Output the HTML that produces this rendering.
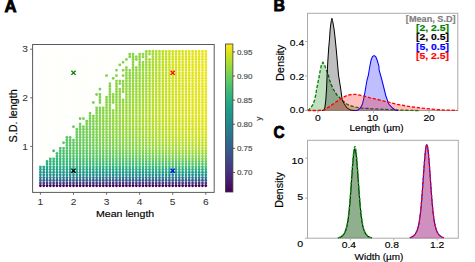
<!DOCTYPE html>
<html><head><meta charset="utf-8"><style>
html,body{margin:0;padding:0;background:#fff;width:475px;height:262px;overflow:hidden}
svg{display:block;font-family:"Liberation Sans", sans-serif}
</style></head><body>
<svg width="475" height="262" viewBox="0 0 475 262">
<rect width="475" height="262" fill="#fff"/>
<defs><linearGradient id="vg" x1="0" y1="0" x2="0" y2="1"><stop offset="0.000" stop-color="#fde725"/><stop offset="0.025" stop-color="#efe51c"/><stop offset="0.050" stop-color="#dfe318"/><stop offset="0.075" stop-color="#cde11d"/><stop offset="0.100" stop-color="#bddf26"/><stop offset="0.125" stop-color="#addc30"/><stop offset="0.150" stop-color="#9bd93c"/><stop offset="0.175" stop-color="#8bd646"/><stop offset="0.200" stop-color="#7ad151"/><stop offset="0.225" stop-color="#6ccd5a"/><stop offset="0.250" stop-color="#5ec962"/><stop offset="0.275" stop-color="#50c46a"/><stop offset="0.300" stop-color="#44bf70"/><stop offset="0.325" stop-color="#38b977"/><stop offset="0.350" stop-color="#2fb47c"/><stop offset="0.375" stop-color="#28ae80"/><stop offset="0.400" stop-color="#22a884"/><stop offset="0.425" stop-color="#1fa287"/><stop offset="0.450" stop-color="#1e9c89"/><stop offset="0.475" stop-color="#1f968b"/><stop offset="0.500" stop-color="#21918c"/><stop offset="0.525" stop-color="#238a8d"/><stop offset="0.550" stop-color="#25848e"/><stop offset="0.575" stop-color="#277e8e"/><stop offset="0.600" stop-color="#2a788e"/><stop offset="0.625" stop-color="#2c728e"/><stop offset="0.650" stop-color="#2f6c8e"/><stop offset="0.675" stop-color="#31668e"/><stop offset="0.700" stop-color="#355f8d"/><stop offset="0.725" stop-color="#38598c"/><stop offset="0.750" stop-color="#3b528b"/><stop offset="0.775" stop-color="#3e4a89"/><stop offset="0.800" stop-color="#414487"/><stop offset="0.825" stop-color="#443b84"/><stop offset="0.850" stop-color="#463480"/><stop offset="0.875" stop-color="#472d7b"/><stop offset="0.900" stop-color="#482475"/><stop offset="0.925" stop-color="#481c6e"/><stop offset="0.950" stop-color="#471365"/><stop offset="0.975" stop-color="#460a5d"/><stop offset="1.000" stop-color="#440154"/></linearGradient></defs>
<g><ellipse cx="40.40" cy="185.60" rx="1.36" ry="1.62" fill="#440154"/><ellipse cx="40.40" cy="182.91" rx="1.36" ry="1.62" fill="#433d84"/><ellipse cx="40.40" cy="180.23" rx="1.36" ry="1.62" fill="#34618d"/><ellipse cx="40.40" cy="177.54" rx="1.36" ry="1.62" fill="#2a788e"/><ellipse cx="40.40" cy="174.86" rx="1.36" ry="1.62" fill="#23898e"/><ellipse cx="40.40" cy="172.17" rx="1.36" ry="1.62" fill="#1f958b"/><ellipse cx="40.40" cy="169.48" rx="1.36" ry="1.62" fill="#1f9f88"/><ellipse cx="40.40" cy="166.80" rx="1.36" ry="1.62" fill="#21a585"/><ellipse cx="40.40" cy="164.11" rx="1.36" ry="1.62" fill="#fefefa"/><ellipse cx="40.40" cy="161.43" rx="1.36" ry="1.62" fill="#fefefa"/><ellipse cx="40.40" cy="158.74" rx="1.36" ry="1.62" fill="#fefefa"/><ellipse cx="40.40" cy="156.05" rx="1.36" ry="1.62" fill="#fefefa"/><ellipse cx="40.40" cy="153.37" rx="1.36" ry="1.62" fill="#fefefa"/><ellipse cx="40.40" cy="150.68" rx="1.36" ry="1.62" fill="#fefefa"/><ellipse cx="40.40" cy="148.00" rx="1.36" ry="1.62" fill="#fefefa"/><ellipse cx="40.40" cy="145.31" rx="1.36" ry="1.62" fill="#fefefa"/><ellipse cx="40.40" cy="142.62" rx="1.36" ry="1.62" fill="#fefefa"/><ellipse cx="40.40" cy="139.94" rx="1.36" ry="1.62" fill="#fefefa"/><ellipse cx="40.40" cy="137.25" rx="1.36" ry="1.62" fill="#fefefa"/><ellipse cx="40.40" cy="134.57" rx="1.36" ry="1.62" fill="#fefefa"/><ellipse cx="40.40" cy="131.88" rx="1.36" ry="1.62" fill="#fefefa"/><ellipse cx="40.40" cy="129.19" rx="1.36" ry="1.62" fill="#fefefa"/><ellipse cx="40.40" cy="126.51" rx="1.36" ry="1.62" fill="#fefefa"/><ellipse cx="40.40" cy="123.82" rx="1.36" ry="1.62" fill="#fefefa"/><ellipse cx="40.40" cy="121.14" rx="1.36" ry="1.62" fill="#fefefa"/><ellipse cx="40.40" cy="118.45" rx="1.36" ry="1.62" fill="#fefefa"/><ellipse cx="40.40" cy="115.76" rx="1.36" ry="1.62" fill="#fefefa"/><ellipse cx="40.40" cy="113.08" rx="1.36" ry="1.62" fill="#fefefa"/><ellipse cx="40.40" cy="110.39" rx="1.36" ry="1.62" fill="#fefefa"/><ellipse cx="40.40" cy="107.71" rx="1.36" ry="1.62" fill="#fefefa"/><ellipse cx="40.40" cy="105.02" rx="1.36" ry="1.62" fill="#fefefa"/><ellipse cx="40.40" cy="102.33" rx="1.36" ry="1.62" fill="#fefefa"/><ellipse cx="40.40" cy="99.65" rx="1.36" ry="1.62" fill="#fefefa"/><ellipse cx="40.40" cy="96.96" rx="1.36" ry="1.62" fill="#fefefa"/><ellipse cx="40.40" cy="94.28" rx="1.36" ry="1.62" fill="#fefefa"/><ellipse cx="40.40" cy="91.59" rx="1.36" ry="1.62" fill="#fefefa"/><ellipse cx="40.40" cy="88.90" rx="1.36" ry="1.62" fill="#fefefa"/><ellipse cx="40.40" cy="86.22" rx="1.36" ry="1.62" fill="#fefefa"/><ellipse cx="40.40" cy="83.53" rx="1.36" ry="1.62" fill="#fefefa"/><ellipse cx="40.40" cy="80.85" rx="1.36" ry="1.62" fill="#fefefa"/><ellipse cx="40.40" cy="78.16" rx="1.36" ry="1.62" fill="#fefefa"/><ellipse cx="40.40" cy="75.47" rx="1.36" ry="1.62" fill="#fefefa"/><ellipse cx="40.40" cy="72.79" rx="1.36" ry="1.62" fill="#fefefa"/><ellipse cx="40.40" cy="70.10" rx="1.36" ry="1.62" fill="#fefefa"/><ellipse cx="40.40" cy="67.42" rx="1.36" ry="1.62" fill="#fefefa"/><ellipse cx="40.40" cy="64.73" rx="1.36" ry="1.62" fill="#fefefa"/><ellipse cx="40.40" cy="62.04" rx="1.36" ry="1.62" fill="#fefefa"/><ellipse cx="40.40" cy="59.36" rx="1.36" ry="1.62" fill="#fefefa"/><ellipse cx="40.40" cy="56.67" rx="1.36" ry="1.62" fill="#fefefa"/><ellipse cx="40.40" cy="53.99" rx="1.36" ry="1.62" fill="#fefefa"/><ellipse cx="40.40" cy="51.30" rx="1.36" ry="1.62" fill="#fefefa"/><ellipse cx="43.71" cy="185.60" rx="1.36" ry="1.62" fill="#440154"/><ellipse cx="43.71" cy="182.91" rx="1.36" ry="1.62" fill="#433d84"/><ellipse cx="43.71" cy="180.23" rx="1.36" ry="1.62" fill="#34618d"/><ellipse cx="43.71" cy="177.54" rx="1.36" ry="1.62" fill="#29798e"/><ellipse cx="43.71" cy="174.86" rx="1.36" ry="1.62" fill="#238a8d"/><ellipse cx="43.71" cy="172.17" rx="1.36" ry="1.62" fill="#1f968b"/><ellipse cx="43.71" cy="169.48" rx="1.36" ry="1.62" fill="#1fa088"/><ellipse cx="43.71" cy="166.80" rx="1.36" ry="1.62" fill="#21a685"/><ellipse cx="43.71" cy="164.11" rx="1.36" ry="1.62" fill="#fefefa"/><ellipse cx="43.71" cy="161.43" rx="1.36" ry="1.62" fill="#fefefa"/><ellipse cx="43.71" cy="158.74" rx="1.36" ry="1.62" fill="#fefefa"/><ellipse cx="43.71" cy="156.05" rx="1.36" ry="1.62" fill="#fefefa"/><ellipse cx="43.71" cy="153.37" rx="1.36" ry="1.62" fill="#fefefa"/><ellipse cx="43.71" cy="150.68" rx="1.36" ry="1.62" fill="#fefefa"/><ellipse cx="43.71" cy="148.00" rx="1.36" ry="1.62" fill="#fefefa"/><ellipse cx="43.71" cy="145.31" rx="1.36" ry="1.62" fill="#fefefa"/><ellipse cx="43.71" cy="142.62" rx="1.36" ry="1.62" fill="#fefefa"/><ellipse cx="43.71" cy="139.94" rx="1.36" ry="1.62" fill="#fefefa"/><ellipse cx="43.71" cy="137.25" rx="1.36" ry="1.62" fill="#fefefa"/><ellipse cx="43.71" cy="134.57" rx="1.36" ry="1.62" fill="#fefefa"/><ellipse cx="43.71" cy="131.88" rx="1.36" ry="1.62" fill="#fefefa"/><ellipse cx="43.71" cy="129.19" rx="1.36" ry="1.62" fill="#fefefa"/><ellipse cx="43.71" cy="126.51" rx="1.36" ry="1.62" fill="#fefefa"/><ellipse cx="43.71" cy="123.82" rx="1.36" ry="1.62" fill="#fefefa"/><ellipse cx="43.71" cy="121.14" rx="1.36" ry="1.62" fill="#fefefa"/><ellipse cx="43.71" cy="118.45" rx="1.36" ry="1.62" fill="#fefefa"/><ellipse cx="43.71" cy="115.76" rx="1.36" ry="1.62" fill="#fefefa"/><ellipse cx="43.71" cy="113.08" rx="1.36" ry="1.62" fill="#fefefa"/><ellipse cx="43.71" cy="110.39" rx="1.36" ry="1.62" fill="#fefefa"/><ellipse cx="43.71" cy="107.71" rx="1.36" ry="1.62" fill="#fefefa"/><ellipse cx="43.71" cy="105.02" rx="1.36" ry="1.62" fill="#fefefa"/><ellipse cx="43.71" cy="102.33" rx="1.36" ry="1.62" fill="#fefefa"/><ellipse cx="43.71" cy="99.65" rx="1.36" ry="1.62" fill="#fefefa"/><ellipse cx="43.71" cy="96.96" rx="1.36" ry="1.62" fill="#fefefa"/><ellipse cx="43.71" cy="94.28" rx="1.36" ry="1.62" fill="#fefefa"/><ellipse cx="43.71" cy="91.59" rx="1.36" ry="1.62" fill="#fefefa"/><ellipse cx="43.71" cy="88.90" rx="1.36" ry="1.62" fill="#fefefa"/><ellipse cx="43.71" cy="86.22" rx="1.36" ry="1.62" fill="#fefefa"/><ellipse cx="43.71" cy="83.53" rx="1.36" ry="1.62" fill="#fefefa"/><ellipse cx="43.71" cy="80.85" rx="1.36" ry="1.62" fill="#fefefa"/><ellipse cx="43.71" cy="78.16" rx="1.36" ry="1.62" fill="#fefefa"/><ellipse cx="43.71" cy="75.47" rx="1.36" ry="1.62" fill="#fefefa"/><ellipse cx="43.71" cy="72.79" rx="1.36" ry="1.62" fill="#fefefa"/><ellipse cx="43.71" cy="70.10" rx="1.36" ry="1.62" fill="#fefefa"/><ellipse cx="43.71" cy="67.42" rx="1.36" ry="1.62" fill="#fefefa"/><ellipse cx="43.71" cy="64.73" rx="1.36" ry="1.62" fill="#fefefa"/><ellipse cx="43.71" cy="62.04" rx="1.36" ry="1.62" fill="#fefefa"/><ellipse cx="43.71" cy="59.36" rx="1.36" ry="1.62" fill="#fefefa"/><ellipse cx="43.71" cy="56.67" rx="1.36" ry="1.62" fill="#fefefa"/><ellipse cx="43.71" cy="53.99" rx="1.36" ry="1.62" fill="#fefefa"/><ellipse cx="43.71" cy="51.30" rx="1.36" ry="1.62" fill="#fefefa"/><ellipse cx="47.02" cy="185.60" rx="1.36" ry="1.62" fill="#440154"/><ellipse cx="47.02" cy="182.91" rx="1.36" ry="1.62" fill="#433d84"/><ellipse cx="47.02" cy="180.23" rx="1.36" ry="1.62" fill="#34618d"/><ellipse cx="47.02" cy="177.54" rx="1.36" ry="1.62" fill="#29798e"/><ellipse cx="47.02" cy="174.86" rx="1.36" ry="1.62" fill="#228b8d"/><ellipse cx="47.02" cy="172.17" rx="1.36" ry="1.62" fill="#1f988b"/><ellipse cx="47.02" cy="169.48" rx="1.36" ry="1.62" fill="#1fa187"/><ellipse cx="47.02" cy="166.80" rx="1.36" ry="1.62" fill="#22a884"/><ellipse cx="47.02" cy="164.11" rx="1.36" ry="1.62" fill="#27ad81"/><ellipse cx="47.02" cy="161.43" rx="1.36" ry="1.62" fill="#2cb17e"/><ellipse cx="47.02" cy="158.74" rx="1.36" ry="1.62" fill="#fefefa"/><ellipse cx="47.02" cy="156.05" rx="1.36" ry="1.62" fill="#fefefa"/><ellipse cx="47.02" cy="153.37" rx="1.36" ry="1.62" fill="#fefefa"/><ellipse cx="47.02" cy="150.68" rx="1.36" ry="1.62" fill="#fefefa"/><ellipse cx="47.02" cy="148.00" rx="1.36" ry="1.62" fill="#fefefa"/><ellipse cx="47.02" cy="145.31" rx="1.36" ry="1.62" fill="#fefefa"/><ellipse cx="47.02" cy="142.62" rx="1.36" ry="1.62" fill="#fefefa"/><ellipse cx="47.02" cy="139.94" rx="1.36" ry="1.62" fill="#fefefa"/><ellipse cx="47.02" cy="137.25" rx="1.36" ry="1.62" fill="#fefefa"/><ellipse cx="47.02" cy="134.57" rx="1.36" ry="1.62" fill="#fefefa"/><ellipse cx="47.02" cy="131.88" rx="1.36" ry="1.62" fill="#fefefa"/><ellipse cx="47.02" cy="129.19" rx="1.36" ry="1.62" fill="#fefefa"/><ellipse cx="47.02" cy="126.51" rx="1.36" ry="1.62" fill="#fefefa"/><ellipse cx="47.02" cy="123.82" rx="1.36" ry="1.62" fill="#fefefa"/><ellipse cx="47.02" cy="121.14" rx="1.36" ry="1.62" fill="#fefefa"/><ellipse cx="47.02" cy="118.45" rx="1.36" ry="1.62" fill="#fefefa"/><ellipse cx="47.02" cy="115.76" rx="1.36" ry="1.62" fill="#fefefa"/><ellipse cx="47.02" cy="113.08" rx="1.36" ry="1.62" fill="#fefefa"/><ellipse cx="47.02" cy="110.39" rx="1.36" ry="1.62" fill="#fefefa"/><ellipse cx="47.02" cy="107.71" rx="1.36" ry="1.62" fill="#fefefa"/><ellipse cx="47.02" cy="105.02" rx="1.36" ry="1.62" fill="#fefefa"/><ellipse cx="47.02" cy="102.33" rx="1.36" ry="1.62" fill="#fefefa"/><ellipse cx="47.02" cy="99.65" rx="1.36" ry="1.62" fill="#fefefa"/><ellipse cx="47.02" cy="96.96" rx="1.36" ry="1.62" fill="#fefefa"/><ellipse cx="47.02" cy="94.28" rx="1.36" ry="1.62" fill="#fefefa"/><ellipse cx="47.02" cy="91.59" rx="1.36" ry="1.62" fill="#fefefa"/><ellipse cx="47.02" cy="88.90" rx="1.36" ry="1.62" fill="#fefefa"/><ellipse cx="47.02" cy="86.22" rx="1.36" ry="1.62" fill="#fefefa"/><ellipse cx="47.02" cy="83.53" rx="1.36" ry="1.62" fill="#fefefa"/><ellipse cx="47.02" cy="80.85" rx="1.36" ry="1.62" fill="#fefefa"/><ellipse cx="47.02" cy="78.16" rx="1.36" ry="1.62" fill="#fefefa"/><ellipse cx="47.02" cy="75.47" rx="1.36" ry="1.62" fill="#fefefa"/><ellipse cx="47.02" cy="72.79" rx="1.36" ry="1.62" fill="#fefefa"/><ellipse cx="47.02" cy="70.10" rx="1.36" ry="1.62" fill="#fefefa"/><ellipse cx="47.02" cy="67.42" rx="1.36" ry="1.62" fill="#fefefa"/><ellipse cx="47.02" cy="64.73" rx="1.36" ry="1.62" fill="#fefefa"/><ellipse cx="47.02" cy="62.04" rx="1.36" ry="1.62" fill="#fefefa"/><ellipse cx="47.02" cy="59.36" rx="1.36" ry="1.62" fill="#fefefa"/><ellipse cx="47.02" cy="56.67" rx="1.36" ry="1.62" fill="#fefefa"/><ellipse cx="47.02" cy="53.99" rx="1.36" ry="1.62" fill="#fefefa"/><ellipse cx="47.02" cy="51.30" rx="1.36" ry="1.62" fill="#fefefa"/><ellipse cx="50.32" cy="185.60" rx="1.36" ry="1.62" fill="#440154"/><ellipse cx="50.32" cy="182.91" rx="1.36" ry="1.62" fill="#433d84"/><ellipse cx="50.32" cy="180.23" rx="1.36" ry="1.62" fill="#33628d"/><ellipse cx="50.32" cy="177.54" rx="1.36" ry="1.62" fill="#297a8e"/><ellipse cx="50.32" cy="174.86" rx="1.36" ry="1.62" fill="#228c8d"/><ellipse cx="50.32" cy="172.17" rx="1.36" ry="1.62" fill="#1f998a"/><ellipse cx="50.32" cy="169.48" rx="1.36" ry="1.62" fill="#1fa287"/><ellipse cx="50.32" cy="166.80" rx="1.36" ry="1.62" fill="#24aa83"/><ellipse cx="50.32" cy="164.11" rx="1.36" ry="1.62" fill="#29af7f"/><ellipse cx="50.32" cy="161.43" rx="1.36" ry="1.62" fill="#2fb47c"/><ellipse cx="50.32" cy="158.74" rx="1.36" ry="1.62" fill="#34b679"/><ellipse cx="50.32" cy="156.05" rx="1.36" ry="1.62" fill="#fefefa"/><ellipse cx="50.32" cy="153.37" rx="1.36" ry="1.62" fill="#fefefa"/><ellipse cx="50.32" cy="150.68" rx="1.36" ry="1.62" fill="#fefefa"/><ellipse cx="50.32" cy="148.00" rx="1.36" ry="1.62" fill="#fefefa"/><ellipse cx="50.32" cy="145.31" rx="1.36" ry="1.62" fill="#fefefa"/><ellipse cx="50.32" cy="142.62" rx="1.36" ry="1.62" fill="#fefefa"/><ellipse cx="50.32" cy="139.94" rx="1.36" ry="1.62" fill="#fefefa"/><ellipse cx="50.32" cy="137.25" rx="1.36" ry="1.62" fill="#fefefa"/><ellipse cx="50.32" cy="134.57" rx="1.36" ry="1.62" fill="#fefefa"/><ellipse cx="50.32" cy="131.88" rx="1.36" ry="1.62" fill="#fefefa"/><ellipse cx="50.32" cy="129.19" rx="1.36" ry="1.62" fill="#fefefa"/><ellipse cx="50.32" cy="126.51" rx="1.36" ry="1.62" fill="#fefefa"/><ellipse cx="50.32" cy="123.82" rx="1.36" ry="1.62" fill="#fefefa"/><ellipse cx="50.32" cy="121.14" rx="1.36" ry="1.62" fill="#fefefa"/><ellipse cx="50.32" cy="118.45" rx="1.36" ry="1.62" fill="#fefefa"/><ellipse cx="50.32" cy="115.76" rx="1.36" ry="1.62" fill="#fefefa"/><ellipse cx="50.32" cy="113.08" rx="1.36" ry="1.62" fill="#fefefa"/><ellipse cx="50.32" cy="110.39" rx="1.36" ry="1.62" fill="#fefefa"/><ellipse cx="50.32" cy="107.71" rx="1.36" ry="1.62" fill="#fefefa"/><ellipse cx="50.32" cy="105.02" rx="1.36" ry="1.62" fill="#fefefa"/><ellipse cx="50.32" cy="102.33" rx="1.36" ry="1.62" fill="#fefefa"/><ellipse cx="50.32" cy="99.65" rx="1.36" ry="1.62" fill="#fefefa"/><ellipse cx="50.32" cy="96.96" rx="1.36" ry="1.62" fill="#fefefa"/><ellipse cx="50.32" cy="94.28" rx="1.36" ry="1.62" fill="#fefefa"/><ellipse cx="50.32" cy="91.59" rx="1.36" ry="1.62" fill="#fefefa"/><ellipse cx="50.32" cy="88.90" rx="1.36" ry="1.62" fill="#fefefa"/><ellipse cx="50.32" cy="86.22" rx="1.36" ry="1.62" fill="#fefefa"/><ellipse cx="50.32" cy="83.53" rx="1.36" ry="1.62" fill="#fefefa"/><ellipse cx="50.32" cy="80.85" rx="1.36" ry="1.62" fill="#fefefa"/><ellipse cx="50.32" cy="78.16" rx="1.36" ry="1.62" fill="#fefefa"/><ellipse cx="50.32" cy="75.47" rx="1.36" ry="1.62" fill="#fefefa"/><ellipse cx="50.32" cy="72.79" rx="1.36" ry="1.62" fill="#fefefa"/><ellipse cx="50.32" cy="70.10" rx="1.36" ry="1.62" fill="#fefefa"/><ellipse cx="50.32" cy="67.42" rx="1.36" ry="1.62" fill="#fefefa"/><ellipse cx="50.32" cy="64.73" rx="1.36" ry="1.62" fill="#fefefa"/><ellipse cx="50.32" cy="62.04" rx="1.36" ry="1.62" fill="#fefefa"/><ellipse cx="50.32" cy="59.36" rx="1.36" ry="1.62" fill="#fefefa"/><ellipse cx="50.32" cy="56.67" rx="1.36" ry="1.62" fill="#fefefa"/><ellipse cx="50.32" cy="53.99" rx="1.36" ry="1.62" fill="#fefefa"/><ellipse cx="50.32" cy="51.30" rx="1.36" ry="1.62" fill="#fefefa"/><ellipse cx="53.63" cy="185.60" rx="1.36" ry="1.62" fill="#440154"/><ellipse cx="53.63" cy="182.91" rx="1.36" ry="1.62" fill="#443b84"/><ellipse cx="53.63" cy="180.23" rx="1.36" ry="1.62" fill="#34618d"/><ellipse cx="53.63" cy="177.54" rx="1.36" ry="1.62" fill="#297a8e"/><ellipse cx="53.63" cy="174.86" rx="1.36" ry="1.62" fill="#228c8d"/><ellipse cx="53.63" cy="172.17" rx="1.36" ry="1.62" fill="#1f998a"/><ellipse cx="53.63" cy="169.48" rx="1.36" ry="1.62" fill="#20a386"/><ellipse cx="53.63" cy="166.80" rx="1.36" ry="1.62" fill="#25ab82"/><ellipse cx="53.63" cy="164.11" rx="1.36" ry="1.62" fill="#2cb17e"/><ellipse cx="53.63" cy="161.43" rx="1.36" ry="1.62" fill="#31b57b"/><ellipse cx="53.63" cy="158.74" rx="1.36" ry="1.62" fill="#37b878"/><ellipse cx="53.63" cy="156.05" rx="1.36" ry="1.62" fill="#fefefa"/><ellipse cx="53.63" cy="153.37" rx="1.36" ry="1.62" fill="#fefefa"/><ellipse cx="53.63" cy="150.68" rx="1.36" ry="1.62" fill="#40bd72"/><ellipse cx="53.63" cy="148.00" rx="1.36" ry="1.62" fill="#fefefa"/><ellipse cx="53.63" cy="145.31" rx="1.36" ry="1.62" fill="#fefefa"/><ellipse cx="53.63" cy="142.62" rx="1.36" ry="1.62" fill="#fefefa"/><ellipse cx="53.63" cy="139.94" rx="1.36" ry="1.62" fill="#fefefa"/><ellipse cx="53.63" cy="137.25" rx="1.36" ry="1.62" fill="#fefefa"/><ellipse cx="53.63" cy="134.57" rx="1.36" ry="1.62" fill="#fefefa"/><ellipse cx="53.63" cy="131.88" rx="1.36" ry="1.62" fill="#fefefa"/><ellipse cx="53.63" cy="129.19" rx="1.36" ry="1.62" fill="#fefefa"/><ellipse cx="53.63" cy="126.51" rx="1.36" ry="1.62" fill="#fefefa"/><ellipse cx="53.63" cy="123.82" rx="1.36" ry="1.62" fill="#fefefa"/><ellipse cx="53.63" cy="121.14" rx="1.36" ry="1.62" fill="#fefefa"/><ellipse cx="53.63" cy="118.45" rx="1.36" ry="1.62" fill="#fefefa"/><ellipse cx="53.63" cy="115.76" rx="1.36" ry="1.62" fill="#fefefa"/><ellipse cx="53.63" cy="113.08" rx="1.36" ry="1.62" fill="#fefefa"/><ellipse cx="53.63" cy="110.39" rx="1.36" ry="1.62" fill="#fefefa"/><ellipse cx="53.63" cy="107.71" rx="1.36" ry="1.62" fill="#fefefa"/><ellipse cx="53.63" cy="105.02" rx="1.36" ry="1.62" fill="#fefefa"/><ellipse cx="53.63" cy="102.33" rx="1.36" ry="1.62" fill="#fefefa"/><ellipse cx="53.63" cy="99.65" rx="1.36" ry="1.62" fill="#fefefa"/><ellipse cx="53.63" cy="96.96" rx="1.36" ry="1.62" fill="#fefefa"/><ellipse cx="53.63" cy="94.28" rx="1.36" ry="1.62" fill="#fefefa"/><ellipse cx="53.63" cy="91.59" rx="1.36" ry="1.62" fill="#fefefa"/><ellipse cx="53.63" cy="88.90" rx="1.36" ry="1.62" fill="#fefefa"/><ellipse cx="53.63" cy="86.22" rx="1.36" ry="1.62" fill="#fefefa"/><ellipse cx="53.63" cy="83.53" rx="1.36" ry="1.62" fill="#fefefa"/><ellipse cx="53.63" cy="80.85" rx="1.36" ry="1.62" fill="#fefefa"/><ellipse cx="53.63" cy="78.16" rx="1.36" ry="1.62" fill="#fefefa"/><ellipse cx="53.63" cy="75.47" rx="1.36" ry="1.62" fill="#fefefa"/><ellipse cx="53.63" cy="72.79" rx="1.36" ry="1.62" fill="#fefefa"/><ellipse cx="53.63" cy="70.10" rx="1.36" ry="1.62" fill="#fefefa"/><ellipse cx="53.63" cy="67.42" rx="1.36" ry="1.62" fill="#fefefa"/><ellipse cx="53.63" cy="64.73" rx="1.36" ry="1.62" fill="#fefefa"/><ellipse cx="53.63" cy="62.04" rx="1.36" ry="1.62" fill="#fefefa"/><ellipse cx="53.63" cy="59.36" rx="1.36" ry="1.62" fill="#fefefa"/><ellipse cx="53.63" cy="56.67" rx="1.36" ry="1.62" fill="#fefefa"/><ellipse cx="53.63" cy="53.99" rx="1.36" ry="1.62" fill="#fefefa"/><ellipse cx="53.63" cy="51.30" rx="1.36" ry="1.62" fill="#fefefa"/><ellipse cx="56.94" cy="185.60" rx="1.36" ry="1.62" fill="#440154"/><ellipse cx="56.94" cy="182.91" rx="1.36" ry="1.62" fill="#443b84"/><ellipse cx="56.94" cy="180.23" rx="1.36" ry="1.62" fill="#34618d"/><ellipse cx="56.94" cy="177.54" rx="1.36" ry="1.62" fill="#297a8e"/><ellipse cx="56.94" cy="174.86" rx="1.36" ry="1.62" fill="#228c8d"/><ellipse cx="56.94" cy="172.17" rx="1.36" ry="1.62" fill="#1f9a8a"/><ellipse cx="56.94" cy="169.48" rx="1.36" ry="1.62" fill="#20a486"/><ellipse cx="56.94" cy="166.80" rx="1.36" ry="1.62" fill="#25ac82"/><ellipse cx="56.94" cy="164.11" rx="1.36" ry="1.62" fill="#2db27d"/><ellipse cx="56.94" cy="161.43" rx="1.36" ry="1.62" fill="#34b679"/><ellipse cx="56.94" cy="158.74" rx="1.36" ry="1.62" fill="#38b977"/><ellipse cx="56.94" cy="156.05" rx="1.36" ry="1.62" fill="#3dbc74"/><ellipse cx="56.94" cy="153.37" rx="1.36" ry="1.62" fill="#40bd72"/><ellipse cx="56.94" cy="150.68" rx="1.36" ry="1.62" fill="#fefefa"/><ellipse cx="56.94" cy="148.00" rx="1.36" ry="1.62" fill="#fefefa"/><ellipse cx="56.94" cy="145.31" rx="1.36" ry="1.62" fill="#fefefa"/><ellipse cx="56.94" cy="142.62" rx="1.36" ry="1.62" fill="#fefefa"/><ellipse cx="56.94" cy="139.94" rx="1.36" ry="1.62" fill="#fefefa"/><ellipse cx="56.94" cy="137.25" rx="1.36" ry="1.62" fill="#fefefa"/><ellipse cx="56.94" cy="134.57" rx="1.36" ry="1.62" fill="#fefefa"/><ellipse cx="56.94" cy="131.88" rx="1.36" ry="1.62" fill="#fefefa"/><ellipse cx="56.94" cy="129.19" rx="1.36" ry="1.62" fill="#fefefa"/><ellipse cx="56.94" cy="126.51" rx="1.36" ry="1.62" fill="#fefefa"/><ellipse cx="56.94" cy="123.82" rx="1.36" ry="1.62" fill="#fefefa"/><ellipse cx="56.94" cy="121.14" rx="1.36" ry="1.62" fill="#fefefa"/><ellipse cx="56.94" cy="118.45" rx="1.36" ry="1.62" fill="#fefefa"/><ellipse cx="56.94" cy="115.76" rx="1.36" ry="1.62" fill="#fefefa"/><ellipse cx="56.94" cy="113.08" rx="1.36" ry="1.62" fill="#fefefa"/><ellipse cx="56.94" cy="110.39" rx="1.36" ry="1.62" fill="#fefefa"/><ellipse cx="56.94" cy="107.71" rx="1.36" ry="1.62" fill="#fefefa"/><ellipse cx="56.94" cy="105.02" rx="1.36" ry="1.62" fill="#fefefa"/><ellipse cx="56.94" cy="102.33" rx="1.36" ry="1.62" fill="#fefefa"/><ellipse cx="56.94" cy="99.65" rx="1.36" ry="1.62" fill="#fefefa"/><ellipse cx="56.94" cy="96.96" rx="1.36" ry="1.62" fill="#fefefa"/><ellipse cx="56.94" cy="94.28" rx="1.36" ry="1.62" fill="#fefefa"/><ellipse cx="56.94" cy="91.59" rx="1.36" ry="1.62" fill="#fefefa"/><ellipse cx="56.94" cy="88.90" rx="1.36" ry="1.62" fill="#fefefa"/><ellipse cx="56.94" cy="86.22" rx="1.36" ry="1.62" fill="#fefefa"/><ellipse cx="56.94" cy="83.53" rx="1.36" ry="1.62" fill="#fefefa"/><ellipse cx="56.94" cy="80.85" rx="1.36" ry="1.62" fill="#fefefa"/><ellipse cx="56.94" cy="78.16" rx="1.36" ry="1.62" fill="#fefefa"/><ellipse cx="56.94" cy="75.47" rx="1.36" ry="1.62" fill="#fefefa"/><ellipse cx="56.94" cy="72.79" rx="1.36" ry="1.62" fill="#fefefa"/><ellipse cx="56.94" cy="70.10" rx="1.36" ry="1.62" fill="#fefefa"/><ellipse cx="56.94" cy="67.42" rx="1.36" ry="1.62" fill="#fefefa"/><ellipse cx="56.94" cy="64.73" rx="1.36" ry="1.62" fill="#fefefa"/><ellipse cx="56.94" cy="62.04" rx="1.36" ry="1.62" fill="#fefefa"/><ellipse cx="56.94" cy="59.36" rx="1.36" ry="1.62" fill="#fefefa"/><ellipse cx="56.94" cy="56.67" rx="1.36" ry="1.62" fill="#fefefa"/><ellipse cx="56.94" cy="53.99" rx="1.36" ry="1.62" fill="#fefefa"/><ellipse cx="56.94" cy="51.30" rx="1.36" ry="1.62" fill="#fefefa"/><ellipse cx="60.25" cy="185.60" rx="1.36" ry="1.62" fill="#440154"/><ellipse cx="60.25" cy="182.91" rx="1.36" ry="1.62" fill="#443b84"/><ellipse cx="60.25" cy="180.23" rx="1.36" ry="1.62" fill="#34618d"/><ellipse cx="60.25" cy="177.54" rx="1.36" ry="1.62" fill="#297a8e"/><ellipse cx="60.25" cy="174.86" rx="1.36" ry="1.62" fill="#228c8d"/><ellipse cx="60.25" cy="172.17" rx="1.36" ry="1.62" fill="#1f9a8a"/><ellipse cx="60.25" cy="169.48" rx="1.36" ry="1.62" fill="#21a585"/><ellipse cx="60.25" cy="166.80" rx="1.36" ry="1.62" fill="#26ad81"/><ellipse cx="60.25" cy="164.11" rx="1.36" ry="1.62" fill="#2eb37c"/><ellipse cx="60.25" cy="161.43" rx="1.36" ry="1.62" fill="#35b779"/><ellipse cx="60.25" cy="158.74" rx="1.36" ry="1.62" fill="#3bbb75"/><ellipse cx="60.25" cy="156.05" rx="1.36" ry="1.62" fill="#40bd72"/><ellipse cx="60.25" cy="153.37" rx="1.36" ry="1.62" fill="#44bf70"/><ellipse cx="60.25" cy="150.68" rx="1.36" ry="1.62" fill="#48c16e"/><ellipse cx="60.25" cy="148.00" rx="1.36" ry="1.62" fill="#4ac16d"/><ellipse cx="60.25" cy="145.31" rx="1.36" ry="1.62" fill="#fefefa"/><ellipse cx="60.25" cy="142.62" rx="1.36" ry="1.62" fill="#fefefa"/><ellipse cx="60.25" cy="139.94" rx="1.36" ry="1.62" fill="#fefefa"/><ellipse cx="60.25" cy="137.25" rx="1.36" ry="1.62" fill="#fefefa"/><ellipse cx="60.25" cy="134.57" rx="1.36" ry="1.62" fill="#fefefa"/><ellipse cx="60.25" cy="131.88" rx="1.36" ry="1.62" fill="#fefefa"/><ellipse cx="60.25" cy="129.19" rx="1.36" ry="1.62" fill="#fefefa"/><ellipse cx="60.25" cy="126.51" rx="1.36" ry="1.62" fill="#fefefa"/><ellipse cx="60.25" cy="123.82" rx="1.36" ry="1.62" fill="#fefefa"/><ellipse cx="60.25" cy="121.14" rx="1.36" ry="1.62" fill="#fefefa"/><ellipse cx="60.25" cy="118.45" rx="1.36" ry="1.62" fill="#fefefa"/><ellipse cx="60.25" cy="115.76" rx="1.36" ry="1.62" fill="#fefefa"/><ellipse cx="60.25" cy="113.08" rx="1.36" ry="1.62" fill="#fefefa"/><ellipse cx="60.25" cy="110.39" rx="1.36" ry="1.62" fill="#fefefa"/><ellipse cx="60.25" cy="107.71" rx="1.36" ry="1.62" fill="#fefefa"/><ellipse cx="60.25" cy="105.02" rx="1.36" ry="1.62" fill="#fefefa"/><ellipse cx="60.25" cy="102.33" rx="1.36" ry="1.62" fill="#fefefa"/><ellipse cx="60.25" cy="99.65" rx="1.36" ry="1.62" fill="#fefefa"/><ellipse cx="60.25" cy="96.96" rx="1.36" ry="1.62" fill="#fefefa"/><ellipse cx="60.25" cy="94.28" rx="1.36" ry="1.62" fill="#fefefa"/><ellipse cx="60.25" cy="91.59" rx="1.36" ry="1.62" fill="#fefefa"/><ellipse cx="60.25" cy="88.90" rx="1.36" ry="1.62" fill="#fefefa"/><ellipse cx="60.25" cy="86.22" rx="1.36" ry="1.62" fill="#fefefa"/><ellipse cx="60.25" cy="83.53" rx="1.36" ry="1.62" fill="#fefefa"/><ellipse cx="60.25" cy="80.85" rx="1.36" ry="1.62" fill="#fefefa"/><ellipse cx="60.25" cy="78.16" rx="1.36" ry="1.62" fill="#fefefa"/><ellipse cx="60.25" cy="75.47" rx="1.36" ry="1.62" fill="#fefefa"/><ellipse cx="60.25" cy="72.79" rx="1.36" ry="1.62" fill="#fefefa"/><ellipse cx="60.25" cy="70.10" rx="1.36" ry="1.62" fill="#fefefa"/><ellipse cx="60.25" cy="67.42" rx="1.36" ry="1.62" fill="#fefefa"/><ellipse cx="60.25" cy="64.73" rx="1.36" ry="1.62" fill="#fefefa"/><ellipse cx="60.25" cy="62.04" rx="1.36" ry="1.62" fill="#fefefa"/><ellipse cx="60.25" cy="59.36" rx="1.36" ry="1.62" fill="#fefefa"/><ellipse cx="60.25" cy="56.67" rx="1.36" ry="1.62" fill="#fefefa"/><ellipse cx="60.25" cy="53.99" rx="1.36" ry="1.62" fill="#fefefa"/><ellipse cx="60.25" cy="51.30" rx="1.36" ry="1.62" fill="#fefefa"/><ellipse cx="63.56" cy="185.60" rx="1.36" ry="1.62" fill="#440154"/><ellipse cx="63.56" cy="182.91" rx="1.36" ry="1.62" fill="#443b84"/><ellipse cx="63.56" cy="180.23" rx="1.36" ry="1.62" fill="#34618d"/><ellipse cx="63.56" cy="177.54" rx="1.36" ry="1.62" fill="#297a8e"/><ellipse cx="63.56" cy="174.86" rx="1.36" ry="1.62" fill="#228d8d"/><ellipse cx="63.56" cy="172.17" rx="1.36" ry="1.62" fill="#1e9b8a"/><ellipse cx="63.56" cy="169.48" rx="1.36" ry="1.62" fill="#21a685"/><ellipse cx="63.56" cy="166.80" rx="1.36" ry="1.62" fill="#27ad81"/><ellipse cx="63.56" cy="164.11" rx="1.36" ry="1.62" fill="#2fb47c"/><ellipse cx="63.56" cy="161.43" rx="1.36" ry="1.62" fill="#38b977"/><ellipse cx="63.56" cy="158.74" rx="1.36" ry="1.62" fill="#3fbc73"/><ellipse cx="63.56" cy="156.05" rx="1.36" ry="1.62" fill="#44bf70"/><ellipse cx="63.56" cy="153.37" rx="1.36" ry="1.62" fill="#48c16e"/><ellipse cx="63.56" cy="150.68" rx="1.36" ry="1.62" fill="#4cc26c"/><ellipse cx="63.56" cy="148.00" rx="1.36" ry="1.62" fill="#4ec36b"/><ellipse cx="63.56" cy="145.31" rx="1.36" ry="1.62" fill="#fefefa"/><ellipse cx="63.56" cy="142.62" rx="1.36" ry="1.62" fill="#52c569"/><ellipse cx="63.56" cy="139.94" rx="1.36" ry="1.62" fill="#fefefa"/><ellipse cx="63.56" cy="137.25" rx="1.36" ry="1.62" fill="#fefefa"/><ellipse cx="63.56" cy="134.57" rx="1.36" ry="1.62" fill="#fefefa"/><ellipse cx="63.56" cy="131.88" rx="1.36" ry="1.62" fill="#fefefa"/><ellipse cx="63.56" cy="129.19" rx="1.36" ry="1.62" fill="#fefefa"/><ellipse cx="63.56" cy="126.51" rx="1.36" ry="1.62" fill="#fefefa"/><ellipse cx="63.56" cy="123.82" rx="1.36" ry="1.62" fill="#fefefa"/><ellipse cx="63.56" cy="121.14" rx="1.36" ry="1.62" fill="#fefefa"/><ellipse cx="63.56" cy="118.45" rx="1.36" ry="1.62" fill="#fefefa"/><ellipse cx="63.56" cy="115.76" rx="1.36" ry="1.62" fill="#fefefa"/><ellipse cx="63.56" cy="113.08" rx="1.36" ry="1.62" fill="#fefefa"/><ellipse cx="63.56" cy="110.39" rx="1.36" ry="1.62" fill="#fefefa"/><ellipse cx="63.56" cy="107.71" rx="1.36" ry="1.62" fill="#fefefa"/><ellipse cx="63.56" cy="105.02" rx="1.36" ry="1.62" fill="#fefefa"/><ellipse cx="63.56" cy="102.33" rx="1.36" ry="1.62" fill="#fefefa"/><ellipse cx="63.56" cy="99.65" rx="1.36" ry="1.62" fill="#fefefa"/><ellipse cx="63.56" cy="96.96" rx="1.36" ry="1.62" fill="#fefefa"/><ellipse cx="63.56" cy="94.28" rx="1.36" ry="1.62" fill="#fefefa"/><ellipse cx="63.56" cy="91.59" rx="1.36" ry="1.62" fill="#fefefa"/><ellipse cx="63.56" cy="88.90" rx="1.36" ry="1.62" fill="#fefefa"/><ellipse cx="63.56" cy="86.22" rx="1.36" ry="1.62" fill="#fefefa"/><ellipse cx="63.56" cy="83.53" rx="1.36" ry="1.62" fill="#fefefa"/><ellipse cx="63.56" cy="80.85" rx="1.36" ry="1.62" fill="#fefefa"/><ellipse cx="63.56" cy="78.16" rx="1.36" ry="1.62" fill="#fefefa"/><ellipse cx="63.56" cy="75.47" rx="1.36" ry="1.62" fill="#fefefa"/><ellipse cx="63.56" cy="72.79" rx="1.36" ry="1.62" fill="#fefefa"/><ellipse cx="63.56" cy="70.10" rx="1.36" ry="1.62" fill="#fefefa"/><ellipse cx="63.56" cy="67.42" rx="1.36" ry="1.62" fill="#fefefa"/><ellipse cx="63.56" cy="64.73" rx="1.36" ry="1.62" fill="#fefefa"/><ellipse cx="63.56" cy="62.04" rx="1.36" ry="1.62" fill="#fefefa"/><ellipse cx="63.56" cy="59.36" rx="1.36" ry="1.62" fill="#fefefa"/><ellipse cx="63.56" cy="56.67" rx="1.36" ry="1.62" fill="#fefefa"/><ellipse cx="63.56" cy="53.99" rx="1.36" ry="1.62" fill="#fefefa"/><ellipse cx="63.56" cy="51.30" rx="1.36" ry="1.62" fill="#fefefa"/><ellipse cx="66.86" cy="185.60" rx="1.36" ry="1.62" fill="#440154"/><ellipse cx="66.86" cy="182.91" rx="1.36" ry="1.62" fill="#443b84"/><ellipse cx="66.86" cy="180.23" rx="1.36" ry="1.62" fill="#34608d"/><ellipse cx="66.86" cy="177.54" rx="1.36" ry="1.62" fill="#297a8e"/><ellipse cx="66.86" cy="174.86" rx="1.36" ry="1.62" fill="#228d8d"/><ellipse cx="66.86" cy="172.17" rx="1.36" ry="1.62" fill="#1e9b8a"/><ellipse cx="66.86" cy="169.48" rx="1.36" ry="1.62" fill="#21a685"/><ellipse cx="66.86" cy="166.80" rx="1.36" ry="1.62" fill="#28ae80"/><ellipse cx="66.86" cy="164.11" rx="1.36" ry="1.62" fill="#32b67a"/><ellipse cx="66.86" cy="161.43" rx="1.36" ry="1.62" fill="#3aba76"/><ellipse cx="66.86" cy="158.74" rx="1.36" ry="1.62" fill="#40bd72"/><ellipse cx="66.86" cy="156.05" rx="1.36" ry="1.62" fill="#48c16e"/><ellipse cx="66.86" cy="153.37" rx="1.36" ry="1.62" fill="#4cc26c"/><ellipse cx="66.86" cy="150.68" rx="1.36" ry="1.62" fill="#50c46a"/><ellipse cx="66.86" cy="148.00" rx="1.36" ry="1.62" fill="#52c569"/><ellipse cx="66.86" cy="145.31" rx="1.36" ry="1.62" fill="#56c667"/><ellipse cx="66.86" cy="142.62" rx="1.36" ry="1.62" fill="#58c765"/><ellipse cx="66.86" cy="139.94" rx="1.36" ry="1.62" fill="#58c765"/><ellipse cx="66.86" cy="137.25" rx="1.36" ry="1.62" fill="#5ac864"/><ellipse cx="66.86" cy="134.57" rx="1.36" ry="1.62" fill="#fefefa"/><ellipse cx="66.86" cy="131.88" rx="1.36" ry="1.62" fill="#fefefa"/><ellipse cx="66.86" cy="129.19" rx="1.36" ry="1.62" fill="#fefefa"/><ellipse cx="66.86" cy="126.51" rx="1.36" ry="1.62" fill="#fefefa"/><ellipse cx="66.86" cy="123.82" rx="1.36" ry="1.62" fill="#fefefa"/><ellipse cx="66.86" cy="121.14" rx="1.36" ry="1.62" fill="#fefefa"/><ellipse cx="66.86" cy="118.45" rx="1.36" ry="1.62" fill="#fefefa"/><ellipse cx="66.86" cy="115.76" rx="1.36" ry="1.62" fill="#fefefa"/><ellipse cx="66.86" cy="113.08" rx="1.36" ry="1.62" fill="#fefefa"/><ellipse cx="66.86" cy="110.39" rx="1.36" ry="1.62" fill="#fefefa"/><ellipse cx="66.86" cy="107.71" rx="1.36" ry="1.62" fill="#fefefa"/><ellipse cx="66.86" cy="105.02" rx="1.36" ry="1.62" fill="#fefefa"/><ellipse cx="66.86" cy="102.33" rx="1.36" ry="1.62" fill="#fefefa"/><ellipse cx="66.86" cy="99.65" rx="1.36" ry="1.62" fill="#fefefa"/><ellipse cx="66.86" cy="96.96" rx="1.36" ry="1.62" fill="#fefefa"/><ellipse cx="66.86" cy="94.28" rx="1.36" ry="1.62" fill="#fefefa"/><ellipse cx="66.86" cy="91.59" rx="1.36" ry="1.62" fill="#fefefa"/><ellipse cx="66.86" cy="88.90" rx="1.36" ry="1.62" fill="#fefefa"/><ellipse cx="66.86" cy="86.22" rx="1.36" ry="1.62" fill="#fefefa"/><ellipse cx="66.86" cy="83.53" rx="1.36" ry="1.62" fill="#fefefa"/><ellipse cx="66.86" cy="80.85" rx="1.36" ry="1.62" fill="#fefefa"/><ellipse cx="66.86" cy="78.16" rx="1.36" ry="1.62" fill="#fefefa"/><ellipse cx="66.86" cy="75.47" rx="1.36" ry="1.62" fill="#fefefa"/><ellipse cx="66.86" cy="72.79" rx="1.36" ry="1.62" fill="#fefefa"/><ellipse cx="66.86" cy="70.10" rx="1.36" ry="1.62" fill="#fefefa"/><ellipse cx="66.86" cy="67.42" rx="1.36" ry="1.62" fill="#fefefa"/><ellipse cx="66.86" cy="64.73" rx="1.36" ry="1.62" fill="#fefefa"/><ellipse cx="66.86" cy="62.04" rx="1.36" ry="1.62" fill="#fefefa"/><ellipse cx="66.86" cy="59.36" rx="1.36" ry="1.62" fill="#fefefa"/><ellipse cx="66.86" cy="56.67" rx="1.36" ry="1.62" fill="#fefefa"/><ellipse cx="66.86" cy="53.99" rx="1.36" ry="1.62" fill="#fefefa"/><ellipse cx="66.86" cy="51.30" rx="1.36" ry="1.62" fill="#fefefa"/><ellipse cx="70.17" cy="185.60" rx="1.36" ry="1.62" fill="#440154"/><ellipse cx="70.17" cy="182.91" rx="1.36" ry="1.62" fill="#443a83"/><ellipse cx="70.17" cy="180.23" rx="1.36" ry="1.62" fill="#34608d"/><ellipse cx="70.17" cy="177.54" rx="1.36" ry="1.62" fill="#297a8e"/><ellipse cx="70.17" cy="174.86" rx="1.36" ry="1.62" fill="#228d8d"/><ellipse cx="70.17" cy="172.17" rx="1.36" ry="1.62" fill="#1e9c89"/><ellipse cx="70.17" cy="169.48" rx="1.36" ry="1.62" fill="#22a785"/><ellipse cx="70.17" cy="166.80" rx="1.36" ry="1.62" fill="#29af7f"/><ellipse cx="70.17" cy="164.11" rx="1.36" ry="1.62" fill="#34b679"/><ellipse cx="70.17" cy="161.43" rx="1.36" ry="1.62" fill="#3bbb75"/><ellipse cx="70.17" cy="158.74" rx="1.36" ry="1.62" fill="#44bf70"/><ellipse cx="70.17" cy="156.05" rx="1.36" ry="1.62" fill="#4ac16d"/><ellipse cx="70.17" cy="153.37" rx="1.36" ry="1.62" fill="#50c46a"/><ellipse cx="70.17" cy="150.68" rx="1.36" ry="1.62" fill="#54c568"/><ellipse cx="70.17" cy="148.00" rx="1.36" ry="1.62" fill="#58c765"/><ellipse cx="70.17" cy="145.31" rx="1.36" ry="1.62" fill="#5ac864"/><ellipse cx="70.17" cy="142.62" rx="1.36" ry="1.62" fill="#5cc863"/><ellipse cx="70.17" cy="139.94" rx="1.36" ry="1.62" fill="#5ec962"/><ellipse cx="70.17" cy="137.25" rx="1.36" ry="1.62" fill="#5ec962"/><ellipse cx="70.17" cy="134.57" rx="1.36" ry="1.62" fill="#fefefa"/><ellipse cx="70.17" cy="131.88" rx="1.36" ry="1.62" fill="#fefefa"/><ellipse cx="70.17" cy="129.19" rx="1.36" ry="1.62" fill="#fefefa"/><ellipse cx="70.17" cy="126.51" rx="1.36" ry="1.62" fill="#fefefa"/><ellipse cx="70.17" cy="123.82" rx="1.36" ry="1.62" fill="#fefefa"/><ellipse cx="70.17" cy="121.14" rx="1.36" ry="1.62" fill="#fefefa"/><ellipse cx="70.17" cy="118.45" rx="1.36" ry="1.62" fill="#fefefa"/><ellipse cx="70.17" cy="115.76" rx="1.36" ry="1.62" fill="#fefefa"/><ellipse cx="70.17" cy="113.08" rx="1.36" ry="1.62" fill="#fefefa"/><ellipse cx="70.17" cy="110.39" rx="1.36" ry="1.62" fill="#fefefa"/><ellipse cx="70.17" cy="107.71" rx="1.36" ry="1.62" fill="#fefefa"/><ellipse cx="70.17" cy="105.02" rx="1.36" ry="1.62" fill="#fefefa"/><ellipse cx="70.17" cy="102.33" rx="1.36" ry="1.62" fill="#fefefa"/><ellipse cx="70.17" cy="99.65" rx="1.36" ry="1.62" fill="#fefefa"/><ellipse cx="70.17" cy="96.96" rx="1.36" ry="1.62" fill="#fefefa"/><ellipse cx="70.17" cy="94.28" rx="1.36" ry="1.62" fill="#fefefa"/><ellipse cx="70.17" cy="91.59" rx="1.36" ry="1.62" fill="#fefefa"/><ellipse cx="70.17" cy="88.90" rx="1.36" ry="1.62" fill="#fefefa"/><ellipse cx="70.17" cy="86.22" rx="1.36" ry="1.62" fill="#fefefa"/><ellipse cx="70.17" cy="83.53" rx="1.36" ry="1.62" fill="#fefefa"/><ellipse cx="70.17" cy="80.85" rx="1.36" ry="1.62" fill="#fefefa"/><ellipse cx="70.17" cy="78.16" rx="1.36" ry="1.62" fill="#fefefa"/><ellipse cx="70.17" cy="75.47" rx="1.36" ry="1.62" fill="#fefefa"/><ellipse cx="70.17" cy="72.79" rx="1.36" ry="1.62" fill="#fefefa"/><ellipse cx="70.17" cy="70.10" rx="1.36" ry="1.62" fill="#fefefa"/><ellipse cx="70.17" cy="67.42" rx="1.36" ry="1.62" fill="#fefefa"/><ellipse cx="70.17" cy="64.73" rx="1.36" ry="1.62" fill="#fefefa"/><ellipse cx="70.17" cy="62.04" rx="1.36" ry="1.62" fill="#fefefa"/><ellipse cx="70.17" cy="59.36" rx="1.36" ry="1.62" fill="#fefefa"/><ellipse cx="70.17" cy="56.67" rx="1.36" ry="1.62" fill="#fefefa"/><ellipse cx="70.17" cy="53.99" rx="1.36" ry="1.62" fill="#fefefa"/><ellipse cx="70.17" cy="51.30" rx="1.36" ry="1.62" fill="#fefefa"/><ellipse cx="73.48" cy="185.60" rx="1.36" ry="1.62" fill="#440154"/><ellipse cx="73.48" cy="182.91" rx="1.36" ry="1.62" fill="#443a83"/><ellipse cx="73.48" cy="180.23" rx="1.36" ry="1.62" fill="#34608d"/><ellipse cx="73.48" cy="177.54" rx="1.36" ry="1.62" fill="#297a8e"/><ellipse cx="73.48" cy="174.86" rx="1.36" ry="1.62" fill="#228d8d"/><ellipse cx="73.48" cy="172.17" rx="1.36" ry="1.62" fill="#1e9c89"/><ellipse cx="73.48" cy="169.48" rx="1.36" ry="1.62" fill="#22a884"/><ellipse cx="73.48" cy="166.80" rx="1.36" ry="1.62" fill="#2ab07f"/><ellipse cx="73.48" cy="164.11" rx="1.36" ry="1.62" fill="#35b779"/><ellipse cx="73.48" cy="161.43" rx="1.36" ry="1.62" fill="#3fbc73"/><ellipse cx="73.48" cy="158.74" rx="1.36" ry="1.62" fill="#46c06f"/><ellipse cx="73.48" cy="156.05" rx="1.36" ry="1.62" fill="#4ec36b"/><ellipse cx="73.48" cy="153.37" rx="1.36" ry="1.62" fill="#54c568"/><ellipse cx="73.48" cy="150.68" rx="1.36" ry="1.62" fill="#58c765"/><ellipse cx="73.48" cy="148.00" rx="1.36" ry="1.62" fill="#5cc863"/><ellipse cx="73.48" cy="145.31" rx="1.36" ry="1.62" fill="#5ec962"/><ellipse cx="73.48" cy="142.62" rx="1.36" ry="1.62" fill="#60ca60"/><ellipse cx="73.48" cy="139.94" rx="1.36" ry="1.62" fill="#63cb5f"/><ellipse cx="73.48" cy="137.25" rx="1.36" ry="1.62" fill="#fefefa"/><ellipse cx="73.48" cy="134.57" rx="1.36" ry="1.62" fill="#fefefa"/><ellipse cx="73.48" cy="131.88" rx="1.36" ry="1.62" fill="#fefefa"/><ellipse cx="73.48" cy="129.19" rx="1.36" ry="1.62" fill="#fefefa"/><ellipse cx="73.48" cy="126.51" rx="1.36" ry="1.62" fill="#67cc5c"/><ellipse cx="73.48" cy="123.82" rx="1.36" ry="1.62" fill="#fefefa"/><ellipse cx="73.48" cy="121.14" rx="1.36" ry="1.62" fill="#fefefa"/><ellipse cx="73.48" cy="118.45" rx="1.36" ry="1.62" fill="#fefefa"/><ellipse cx="73.48" cy="115.76" rx="1.36" ry="1.62" fill="#fefefa"/><ellipse cx="73.48" cy="113.08" rx="1.36" ry="1.62" fill="#fefefa"/><ellipse cx="73.48" cy="110.39" rx="1.36" ry="1.62" fill="#fefefa"/><ellipse cx="73.48" cy="107.71" rx="1.36" ry="1.62" fill="#fefefa"/><ellipse cx="73.48" cy="105.02" rx="1.36" ry="1.62" fill="#fefefa"/><ellipse cx="73.48" cy="102.33" rx="1.36" ry="1.62" fill="#fefefa"/><ellipse cx="73.48" cy="99.65" rx="1.36" ry="1.62" fill="#fefefa"/><ellipse cx="73.48" cy="96.96" rx="1.36" ry="1.62" fill="#fefefa"/><ellipse cx="73.48" cy="94.28" rx="1.36" ry="1.62" fill="#fefefa"/><ellipse cx="73.48" cy="91.59" rx="1.36" ry="1.62" fill="#fefefa"/><ellipse cx="73.48" cy="88.90" rx="1.36" ry="1.62" fill="#fefefa"/><ellipse cx="73.48" cy="86.22" rx="1.36" ry="1.62" fill="#fefefa"/><ellipse cx="73.48" cy="83.53" rx="1.36" ry="1.62" fill="#fefefa"/><ellipse cx="73.48" cy="80.85" rx="1.36" ry="1.62" fill="#fefefa"/><ellipse cx="73.48" cy="78.16" rx="1.36" ry="1.62" fill="#fefefa"/><ellipse cx="73.48" cy="75.47" rx="1.36" ry="1.62" fill="#fefefa"/><ellipse cx="73.48" cy="72.79" rx="1.36" ry="1.62" fill="#fefefa"/><ellipse cx="73.48" cy="70.10" rx="1.36" ry="1.62" fill="#fefefa"/><ellipse cx="73.48" cy="67.42" rx="1.36" ry="1.62" fill="#fefefa"/><ellipse cx="73.48" cy="64.73" rx="1.36" ry="1.62" fill="#fefefa"/><ellipse cx="73.48" cy="62.04" rx="1.36" ry="1.62" fill="#fefefa"/><ellipse cx="73.48" cy="59.36" rx="1.36" ry="1.62" fill="#fefefa"/><ellipse cx="73.48" cy="56.67" rx="1.36" ry="1.62" fill="#fefefa"/><ellipse cx="73.48" cy="53.99" rx="1.36" ry="1.62" fill="#fefefa"/><ellipse cx="73.48" cy="51.30" rx="1.36" ry="1.62" fill="#fefefa"/><ellipse cx="76.79" cy="185.60" rx="1.36" ry="1.62" fill="#440154"/><ellipse cx="76.79" cy="182.91" rx="1.36" ry="1.62" fill="#443a83"/><ellipse cx="76.79" cy="180.23" rx="1.36" ry="1.62" fill="#34608d"/><ellipse cx="76.79" cy="177.54" rx="1.36" ry="1.62" fill="#29798e"/><ellipse cx="76.79" cy="174.86" rx="1.36" ry="1.62" fill="#228d8d"/><ellipse cx="76.79" cy="172.17" rx="1.36" ry="1.62" fill="#1e9c89"/><ellipse cx="76.79" cy="169.48" rx="1.36" ry="1.62" fill="#22a884"/><ellipse cx="76.79" cy="166.80" rx="1.36" ry="1.62" fill="#2cb17e"/><ellipse cx="76.79" cy="164.11" rx="1.36" ry="1.62" fill="#35b779"/><ellipse cx="76.79" cy="161.43" rx="1.36" ry="1.62" fill="#3fbc73"/><ellipse cx="76.79" cy="158.74" rx="1.36" ry="1.62" fill="#48c16e"/><ellipse cx="76.79" cy="156.05" rx="1.36" ry="1.62" fill="#50c46a"/><ellipse cx="76.79" cy="153.37" rx="1.36" ry="1.62" fill="#56c667"/><ellipse cx="76.79" cy="150.68" rx="1.36" ry="1.62" fill="#5ac864"/><ellipse cx="76.79" cy="148.00" rx="1.36" ry="1.62" fill="#5ec962"/><ellipse cx="76.79" cy="145.31" rx="1.36" ry="1.62" fill="#60ca60"/><ellipse cx="76.79" cy="142.62" rx="1.36" ry="1.62" fill="#63cb5f"/><ellipse cx="76.79" cy="139.94" rx="1.36" ry="1.62" fill="#65cb5e"/><ellipse cx="76.79" cy="137.25" rx="1.36" ry="1.62" fill="#67cc5c"/><ellipse cx="76.79" cy="134.57" rx="1.36" ry="1.62" fill="#67cc5c"/><ellipse cx="76.79" cy="131.88" rx="1.36" ry="1.62" fill="#69cd5b"/><ellipse cx="76.79" cy="129.19" rx="1.36" ry="1.62" fill="#69cd5b"/><ellipse cx="76.79" cy="126.51" rx="1.36" ry="1.62" fill="#fefefa"/><ellipse cx="76.79" cy="123.82" rx="1.36" ry="1.62" fill="#fefefa"/><ellipse cx="76.79" cy="121.14" rx="1.36" ry="1.62" fill="#fefefa"/><ellipse cx="76.79" cy="118.45" rx="1.36" ry="1.62" fill="#fefefa"/><ellipse cx="76.79" cy="115.76" rx="1.36" ry="1.62" fill="#fefefa"/><ellipse cx="76.79" cy="113.08" rx="1.36" ry="1.62" fill="#fefefa"/><ellipse cx="76.79" cy="110.39" rx="1.36" ry="1.62" fill="#fefefa"/><ellipse cx="76.79" cy="107.71" rx="1.36" ry="1.62" fill="#fefefa"/><ellipse cx="76.79" cy="105.02" rx="1.36" ry="1.62" fill="#fefefa"/><ellipse cx="76.79" cy="102.33" rx="1.36" ry="1.62" fill="#fefefa"/><ellipse cx="76.79" cy="99.65" rx="1.36" ry="1.62" fill="#fefefa"/><ellipse cx="76.79" cy="96.96" rx="1.36" ry="1.62" fill="#fefefa"/><ellipse cx="76.79" cy="94.28" rx="1.36" ry="1.62" fill="#fefefa"/><ellipse cx="76.79" cy="91.59" rx="1.36" ry="1.62" fill="#fefefa"/><ellipse cx="76.79" cy="88.90" rx="1.36" ry="1.62" fill="#fefefa"/><ellipse cx="76.79" cy="86.22" rx="1.36" ry="1.62" fill="#fefefa"/><ellipse cx="76.79" cy="83.53" rx="1.36" ry="1.62" fill="#fefefa"/><ellipse cx="76.79" cy="80.85" rx="1.36" ry="1.62" fill="#fefefa"/><ellipse cx="76.79" cy="78.16" rx="1.36" ry="1.62" fill="#fefefa"/><ellipse cx="76.79" cy="75.47" rx="1.36" ry="1.62" fill="#fefefa"/><ellipse cx="76.79" cy="72.79" rx="1.36" ry="1.62" fill="#fefefa"/><ellipse cx="76.79" cy="70.10" rx="1.36" ry="1.62" fill="#fefefa"/><ellipse cx="76.79" cy="67.42" rx="1.36" ry="1.62" fill="#fefefa"/><ellipse cx="76.79" cy="64.73" rx="1.36" ry="1.62" fill="#fefefa"/><ellipse cx="76.79" cy="62.04" rx="1.36" ry="1.62" fill="#fefefa"/><ellipse cx="76.79" cy="59.36" rx="1.36" ry="1.62" fill="#fefefa"/><ellipse cx="76.79" cy="56.67" rx="1.36" ry="1.62" fill="#fefefa"/><ellipse cx="76.79" cy="53.99" rx="1.36" ry="1.62" fill="#fefefa"/><ellipse cx="76.79" cy="51.30" rx="1.36" ry="1.62" fill="#fefefa"/><ellipse cx="80.10" cy="185.60" rx="1.36" ry="1.62" fill="#440154"/><ellipse cx="80.10" cy="182.91" rx="1.36" ry="1.62" fill="#443983"/><ellipse cx="80.10" cy="180.23" rx="1.36" ry="1.62" fill="#355f8d"/><ellipse cx="80.10" cy="177.54" rx="1.36" ry="1.62" fill="#2a788e"/><ellipse cx="80.10" cy="174.86" rx="1.36" ry="1.62" fill="#228c8d"/><ellipse cx="80.10" cy="172.17" rx="1.36" ry="1.62" fill="#1e9c89"/><ellipse cx="80.10" cy="169.48" rx="1.36" ry="1.62" fill="#22a884"/><ellipse cx="80.10" cy="166.80" rx="1.36" ry="1.62" fill="#2cb17e"/><ellipse cx="80.10" cy="164.11" rx="1.36" ry="1.62" fill="#37b878"/><ellipse cx="80.10" cy="161.43" rx="1.36" ry="1.62" fill="#40bd72"/><ellipse cx="80.10" cy="158.74" rx="1.36" ry="1.62" fill="#4ac16d"/><ellipse cx="80.10" cy="156.05" rx="1.36" ry="1.62" fill="#52c569"/><ellipse cx="80.10" cy="153.37" rx="1.36" ry="1.62" fill="#58c765"/><ellipse cx="80.10" cy="150.68" rx="1.36" ry="1.62" fill="#5cc863"/><ellipse cx="80.10" cy="148.00" rx="1.36" ry="1.62" fill="#60ca60"/><ellipse cx="80.10" cy="145.31" rx="1.36" ry="1.62" fill="#65cb5e"/><ellipse cx="80.10" cy="142.62" rx="1.36" ry="1.62" fill="#67cc5c"/><ellipse cx="80.10" cy="139.94" rx="1.36" ry="1.62" fill="#69cd5b"/><ellipse cx="80.10" cy="137.25" rx="1.36" ry="1.62" fill="#69cd5b"/><ellipse cx="80.10" cy="134.57" rx="1.36" ry="1.62" fill="#6ccd5a"/><ellipse cx="80.10" cy="131.88" rx="1.36" ry="1.62" fill="#6ccd5a"/><ellipse cx="80.10" cy="129.19" rx="1.36" ry="1.62" fill="#6ece58"/><ellipse cx="80.10" cy="126.51" rx="1.36" ry="1.62" fill="#6ece58"/><ellipse cx="80.10" cy="123.82" rx="1.36" ry="1.62" fill="#6ece58"/><ellipse cx="80.10" cy="121.14" rx="1.36" ry="1.62" fill="#fefefa"/><ellipse cx="80.10" cy="118.45" rx="1.36" ry="1.62" fill="#6ece58"/><ellipse cx="80.10" cy="115.76" rx="1.36" ry="1.62" fill="#fefefa"/><ellipse cx="80.10" cy="113.08" rx="1.36" ry="1.62" fill="#fefefa"/><ellipse cx="80.10" cy="110.39" rx="1.36" ry="1.62" fill="#fefefa"/><ellipse cx="80.10" cy="107.71" rx="1.36" ry="1.62" fill="#fefefa"/><ellipse cx="80.10" cy="105.02" rx="1.36" ry="1.62" fill="#fefefa"/><ellipse cx="80.10" cy="102.33" rx="1.36" ry="1.62" fill="#fefefa"/><ellipse cx="80.10" cy="99.65" rx="1.36" ry="1.62" fill="#fefefa"/><ellipse cx="80.10" cy="96.96" rx="1.36" ry="1.62" fill="#fefefa"/><ellipse cx="80.10" cy="94.28" rx="1.36" ry="1.62" fill="#fefefa"/><ellipse cx="80.10" cy="91.59" rx="1.36" ry="1.62" fill="#fefefa"/><ellipse cx="80.10" cy="88.90" rx="1.36" ry="1.62" fill="#fefefa"/><ellipse cx="80.10" cy="86.22" rx="1.36" ry="1.62" fill="#fefefa"/><ellipse cx="80.10" cy="83.53" rx="1.36" ry="1.62" fill="#fefefa"/><ellipse cx="80.10" cy="80.85" rx="1.36" ry="1.62" fill="#fefefa"/><ellipse cx="80.10" cy="78.16" rx="1.36" ry="1.62" fill="#fefefa"/><ellipse cx="80.10" cy="75.47" rx="1.36" ry="1.62" fill="#fefefa"/><ellipse cx="80.10" cy="72.79" rx="1.36" ry="1.62" fill="#fefefa"/><ellipse cx="80.10" cy="70.10" rx="1.36" ry="1.62" fill="#fefefa"/><ellipse cx="80.10" cy="67.42" rx="1.36" ry="1.62" fill="#fefefa"/><ellipse cx="80.10" cy="64.73" rx="1.36" ry="1.62" fill="#fefefa"/><ellipse cx="80.10" cy="62.04" rx="1.36" ry="1.62" fill="#fefefa"/><ellipse cx="80.10" cy="59.36" rx="1.36" ry="1.62" fill="#fefefa"/><ellipse cx="80.10" cy="56.67" rx="1.36" ry="1.62" fill="#fefefa"/><ellipse cx="80.10" cy="53.99" rx="1.36" ry="1.62" fill="#fefefa"/><ellipse cx="80.10" cy="51.30" rx="1.36" ry="1.62" fill="#fefefa"/><ellipse cx="83.40" cy="185.60" rx="1.36" ry="1.62" fill="#440154"/><ellipse cx="83.40" cy="182.91" rx="1.36" ry="1.62" fill="#443983"/><ellipse cx="83.40" cy="180.23" rx="1.36" ry="1.62" fill="#355f8d"/><ellipse cx="83.40" cy="177.54" rx="1.36" ry="1.62" fill="#2a788e"/><ellipse cx="83.40" cy="174.86" rx="1.36" ry="1.62" fill="#228c8d"/><ellipse cx="83.40" cy="172.17" rx="1.36" ry="1.62" fill="#1e9b8a"/><ellipse cx="83.40" cy="169.48" rx="1.36" ry="1.62" fill="#22a884"/><ellipse cx="83.40" cy="166.80" rx="1.36" ry="1.62" fill="#2cb17e"/><ellipse cx="83.40" cy="164.11" rx="1.36" ry="1.62" fill="#37b878"/><ellipse cx="83.40" cy="161.43" rx="1.36" ry="1.62" fill="#40bd72"/><ellipse cx="83.40" cy="158.74" rx="1.36" ry="1.62" fill="#4ac16d"/><ellipse cx="83.40" cy="156.05" rx="1.36" ry="1.62" fill="#54c568"/><ellipse cx="83.40" cy="153.37" rx="1.36" ry="1.62" fill="#5ac864"/><ellipse cx="83.40" cy="150.68" rx="1.36" ry="1.62" fill="#5ec962"/><ellipse cx="83.40" cy="148.00" rx="1.36" ry="1.62" fill="#63cb5f"/><ellipse cx="83.40" cy="145.31" rx="1.36" ry="1.62" fill="#67cc5c"/><ellipse cx="83.40" cy="142.62" rx="1.36" ry="1.62" fill="#69cd5b"/><ellipse cx="83.40" cy="139.94" rx="1.36" ry="1.62" fill="#6ccd5a"/><ellipse cx="83.40" cy="137.25" rx="1.36" ry="1.62" fill="#6ece58"/><ellipse cx="83.40" cy="134.57" rx="1.36" ry="1.62" fill="#6ece58"/><ellipse cx="83.40" cy="131.88" rx="1.36" ry="1.62" fill="#70cf57"/><ellipse cx="83.40" cy="129.19" rx="1.36" ry="1.62" fill="#70cf57"/><ellipse cx="83.40" cy="126.51" rx="1.36" ry="1.62" fill="#70cf57"/><ellipse cx="83.40" cy="123.82" rx="1.36" ry="1.62" fill="#fefefa"/><ellipse cx="83.40" cy="121.14" rx="1.36" ry="1.62" fill="#fefefa"/><ellipse cx="83.40" cy="118.45" rx="1.36" ry="1.62" fill="#73d056"/><ellipse cx="83.40" cy="115.76" rx="1.36" ry="1.62" fill="#fefefa"/><ellipse cx="83.40" cy="113.08" rx="1.36" ry="1.62" fill="#fefefa"/><ellipse cx="83.40" cy="110.39" rx="1.36" ry="1.62" fill="#fefefa"/><ellipse cx="83.40" cy="107.71" rx="1.36" ry="1.62" fill="#fefefa"/><ellipse cx="83.40" cy="105.02" rx="1.36" ry="1.62" fill="#fefefa"/><ellipse cx="83.40" cy="102.33" rx="1.36" ry="1.62" fill="#fefefa"/><ellipse cx="83.40" cy="99.65" rx="1.36" ry="1.62" fill="#fefefa"/><ellipse cx="83.40" cy="96.96" rx="1.36" ry="1.62" fill="#fefefa"/><ellipse cx="83.40" cy="94.28" rx="1.36" ry="1.62" fill="#fefefa"/><ellipse cx="83.40" cy="91.59" rx="1.36" ry="1.62" fill="#fefefa"/><ellipse cx="83.40" cy="88.90" rx="1.36" ry="1.62" fill="#fefefa"/><ellipse cx="83.40" cy="86.22" rx="1.36" ry="1.62" fill="#fefefa"/><ellipse cx="83.40" cy="83.53" rx="1.36" ry="1.62" fill="#fefefa"/><ellipse cx="83.40" cy="80.85" rx="1.36" ry="1.62" fill="#fefefa"/><ellipse cx="83.40" cy="78.16" rx="1.36" ry="1.62" fill="#fefefa"/><ellipse cx="83.40" cy="75.47" rx="1.36" ry="1.62" fill="#fefefa"/><ellipse cx="83.40" cy="72.79" rx="1.36" ry="1.62" fill="#fefefa"/><ellipse cx="83.40" cy="70.10" rx="1.36" ry="1.62" fill="#fefefa"/><ellipse cx="83.40" cy="67.42" rx="1.36" ry="1.62" fill="#fefefa"/><ellipse cx="83.40" cy="64.73" rx="1.36" ry="1.62" fill="#fefefa"/><ellipse cx="83.40" cy="62.04" rx="1.36" ry="1.62" fill="#fefefa"/><ellipse cx="83.40" cy="59.36" rx="1.36" ry="1.62" fill="#fefefa"/><ellipse cx="83.40" cy="56.67" rx="1.36" ry="1.62" fill="#fefefa"/><ellipse cx="83.40" cy="53.99" rx="1.36" ry="1.62" fill="#fefefa"/><ellipse cx="83.40" cy="51.30" rx="1.36" ry="1.62" fill="#fefefa"/><ellipse cx="86.71" cy="185.60" rx="1.36" ry="1.62" fill="#440154"/><ellipse cx="86.71" cy="182.91" rx="1.36" ry="1.62" fill="#443983"/><ellipse cx="86.71" cy="180.23" rx="1.36" ry="1.62" fill="#355e8d"/><ellipse cx="86.71" cy="177.54" rx="1.36" ry="1.62" fill="#2a788e"/><ellipse cx="86.71" cy="174.86" rx="1.36" ry="1.62" fill="#228c8d"/><ellipse cx="86.71" cy="172.17" rx="1.36" ry="1.62" fill="#1e9b8a"/><ellipse cx="86.71" cy="169.48" rx="1.36" ry="1.62" fill="#22a785"/><ellipse cx="86.71" cy="166.80" rx="1.36" ry="1.62" fill="#2cb17e"/><ellipse cx="86.71" cy="164.11" rx="1.36" ry="1.62" fill="#37b878"/><ellipse cx="86.71" cy="161.43" rx="1.36" ry="1.62" fill="#42be71"/><ellipse cx="86.71" cy="158.74" rx="1.36" ry="1.62" fill="#4cc26c"/><ellipse cx="86.71" cy="156.05" rx="1.36" ry="1.62" fill="#54c568"/><ellipse cx="86.71" cy="153.37" rx="1.36" ry="1.62" fill="#5cc863"/><ellipse cx="86.71" cy="150.68" rx="1.36" ry="1.62" fill="#60ca60"/><ellipse cx="86.71" cy="148.00" rx="1.36" ry="1.62" fill="#65cb5e"/><ellipse cx="86.71" cy="145.31" rx="1.36" ry="1.62" fill="#69cd5b"/><ellipse cx="86.71" cy="142.62" rx="1.36" ry="1.62" fill="#6ccd5a"/><ellipse cx="86.71" cy="139.94" rx="1.36" ry="1.62" fill="#6ece58"/><ellipse cx="86.71" cy="137.25" rx="1.36" ry="1.62" fill="#70cf57"/><ellipse cx="86.71" cy="134.57" rx="1.36" ry="1.62" fill="#73d056"/><ellipse cx="86.71" cy="131.88" rx="1.36" ry="1.62" fill="#73d056"/><ellipse cx="86.71" cy="129.19" rx="1.36" ry="1.62" fill="#75d054"/><ellipse cx="86.71" cy="126.51" rx="1.36" ry="1.62" fill="#75d054"/><ellipse cx="86.71" cy="123.82" rx="1.36" ry="1.62" fill="#75d054"/><ellipse cx="86.71" cy="121.14" rx="1.36" ry="1.62" fill="#75d054"/><ellipse cx="86.71" cy="118.45" rx="1.36" ry="1.62" fill="#fefefa"/><ellipse cx="86.71" cy="115.76" rx="1.36" ry="1.62" fill="#fefefa"/><ellipse cx="86.71" cy="113.08" rx="1.36" ry="1.62" fill="#fefefa"/><ellipse cx="86.71" cy="110.39" rx="1.36" ry="1.62" fill="#fefefa"/><ellipse cx="86.71" cy="107.71" rx="1.36" ry="1.62" fill="#fefefa"/><ellipse cx="86.71" cy="105.02" rx="1.36" ry="1.62" fill="#fefefa"/><ellipse cx="86.71" cy="102.33" rx="1.36" ry="1.62" fill="#fefefa"/><ellipse cx="86.71" cy="99.65" rx="1.36" ry="1.62" fill="#fefefa"/><ellipse cx="86.71" cy="96.96" rx="1.36" ry="1.62" fill="#fefefa"/><ellipse cx="86.71" cy="94.28" rx="1.36" ry="1.62" fill="#fefefa"/><ellipse cx="86.71" cy="91.59" rx="1.36" ry="1.62" fill="#fefefa"/><ellipse cx="86.71" cy="88.90" rx="1.36" ry="1.62" fill="#fefefa"/><ellipse cx="86.71" cy="86.22" rx="1.36" ry="1.62" fill="#fefefa"/><ellipse cx="86.71" cy="83.53" rx="1.36" ry="1.62" fill="#fefefa"/><ellipse cx="86.71" cy="80.85" rx="1.36" ry="1.62" fill="#fefefa"/><ellipse cx="86.71" cy="78.16" rx="1.36" ry="1.62" fill="#fefefa"/><ellipse cx="86.71" cy="75.47" rx="1.36" ry="1.62" fill="#fefefa"/><ellipse cx="86.71" cy="72.79" rx="1.36" ry="1.62" fill="#fefefa"/><ellipse cx="86.71" cy="70.10" rx="1.36" ry="1.62" fill="#fefefa"/><ellipse cx="86.71" cy="67.42" rx="1.36" ry="1.62" fill="#fefefa"/><ellipse cx="86.71" cy="64.73" rx="1.36" ry="1.62" fill="#fefefa"/><ellipse cx="86.71" cy="62.04" rx="1.36" ry="1.62" fill="#fefefa"/><ellipse cx="86.71" cy="59.36" rx="1.36" ry="1.62" fill="#fefefa"/><ellipse cx="86.71" cy="56.67" rx="1.36" ry="1.62" fill="#fefefa"/><ellipse cx="86.71" cy="53.99" rx="1.36" ry="1.62" fill="#fefefa"/><ellipse cx="86.71" cy="51.30" rx="1.36" ry="1.62" fill="#fefefa"/><ellipse cx="90.02" cy="185.60" rx="1.36" ry="1.62" fill="#440154"/><ellipse cx="90.02" cy="182.91" rx="1.36" ry="1.62" fill="#453882"/><ellipse cx="90.02" cy="180.23" rx="1.36" ry="1.62" fill="#355e8d"/><ellipse cx="90.02" cy="177.54" rx="1.36" ry="1.62" fill="#2a778e"/><ellipse cx="90.02" cy="174.86" rx="1.36" ry="1.62" fill="#228b8d"/><ellipse cx="90.02" cy="172.17" rx="1.36" ry="1.62" fill="#1e9b8a"/><ellipse cx="90.02" cy="169.48" rx="1.36" ry="1.62" fill="#22a785"/><ellipse cx="90.02" cy="166.80" rx="1.36" ry="1.62" fill="#2cb17e"/><ellipse cx="90.02" cy="164.11" rx="1.36" ry="1.62" fill="#38b977"/><ellipse cx="90.02" cy="161.43" rx="1.36" ry="1.62" fill="#42be71"/><ellipse cx="90.02" cy="158.74" rx="1.36" ry="1.62" fill="#4ec36b"/><ellipse cx="90.02" cy="156.05" rx="1.36" ry="1.62" fill="#56c667"/><ellipse cx="90.02" cy="153.37" rx="1.36" ry="1.62" fill="#5ec962"/><ellipse cx="90.02" cy="150.68" rx="1.36" ry="1.62" fill="#63cb5f"/><ellipse cx="90.02" cy="148.00" rx="1.36" ry="1.62" fill="#67cc5c"/><ellipse cx="90.02" cy="145.31" rx="1.36" ry="1.62" fill="#6ccd5a"/><ellipse cx="90.02" cy="142.62" rx="1.36" ry="1.62" fill="#70cf57"/><ellipse cx="90.02" cy="139.94" rx="1.36" ry="1.62" fill="#73d056"/><ellipse cx="90.02" cy="137.25" rx="1.36" ry="1.62" fill="#75d054"/><ellipse cx="90.02" cy="134.57" rx="1.36" ry="1.62" fill="#75d054"/><ellipse cx="90.02" cy="131.88" rx="1.36" ry="1.62" fill="#77d153"/><ellipse cx="90.02" cy="129.19" rx="1.36" ry="1.62" fill="#77d153"/><ellipse cx="90.02" cy="126.51" rx="1.36" ry="1.62" fill="#7ad151"/><ellipse cx="90.02" cy="123.82" rx="1.36" ry="1.62" fill="#7ad151"/><ellipse cx="90.02" cy="121.14" rx="1.36" ry="1.62" fill="#7ad151"/><ellipse cx="90.02" cy="118.45" rx="1.36" ry="1.62" fill="#7ad151"/><ellipse cx="90.02" cy="115.76" rx="1.36" ry="1.62" fill="#7ad151"/><ellipse cx="90.02" cy="113.08" rx="1.36" ry="1.62" fill="#77d153"/><ellipse cx="90.02" cy="110.39" rx="1.36" ry="1.62" fill="#fefefa"/><ellipse cx="90.02" cy="107.71" rx="1.36" ry="1.62" fill="#fefefa"/><ellipse cx="90.02" cy="105.02" rx="1.36" ry="1.62" fill="#fefefa"/><ellipse cx="90.02" cy="102.33" rx="1.36" ry="1.62" fill="#fefefa"/><ellipse cx="90.02" cy="99.65" rx="1.36" ry="1.62" fill="#fefefa"/><ellipse cx="90.02" cy="96.96" rx="1.36" ry="1.62" fill="#fefefa"/><ellipse cx="90.02" cy="94.28" rx="1.36" ry="1.62" fill="#fefefa"/><ellipse cx="90.02" cy="91.59" rx="1.36" ry="1.62" fill="#fefefa"/><ellipse cx="90.02" cy="88.90" rx="1.36" ry="1.62" fill="#fefefa"/><ellipse cx="90.02" cy="86.22" rx="1.36" ry="1.62" fill="#fefefa"/><ellipse cx="90.02" cy="83.53" rx="1.36" ry="1.62" fill="#fefefa"/><ellipse cx="90.02" cy="80.85" rx="1.36" ry="1.62" fill="#fefefa"/><ellipse cx="90.02" cy="78.16" rx="1.36" ry="1.62" fill="#fefefa"/><ellipse cx="90.02" cy="75.47" rx="1.36" ry="1.62" fill="#fefefa"/><ellipse cx="90.02" cy="72.79" rx="1.36" ry="1.62" fill="#fefefa"/><ellipse cx="90.02" cy="70.10" rx="1.36" ry="1.62" fill="#fefefa"/><ellipse cx="90.02" cy="67.42" rx="1.36" ry="1.62" fill="#fefefa"/><ellipse cx="90.02" cy="64.73" rx="1.36" ry="1.62" fill="#fefefa"/><ellipse cx="90.02" cy="62.04" rx="1.36" ry="1.62" fill="#fefefa"/><ellipse cx="90.02" cy="59.36" rx="1.36" ry="1.62" fill="#fefefa"/><ellipse cx="90.02" cy="56.67" rx="1.36" ry="1.62" fill="#fefefa"/><ellipse cx="90.02" cy="53.99" rx="1.36" ry="1.62" fill="#fefefa"/><ellipse cx="90.02" cy="51.30" rx="1.36" ry="1.62" fill="#fefefa"/><ellipse cx="93.33" cy="185.60" rx="1.36" ry="1.62" fill="#440154"/><ellipse cx="93.33" cy="182.91" rx="1.36" ry="1.62" fill="#453882"/><ellipse cx="93.33" cy="180.23" rx="1.36" ry="1.62" fill="#365d8d"/><ellipse cx="93.33" cy="177.54" rx="1.36" ry="1.62" fill="#2a778e"/><ellipse cx="93.33" cy="174.86" rx="1.36" ry="1.62" fill="#228b8d"/><ellipse cx="93.33" cy="172.17" rx="1.36" ry="1.62" fill="#1e9b8a"/><ellipse cx="93.33" cy="169.48" rx="1.36" ry="1.62" fill="#22a785"/><ellipse cx="93.33" cy="166.80" rx="1.36" ry="1.62" fill="#2cb17e"/><ellipse cx="93.33" cy="164.11" rx="1.36" ry="1.62" fill="#38b977"/><ellipse cx="93.33" cy="161.43" rx="1.36" ry="1.62" fill="#44bf70"/><ellipse cx="93.33" cy="158.74" rx="1.36" ry="1.62" fill="#4ec36b"/><ellipse cx="93.33" cy="156.05" rx="1.36" ry="1.62" fill="#58c765"/><ellipse cx="93.33" cy="153.37" rx="1.36" ry="1.62" fill="#5ec962"/><ellipse cx="93.33" cy="150.68" rx="1.36" ry="1.62" fill="#65cb5e"/><ellipse cx="93.33" cy="148.00" rx="1.36" ry="1.62" fill="#6ccd5a"/><ellipse cx="93.33" cy="145.31" rx="1.36" ry="1.62" fill="#6ece58"/><ellipse cx="93.33" cy="142.62" rx="1.36" ry="1.62" fill="#73d056"/><ellipse cx="93.33" cy="139.94" rx="1.36" ry="1.62" fill="#75d054"/><ellipse cx="93.33" cy="137.25" rx="1.36" ry="1.62" fill="#77d153"/><ellipse cx="93.33" cy="134.57" rx="1.36" ry="1.62" fill="#7ad151"/><ellipse cx="93.33" cy="131.88" rx="1.36" ry="1.62" fill="#7ad151"/><ellipse cx="93.33" cy="129.19" rx="1.36" ry="1.62" fill="#7cd250"/><ellipse cx="93.33" cy="126.51" rx="1.36" ry="1.62" fill="#7cd250"/><ellipse cx="93.33" cy="123.82" rx="1.36" ry="1.62" fill="#7cd250"/><ellipse cx="93.33" cy="121.14" rx="1.36" ry="1.62" fill="#7fd34e"/><ellipse cx="93.33" cy="118.45" rx="1.36" ry="1.62" fill="#7fd34e"/><ellipse cx="93.33" cy="115.76" rx="1.36" ry="1.62" fill="#7cd250"/><ellipse cx="93.33" cy="113.08" rx="1.36" ry="1.62" fill="#fefefa"/><ellipse cx="93.33" cy="110.39" rx="1.36" ry="1.62" fill="#fefefa"/><ellipse cx="93.33" cy="107.71" rx="1.36" ry="1.62" fill="#fefefa"/><ellipse cx="93.33" cy="105.02" rx="1.36" ry="1.62" fill="#fefefa"/><ellipse cx="93.33" cy="102.33" rx="1.36" ry="1.62" fill="#77d153"/><ellipse cx="93.33" cy="99.65" rx="1.36" ry="1.62" fill="#fefefa"/><ellipse cx="93.33" cy="96.96" rx="1.36" ry="1.62" fill="#fefefa"/><ellipse cx="93.33" cy="94.28" rx="1.36" ry="1.62" fill="#fefefa"/><ellipse cx="93.33" cy="91.59" rx="1.36" ry="1.62" fill="#fefefa"/><ellipse cx="93.33" cy="88.90" rx="1.36" ry="1.62" fill="#fefefa"/><ellipse cx="93.33" cy="86.22" rx="1.36" ry="1.62" fill="#fefefa"/><ellipse cx="93.33" cy="83.53" rx="1.36" ry="1.62" fill="#fefefa"/><ellipse cx="93.33" cy="80.85" rx="1.36" ry="1.62" fill="#fefefa"/><ellipse cx="93.33" cy="78.16" rx="1.36" ry="1.62" fill="#fefefa"/><ellipse cx="93.33" cy="75.47" rx="1.36" ry="1.62" fill="#fefefa"/><ellipse cx="93.33" cy="72.79" rx="1.36" ry="1.62" fill="#fefefa"/><ellipse cx="93.33" cy="70.10" rx="1.36" ry="1.62" fill="#fefefa"/><ellipse cx="93.33" cy="67.42" rx="1.36" ry="1.62" fill="#fefefa"/><ellipse cx="93.33" cy="64.73" rx="1.36" ry="1.62" fill="#fefefa"/><ellipse cx="93.33" cy="62.04" rx="1.36" ry="1.62" fill="#fefefa"/><ellipse cx="93.33" cy="59.36" rx="1.36" ry="1.62" fill="#fefefa"/><ellipse cx="93.33" cy="56.67" rx="1.36" ry="1.62" fill="#fefefa"/><ellipse cx="93.33" cy="53.99" rx="1.36" ry="1.62" fill="#fefefa"/><ellipse cx="93.33" cy="51.30" rx="1.36" ry="1.62" fill="#fefefa"/><ellipse cx="96.64" cy="185.60" rx="1.36" ry="1.62" fill="#440154"/><ellipse cx="96.64" cy="182.91" rx="1.36" ry="1.62" fill="#453882"/><ellipse cx="96.64" cy="180.23" rx="1.36" ry="1.62" fill="#365d8d"/><ellipse cx="96.64" cy="177.54" rx="1.36" ry="1.62" fill="#2a768e"/><ellipse cx="96.64" cy="174.86" rx="1.36" ry="1.62" fill="#238a8d"/><ellipse cx="96.64" cy="172.17" rx="1.36" ry="1.62" fill="#1e9b8a"/><ellipse cx="96.64" cy="169.48" rx="1.36" ry="1.62" fill="#22a785"/><ellipse cx="96.64" cy="166.80" rx="1.36" ry="1.62" fill="#2cb17e"/><ellipse cx="96.64" cy="164.11" rx="1.36" ry="1.62" fill="#38b977"/><ellipse cx="96.64" cy="161.43" rx="1.36" ry="1.62" fill="#44bf70"/><ellipse cx="96.64" cy="158.74" rx="1.36" ry="1.62" fill="#50c46a"/><ellipse cx="96.64" cy="156.05" rx="1.36" ry="1.62" fill="#5ac864"/><ellipse cx="96.64" cy="153.37" rx="1.36" ry="1.62" fill="#60ca60"/><ellipse cx="96.64" cy="150.68" rx="1.36" ry="1.62" fill="#67cc5c"/><ellipse cx="96.64" cy="148.00" rx="1.36" ry="1.62" fill="#6ece58"/><ellipse cx="96.64" cy="145.31" rx="1.36" ry="1.62" fill="#70cf57"/><ellipse cx="96.64" cy="142.62" rx="1.36" ry="1.62" fill="#75d054"/><ellipse cx="96.64" cy="139.94" rx="1.36" ry="1.62" fill="#77d153"/><ellipse cx="96.64" cy="137.25" rx="1.36" ry="1.62" fill="#7ad151"/><ellipse cx="96.64" cy="134.57" rx="1.36" ry="1.62" fill="#7cd250"/><ellipse cx="96.64" cy="131.88" rx="1.36" ry="1.62" fill="#7fd34e"/><ellipse cx="96.64" cy="129.19" rx="1.36" ry="1.62" fill="#7fd34e"/><ellipse cx="96.64" cy="126.51" rx="1.36" ry="1.62" fill="#81d34d"/><ellipse cx="96.64" cy="123.82" rx="1.36" ry="1.62" fill="#81d34d"/><ellipse cx="96.64" cy="121.14" rx="1.36" ry="1.62" fill="#81d34d"/><ellipse cx="96.64" cy="118.45" rx="1.36" ry="1.62" fill="#81d34d"/><ellipse cx="96.64" cy="115.76" rx="1.36" ry="1.62" fill="#81d34d"/><ellipse cx="96.64" cy="113.08" rx="1.36" ry="1.62" fill="#81d34d"/><ellipse cx="96.64" cy="110.39" rx="1.36" ry="1.62" fill="#7fd34e"/><ellipse cx="96.64" cy="107.71" rx="1.36" ry="1.62" fill="#7fd34e"/><ellipse cx="96.64" cy="105.02" rx="1.36" ry="1.62" fill="#fefefa"/><ellipse cx="96.64" cy="102.33" rx="1.36" ry="1.62" fill="#fefefa"/><ellipse cx="96.64" cy="99.65" rx="1.36" ry="1.62" fill="#fefefa"/><ellipse cx="96.64" cy="96.96" rx="1.36" ry="1.62" fill="#fefefa"/><ellipse cx="96.64" cy="94.28" rx="1.36" ry="1.62" fill="#7ad151"/><ellipse cx="96.64" cy="91.59" rx="1.36" ry="1.62" fill="#fefefa"/><ellipse cx="96.64" cy="88.90" rx="1.36" ry="1.62" fill="#fefefa"/><ellipse cx="96.64" cy="86.22" rx="1.36" ry="1.62" fill="#fefefa"/><ellipse cx="96.64" cy="83.53" rx="1.36" ry="1.62" fill="#fefefa"/><ellipse cx="96.64" cy="80.85" rx="1.36" ry="1.62" fill="#fefefa"/><ellipse cx="96.64" cy="78.16" rx="1.36" ry="1.62" fill="#fefefa"/><ellipse cx="96.64" cy="75.47" rx="1.36" ry="1.62" fill="#fefefa"/><ellipse cx="96.64" cy="72.79" rx="1.36" ry="1.62" fill="#fefefa"/><ellipse cx="96.64" cy="70.10" rx="1.36" ry="1.62" fill="#fefefa"/><ellipse cx="96.64" cy="67.42" rx="1.36" ry="1.62" fill="#fefefa"/><ellipse cx="96.64" cy="64.73" rx="1.36" ry="1.62" fill="#fefefa"/><ellipse cx="96.64" cy="62.04" rx="1.36" ry="1.62" fill="#fefefa"/><ellipse cx="96.64" cy="59.36" rx="1.36" ry="1.62" fill="#fefefa"/><ellipse cx="96.64" cy="56.67" rx="1.36" ry="1.62" fill="#fefefa"/><ellipse cx="96.64" cy="53.99" rx="1.36" ry="1.62" fill="#fefefa"/><ellipse cx="96.64" cy="51.30" rx="1.36" ry="1.62" fill="#fefefa"/><ellipse cx="99.94" cy="185.60" rx="1.36" ry="1.62" fill="#440154"/><ellipse cx="99.94" cy="182.91" rx="1.36" ry="1.62" fill="#453781"/><ellipse cx="99.94" cy="180.23" rx="1.36" ry="1.62" fill="#365c8d"/><ellipse cx="99.94" cy="177.54" rx="1.36" ry="1.62" fill="#2a768e"/><ellipse cx="99.94" cy="174.86" rx="1.36" ry="1.62" fill="#238a8d"/><ellipse cx="99.94" cy="172.17" rx="1.36" ry="1.62" fill="#1f9a8a"/><ellipse cx="99.94" cy="169.48" rx="1.36" ry="1.62" fill="#22a785"/><ellipse cx="99.94" cy="166.80" rx="1.36" ry="1.62" fill="#2cb17e"/><ellipse cx="99.94" cy="164.11" rx="1.36" ry="1.62" fill="#38b977"/><ellipse cx="99.94" cy="161.43" rx="1.36" ry="1.62" fill="#46c06f"/><ellipse cx="99.94" cy="158.74" rx="1.36" ry="1.62" fill="#52c569"/><ellipse cx="99.94" cy="156.05" rx="1.36" ry="1.62" fill="#5ac864"/><ellipse cx="99.94" cy="153.37" rx="1.36" ry="1.62" fill="#63cb5f"/><ellipse cx="99.94" cy="150.68" rx="1.36" ry="1.62" fill="#69cd5b"/><ellipse cx="99.94" cy="148.00" rx="1.36" ry="1.62" fill="#70cf57"/><ellipse cx="99.94" cy="145.31" rx="1.36" ry="1.62" fill="#75d054"/><ellipse cx="99.94" cy="142.62" rx="1.36" ry="1.62" fill="#77d153"/><ellipse cx="99.94" cy="139.94" rx="1.36" ry="1.62" fill="#7cd250"/><ellipse cx="99.94" cy="137.25" rx="1.36" ry="1.62" fill="#7fd34e"/><ellipse cx="99.94" cy="134.57" rx="1.36" ry="1.62" fill="#7fd34e"/><ellipse cx="99.94" cy="131.88" rx="1.36" ry="1.62" fill="#81d34d"/><ellipse cx="99.94" cy="129.19" rx="1.36" ry="1.62" fill="#84d44b"/><ellipse cx="99.94" cy="126.51" rx="1.36" ry="1.62" fill="#84d44b"/><ellipse cx="99.94" cy="123.82" rx="1.36" ry="1.62" fill="#84d44b"/><ellipse cx="99.94" cy="121.14" rx="1.36" ry="1.62" fill="#86d549"/><ellipse cx="99.94" cy="118.45" rx="1.36" ry="1.62" fill="#86d549"/><ellipse cx="99.94" cy="115.76" rx="1.36" ry="1.62" fill="#86d549"/><ellipse cx="99.94" cy="113.08" rx="1.36" ry="1.62" fill="#84d44b"/><ellipse cx="99.94" cy="110.39" rx="1.36" ry="1.62" fill="#84d44b"/><ellipse cx="99.94" cy="107.71" rx="1.36" ry="1.62" fill="#81d34d"/><ellipse cx="99.94" cy="105.02" rx="1.36" ry="1.62" fill="#fefefa"/><ellipse cx="99.94" cy="102.33" rx="1.36" ry="1.62" fill="#81d34d"/><ellipse cx="99.94" cy="99.65" rx="1.36" ry="1.62" fill="#7fd34e"/><ellipse cx="99.94" cy="96.96" rx="1.36" ry="1.62" fill="#7fd34e"/><ellipse cx="99.94" cy="94.28" rx="1.36" ry="1.62" fill="#7cd250"/><ellipse cx="99.94" cy="91.59" rx="1.36" ry="1.62" fill="#fefefa"/><ellipse cx="99.94" cy="88.90" rx="1.36" ry="1.62" fill="#7ad151"/><ellipse cx="99.94" cy="86.22" rx="1.36" ry="1.62" fill="#fefefa"/><ellipse cx="99.94" cy="83.53" rx="1.36" ry="1.62" fill="#fefefa"/><ellipse cx="99.94" cy="80.85" rx="1.36" ry="1.62" fill="#fefefa"/><ellipse cx="99.94" cy="78.16" rx="1.36" ry="1.62" fill="#fefefa"/><ellipse cx="99.94" cy="75.47" rx="1.36" ry="1.62" fill="#fefefa"/><ellipse cx="99.94" cy="72.79" rx="1.36" ry="1.62" fill="#fefefa"/><ellipse cx="99.94" cy="70.10" rx="1.36" ry="1.62" fill="#fefefa"/><ellipse cx="99.94" cy="67.42" rx="1.36" ry="1.62" fill="#fefefa"/><ellipse cx="99.94" cy="64.73" rx="1.36" ry="1.62" fill="#fefefa"/><ellipse cx="99.94" cy="62.04" rx="1.36" ry="1.62" fill="#fefefa"/><ellipse cx="99.94" cy="59.36" rx="1.36" ry="1.62" fill="#fefefa"/><ellipse cx="99.94" cy="56.67" rx="1.36" ry="1.62" fill="#fefefa"/><ellipse cx="99.94" cy="53.99" rx="1.36" ry="1.62" fill="#fefefa"/><ellipse cx="99.94" cy="51.30" rx="1.36" ry="1.62" fill="#fefefa"/><ellipse cx="103.25" cy="185.60" rx="1.36" ry="1.62" fill="#440154"/><ellipse cx="103.25" cy="182.91" rx="1.36" ry="1.62" fill="#453781"/><ellipse cx="103.25" cy="180.23" rx="1.36" ry="1.62" fill="#365c8d"/><ellipse cx="103.25" cy="177.54" rx="1.36" ry="1.62" fill="#2b758e"/><ellipse cx="103.25" cy="174.86" rx="1.36" ry="1.62" fill="#238a8d"/><ellipse cx="103.25" cy="172.17" rx="1.36" ry="1.62" fill="#1f9a8a"/><ellipse cx="103.25" cy="169.48" rx="1.36" ry="1.62" fill="#22a785"/><ellipse cx="103.25" cy="166.80" rx="1.36" ry="1.62" fill="#2cb17e"/><ellipse cx="103.25" cy="164.11" rx="1.36" ry="1.62" fill="#3aba76"/><ellipse cx="103.25" cy="161.43" rx="1.36" ry="1.62" fill="#46c06f"/><ellipse cx="103.25" cy="158.74" rx="1.36" ry="1.62" fill="#52c569"/><ellipse cx="103.25" cy="156.05" rx="1.36" ry="1.62" fill="#5cc863"/><ellipse cx="103.25" cy="153.37" rx="1.36" ry="1.62" fill="#65cb5e"/><ellipse cx="103.25" cy="150.68" rx="1.36" ry="1.62" fill="#6ccd5a"/><ellipse cx="103.25" cy="148.00" rx="1.36" ry="1.62" fill="#73d056"/><ellipse cx="103.25" cy="145.31" rx="1.36" ry="1.62" fill="#77d153"/><ellipse cx="103.25" cy="142.62" rx="1.36" ry="1.62" fill="#7ad151"/><ellipse cx="103.25" cy="139.94" rx="1.36" ry="1.62" fill="#7fd34e"/><ellipse cx="103.25" cy="137.25" rx="1.36" ry="1.62" fill="#81d34d"/><ellipse cx="103.25" cy="134.57" rx="1.36" ry="1.62" fill="#84d44b"/><ellipse cx="103.25" cy="131.88" rx="1.36" ry="1.62" fill="#86d549"/><ellipse cx="103.25" cy="129.19" rx="1.36" ry="1.62" fill="#86d549"/><ellipse cx="103.25" cy="126.51" rx="1.36" ry="1.62" fill="#89d548"/><ellipse cx="103.25" cy="123.82" rx="1.36" ry="1.62" fill="#89d548"/><ellipse cx="103.25" cy="121.14" rx="1.36" ry="1.62" fill="#89d548"/><ellipse cx="103.25" cy="118.45" rx="1.36" ry="1.62" fill="#8bd646"/><ellipse cx="103.25" cy="115.76" rx="1.36" ry="1.62" fill="#89d548"/><ellipse cx="103.25" cy="113.08" rx="1.36" ry="1.62" fill="#89d548"/><ellipse cx="103.25" cy="110.39" rx="1.36" ry="1.62" fill="#86d549"/><ellipse cx="103.25" cy="107.71" rx="1.36" ry="1.62" fill="#86d549"/><ellipse cx="103.25" cy="105.02" rx="1.36" ry="1.62" fill="#fefefa"/><ellipse cx="103.25" cy="102.33" rx="1.36" ry="1.62" fill="#fefefa"/><ellipse cx="103.25" cy="99.65" rx="1.36" ry="1.62" fill="#fefefa"/><ellipse cx="103.25" cy="96.96" rx="1.36" ry="1.62" fill="#fefefa"/><ellipse cx="103.25" cy="94.28" rx="1.36" ry="1.62" fill="#fefefa"/><ellipse cx="103.25" cy="91.59" rx="1.36" ry="1.62" fill="#fefefa"/><ellipse cx="103.25" cy="88.90" rx="1.36" ry="1.62" fill="#fefefa"/><ellipse cx="103.25" cy="86.22" rx="1.36" ry="1.62" fill="#fefefa"/><ellipse cx="103.25" cy="83.53" rx="1.36" ry="1.62" fill="#fefefa"/><ellipse cx="103.25" cy="80.85" rx="1.36" ry="1.62" fill="#fefefa"/><ellipse cx="103.25" cy="78.16" rx="1.36" ry="1.62" fill="#fefefa"/><ellipse cx="103.25" cy="75.47" rx="1.36" ry="1.62" fill="#fefefa"/><ellipse cx="103.25" cy="72.79" rx="1.36" ry="1.62" fill="#fefefa"/><ellipse cx="103.25" cy="70.10" rx="1.36" ry="1.62" fill="#fefefa"/><ellipse cx="103.25" cy="67.42" rx="1.36" ry="1.62" fill="#fefefa"/><ellipse cx="103.25" cy="64.73" rx="1.36" ry="1.62" fill="#fefefa"/><ellipse cx="103.25" cy="62.04" rx="1.36" ry="1.62" fill="#fefefa"/><ellipse cx="103.25" cy="59.36" rx="1.36" ry="1.62" fill="#fefefa"/><ellipse cx="103.25" cy="56.67" rx="1.36" ry="1.62" fill="#fefefa"/><ellipse cx="103.25" cy="53.99" rx="1.36" ry="1.62" fill="#fefefa"/><ellipse cx="103.25" cy="51.30" rx="1.36" ry="1.62" fill="#fefefa"/><ellipse cx="106.56" cy="185.60" rx="1.36" ry="1.62" fill="#440154"/><ellipse cx="106.56" cy="182.91" rx="1.36" ry="1.62" fill="#453781"/><ellipse cx="106.56" cy="180.23" rx="1.36" ry="1.62" fill="#375b8d"/><ellipse cx="106.56" cy="177.54" rx="1.36" ry="1.62" fill="#2b758e"/><ellipse cx="106.56" cy="174.86" rx="1.36" ry="1.62" fill="#23898e"/><ellipse cx="106.56" cy="172.17" rx="1.36" ry="1.62" fill="#1f9a8a"/><ellipse cx="106.56" cy="169.48" rx="1.36" ry="1.62" fill="#22a785"/><ellipse cx="106.56" cy="166.80" rx="1.36" ry="1.62" fill="#2db27d"/><ellipse cx="106.56" cy="164.11" rx="1.36" ry="1.62" fill="#3aba76"/><ellipse cx="106.56" cy="161.43" rx="1.36" ry="1.62" fill="#46c06f"/><ellipse cx="106.56" cy="158.74" rx="1.36" ry="1.62" fill="#54c568"/><ellipse cx="106.56" cy="156.05" rx="1.36" ry="1.62" fill="#5ec962"/><ellipse cx="106.56" cy="153.37" rx="1.36" ry="1.62" fill="#67cc5c"/><ellipse cx="106.56" cy="150.68" rx="1.36" ry="1.62" fill="#6ece58"/><ellipse cx="106.56" cy="148.00" rx="1.36" ry="1.62" fill="#75d054"/><ellipse cx="106.56" cy="145.31" rx="1.36" ry="1.62" fill="#7ad151"/><ellipse cx="106.56" cy="142.62" rx="1.36" ry="1.62" fill="#7fd34e"/><ellipse cx="106.56" cy="139.94" rx="1.36" ry="1.62" fill="#81d34d"/><ellipse cx="106.56" cy="137.25" rx="1.36" ry="1.62" fill="#84d44b"/><ellipse cx="106.56" cy="134.57" rx="1.36" ry="1.62" fill="#86d549"/><ellipse cx="106.56" cy="131.88" rx="1.36" ry="1.62" fill="#89d548"/><ellipse cx="106.56" cy="129.19" rx="1.36" ry="1.62" fill="#8bd646"/><ellipse cx="106.56" cy="126.51" rx="1.36" ry="1.62" fill="#8bd646"/><ellipse cx="106.56" cy="123.82" rx="1.36" ry="1.62" fill="#8bd646"/><ellipse cx="106.56" cy="121.14" rx="1.36" ry="1.62" fill="#8ed645"/><ellipse cx="106.56" cy="118.45" rx="1.36" ry="1.62" fill="#8ed645"/><ellipse cx="106.56" cy="115.76" rx="1.36" ry="1.62" fill="#8ed645"/><ellipse cx="106.56" cy="113.08" rx="1.36" ry="1.62" fill="#8bd646"/><ellipse cx="106.56" cy="110.39" rx="1.36" ry="1.62" fill="#8bd646"/><ellipse cx="106.56" cy="107.71" rx="1.36" ry="1.62" fill="#8bd646"/><ellipse cx="106.56" cy="105.02" rx="1.36" ry="1.62" fill="#89d548"/><ellipse cx="106.56" cy="102.33" rx="1.36" ry="1.62" fill="#89d548"/><ellipse cx="106.56" cy="99.65" rx="1.36" ry="1.62" fill="#86d549"/><ellipse cx="106.56" cy="96.96" rx="1.36" ry="1.62" fill="#86d549"/><ellipse cx="106.56" cy="94.28" rx="1.36" ry="1.62" fill="#fefefa"/><ellipse cx="106.56" cy="91.59" rx="1.36" ry="1.62" fill="#fefefa"/><ellipse cx="106.56" cy="88.90" rx="1.36" ry="1.62" fill="#fefefa"/><ellipse cx="106.56" cy="86.22" rx="1.36" ry="1.62" fill="#fefefa"/><ellipse cx="106.56" cy="83.53" rx="1.36" ry="1.62" fill="#fefefa"/><ellipse cx="106.56" cy="80.85" rx="1.36" ry="1.62" fill="#fefefa"/><ellipse cx="106.56" cy="78.16" rx="1.36" ry="1.62" fill="#fefefa"/><ellipse cx="106.56" cy="75.47" rx="1.36" ry="1.62" fill="#7cd250"/><ellipse cx="106.56" cy="72.79" rx="1.36" ry="1.62" fill="#fefefa"/><ellipse cx="106.56" cy="70.10" rx="1.36" ry="1.62" fill="#fefefa"/><ellipse cx="106.56" cy="67.42" rx="1.36" ry="1.62" fill="#fefefa"/><ellipse cx="106.56" cy="64.73" rx="1.36" ry="1.62" fill="#fefefa"/><ellipse cx="106.56" cy="62.04" rx="1.36" ry="1.62" fill="#fefefa"/><ellipse cx="106.56" cy="59.36" rx="1.36" ry="1.62" fill="#fefefa"/><ellipse cx="106.56" cy="56.67" rx="1.36" ry="1.62" fill="#fefefa"/><ellipse cx="106.56" cy="53.99" rx="1.36" ry="1.62" fill="#fefefa"/><ellipse cx="106.56" cy="51.30" rx="1.36" ry="1.62" fill="#fefefa"/><ellipse cx="109.87" cy="185.60" rx="1.36" ry="1.62" fill="#440154"/><ellipse cx="109.87" cy="182.91" rx="1.36" ry="1.62" fill="#453781"/><ellipse cx="109.87" cy="180.23" rx="1.36" ry="1.62" fill="#375b8d"/><ellipse cx="109.87" cy="177.54" rx="1.36" ry="1.62" fill="#2b758e"/><ellipse cx="109.87" cy="174.86" rx="1.36" ry="1.62" fill="#238a8d"/><ellipse cx="109.87" cy="172.17" rx="1.36" ry="1.62" fill="#1f9a8a"/><ellipse cx="109.87" cy="169.48" rx="1.36" ry="1.62" fill="#22a785"/><ellipse cx="109.87" cy="166.80" rx="1.36" ry="1.62" fill="#2db27d"/><ellipse cx="109.87" cy="164.11" rx="1.36" ry="1.62" fill="#3aba76"/><ellipse cx="109.87" cy="161.43" rx="1.36" ry="1.62" fill="#48c16e"/><ellipse cx="109.87" cy="158.74" rx="1.36" ry="1.62" fill="#54c568"/><ellipse cx="109.87" cy="156.05" rx="1.36" ry="1.62" fill="#5ec962"/><ellipse cx="109.87" cy="153.37" rx="1.36" ry="1.62" fill="#67cc5c"/><ellipse cx="109.87" cy="150.68" rx="1.36" ry="1.62" fill="#70cf57"/><ellipse cx="109.87" cy="148.00" rx="1.36" ry="1.62" fill="#75d054"/><ellipse cx="109.87" cy="145.31" rx="1.36" ry="1.62" fill="#7cd250"/><ellipse cx="109.87" cy="142.62" rx="1.36" ry="1.62" fill="#7fd34e"/><ellipse cx="109.87" cy="139.94" rx="1.36" ry="1.62" fill="#84d44b"/><ellipse cx="109.87" cy="137.25" rx="1.36" ry="1.62" fill="#86d549"/><ellipse cx="109.87" cy="134.57" rx="1.36" ry="1.62" fill="#89d548"/><ellipse cx="109.87" cy="131.88" rx="1.36" ry="1.62" fill="#8bd646"/><ellipse cx="109.87" cy="129.19" rx="1.36" ry="1.62" fill="#8ed645"/><ellipse cx="109.87" cy="126.51" rx="1.36" ry="1.62" fill="#8ed645"/><ellipse cx="109.87" cy="123.82" rx="1.36" ry="1.62" fill="#8ed645"/><ellipse cx="109.87" cy="121.14" rx="1.36" ry="1.62" fill="#90d743"/><ellipse cx="109.87" cy="118.45" rx="1.36" ry="1.62" fill="#90d743"/><ellipse cx="109.87" cy="115.76" rx="1.36" ry="1.62" fill="#90d743"/><ellipse cx="109.87" cy="113.08" rx="1.36" ry="1.62" fill="#8ed645"/><ellipse cx="109.87" cy="110.39" rx="1.36" ry="1.62" fill="#8ed645"/><ellipse cx="109.87" cy="107.71" rx="1.36" ry="1.62" fill="#8ed645"/><ellipse cx="109.87" cy="105.02" rx="1.36" ry="1.62" fill="#8bd646"/><ellipse cx="109.87" cy="102.33" rx="1.36" ry="1.62" fill="#8bd646"/><ellipse cx="109.87" cy="99.65" rx="1.36" ry="1.62" fill="#89d548"/><ellipse cx="109.87" cy="96.96" rx="1.36" ry="1.62" fill="#89d548"/><ellipse cx="109.87" cy="94.28" rx="1.36" ry="1.62" fill="#86d549"/><ellipse cx="109.87" cy="91.59" rx="1.36" ry="1.62" fill="#86d549"/><ellipse cx="109.87" cy="88.90" rx="1.36" ry="1.62" fill="#86d549"/><ellipse cx="109.87" cy="86.22" rx="1.36" ry="1.62" fill="#84d44b"/><ellipse cx="109.87" cy="83.53" rx="1.36" ry="1.62" fill="#84d44b"/><ellipse cx="109.87" cy="80.85" rx="1.36" ry="1.62" fill="#fefefa"/><ellipse cx="109.87" cy="78.16" rx="1.36" ry="1.62" fill="#fefefa"/><ellipse cx="109.87" cy="75.47" rx="1.36" ry="1.62" fill="#fefefa"/><ellipse cx="109.87" cy="72.79" rx="1.36" ry="1.62" fill="#fefefa"/><ellipse cx="109.87" cy="70.10" rx="1.36" ry="1.62" fill="#fefefa"/><ellipse cx="109.87" cy="67.42" rx="1.36" ry="1.62" fill="#fefefa"/><ellipse cx="109.87" cy="64.73" rx="1.36" ry="1.62" fill="#fefefa"/><ellipse cx="109.87" cy="62.04" rx="1.36" ry="1.62" fill="#fefefa"/><ellipse cx="109.87" cy="59.36" rx="1.36" ry="1.62" fill="#fefefa"/><ellipse cx="109.87" cy="56.67" rx="1.36" ry="1.62" fill="#fefefa"/><ellipse cx="109.87" cy="53.99" rx="1.36" ry="1.62" fill="#fefefa"/><ellipse cx="109.87" cy="51.30" rx="1.36" ry="1.62" fill="#fefefa"/><ellipse cx="113.18" cy="185.60" rx="1.36" ry="1.62" fill="#440154"/><ellipse cx="113.18" cy="182.91" rx="1.36" ry="1.62" fill="#453781"/><ellipse cx="113.18" cy="180.23" rx="1.36" ry="1.62" fill="#375b8d"/><ellipse cx="113.18" cy="177.54" rx="1.36" ry="1.62" fill="#2b758e"/><ellipse cx="113.18" cy="174.86" rx="1.36" ry="1.62" fill="#238a8d"/><ellipse cx="113.18" cy="172.17" rx="1.36" ry="1.62" fill="#1f9a8a"/><ellipse cx="113.18" cy="169.48" rx="1.36" ry="1.62" fill="#22a884"/><ellipse cx="113.18" cy="166.80" rx="1.36" ry="1.62" fill="#2db27d"/><ellipse cx="113.18" cy="164.11" rx="1.36" ry="1.62" fill="#3bbb75"/><ellipse cx="113.18" cy="161.43" rx="1.36" ry="1.62" fill="#4ac16d"/><ellipse cx="113.18" cy="158.74" rx="1.36" ry="1.62" fill="#56c667"/><ellipse cx="113.18" cy="156.05" rx="1.36" ry="1.62" fill="#60ca60"/><ellipse cx="113.18" cy="153.37" rx="1.36" ry="1.62" fill="#69cd5b"/><ellipse cx="113.18" cy="150.68" rx="1.36" ry="1.62" fill="#70cf57"/><ellipse cx="113.18" cy="148.00" rx="1.36" ry="1.62" fill="#77d153"/><ellipse cx="113.18" cy="145.31" rx="1.36" ry="1.62" fill="#7cd250"/><ellipse cx="113.18" cy="142.62" rx="1.36" ry="1.62" fill="#81d34d"/><ellipse cx="113.18" cy="139.94" rx="1.36" ry="1.62" fill="#86d549"/><ellipse cx="113.18" cy="137.25" rx="1.36" ry="1.62" fill="#89d548"/><ellipse cx="113.18" cy="134.57" rx="1.36" ry="1.62" fill="#8bd646"/><ellipse cx="113.18" cy="131.88" rx="1.36" ry="1.62" fill="#8ed645"/><ellipse cx="113.18" cy="129.19" rx="1.36" ry="1.62" fill="#8ed645"/><ellipse cx="113.18" cy="126.51" rx="1.36" ry="1.62" fill="#90d743"/><ellipse cx="113.18" cy="123.82" rx="1.36" ry="1.62" fill="#90d743"/><ellipse cx="113.18" cy="121.14" rx="1.36" ry="1.62" fill="#93d741"/><ellipse cx="113.18" cy="118.45" rx="1.36" ry="1.62" fill="#93d741"/><ellipse cx="113.18" cy="115.76" rx="1.36" ry="1.62" fill="#93d741"/><ellipse cx="113.18" cy="113.08" rx="1.36" ry="1.62" fill="#90d743"/><ellipse cx="113.18" cy="110.39" rx="1.36" ry="1.62" fill="#90d743"/><ellipse cx="113.18" cy="107.71" rx="1.36" ry="1.62" fill="#fefefa"/><ellipse cx="113.18" cy="105.02" rx="1.36" ry="1.62" fill="#fefefa"/><ellipse cx="113.18" cy="102.33" rx="1.36" ry="1.62" fill="#8ed645"/><ellipse cx="113.18" cy="99.65" rx="1.36" ry="1.62" fill="#8bd646"/><ellipse cx="113.18" cy="96.96" rx="1.36" ry="1.62" fill="#8bd646"/><ellipse cx="113.18" cy="94.28" rx="1.36" ry="1.62" fill="#8bd646"/><ellipse cx="113.18" cy="91.59" rx="1.36" ry="1.62" fill="#fefefa"/><ellipse cx="113.18" cy="88.90" rx="1.36" ry="1.62" fill="#fefefa"/><ellipse cx="113.18" cy="86.22" rx="1.36" ry="1.62" fill="#fefefa"/><ellipse cx="113.18" cy="83.53" rx="1.36" ry="1.62" fill="#fefefa"/><ellipse cx="113.18" cy="80.85" rx="1.36" ry="1.62" fill="#fefefa"/><ellipse cx="113.18" cy="78.16" rx="1.36" ry="1.62" fill="#84d44b"/><ellipse cx="113.18" cy="75.47" rx="1.36" ry="1.62" fill="#fefefa"/><ellipse cx="113.18" cy="72.79" rx="1.36" ry="1.62" fill="#fefefa"/><ellipse cx="113.18" cy="70.10" rx="1.36" ry="1.62" fill="#fefefa"/><ellipse cx="113.18" cy="67.42" rx="1.36" ry="1.62" fill="#fefefa"/><ellipse cx="113.18" cy="64.73" rx="1.36" ry="1.62" fill="#fefefa"/><ellipse cx="113.18" cy="62.04" rx="1.36" ry="1.62" fill="#fefefa"/><ellipse cx="113.18" cy="59.36" rx="1.36" ry="1.62" fill="#fefefa"/><ellipse cx="113.18" cy="56.67" rx="1.36" ry="1.62" fill="#fefefa"/><ellipse cx="113.18" cy="53.99" rx="1.36" ry="1.62" fill="#fefefa"/><ellipse cx="113.18" cy="51.30" rx="1.36" ry="1.62" fill="#fefefa"/><ellipse cx="116.48" cy="185.60" rx="1.36" ry="1.62" fill="#440154"/><ellipse cx="116.48" cy="182.91" rx="1.36" ry="1.62" fill="#453781"/><ellipse cx="116.48" cy="180.23" rx="1.36" ry="1.62" fill="#375b8d"/><ellipse cx="116.48" cy="177.54" rx="1.36" ry="1.62" fill="#2b758e"/><ellipse cx="116.48" cy="174.86" rx="1.36" ry="1.62" fill="#238a8d"/><ellipse cx="116.48" cy="172.17" rx="1.36" ry="1.62" fill="#1e9b8a"/><ellipse cx="116.48" cy="169.48" rx="1.36" ry="1.62" fill="#22a884"/><ellipse cx="116.48" cy="166.80" rx="1.36" ry="1.62" fill="#2eb37c"/><ellipse cx="116.48" cy="164.11" rx="1.36" ry="1.62" fill="#3bbb75"/><ellipse cx="116.48" cy="161.43" rx="1.36" ry="1.62" fill="#4ac16d"/><ellipse cx="116.48" cy="158.74" rx="1.36" ry="1.62" fill="#56c667"/><ellipse cx="116.48" cy="156.05" rx="1.36" ry="1.62" fill="#63cb5f"/><ellipse cx="116.48" cy="153.37" rx="1.36" ry="1.62" fill="#6ccd5a"/><ellipse cx="116.48" cy="150.68" rx="1.36" ry="1.62" fill="#73d056"/><ellipse cx="116.48" cy="148.00" rx="1.36" ry="1.62" fill="#7ad151"/><ellipse cx="116.48" cy="145.31" rx="1.36" ry="1.62" fill="#7fd34e"/><ellipse cx="116.48" cy="142.62" rx="1.36" ry="1.62" fill="#84d44b"/><ellipse cx="116.48" cy="139.94" rx="1.36" ry="1.62" fill="#89d548"/><ellipse cx="116.48" cy="137.25" rx="1.36" ry="1.62" fill="#8bd646"/><ellipse cx="116.48" cy="134.57" rx="1.36" ry="1.62" fill="#8ed645"/><ellipse cx="116.48" cy="131.88" rx="1.36" ry="1.62" fill="#90d743"/><ellipse cx="116.48" cy="129.19" rx="1.36" ry="1.62" fill="#90d743"/><ellipse cx="116.48" cy="126.51" rx="1.36" ry="1.62" fill="#93d741"/><ellipse cx="116.48" cy="123.82" rx="1.36" ry="1.62" fill="#93d741"/><ellipse cx="116.48" cy="121.14" rx="1.36" ry="1.62" fill="#95d840"/><ellipse cx="116.48" cy="118.45" rx="1.36" ry="1.62" fill="#95d840"/><ellipse cx="116.48" cy="115.76" rx="1.36" ry="1.62" fill="#95d840"/><ellipse cx="116.48" cy="113.08" rx="1.36" ry="1.62" fill="#93d741"/><ellipse cx="116.48" cy="110.39" rx="1.36" ry="1.62" fill="#93d741"/><ellipse cx="116.48" cy="107.71" rx="1.36" ry="1.62" fill="#93d741"/><ellipse cx="116.48" cy="105.02" rx="1.36" ry="1.62" fill="#90d743"/><ellipse cx="116.48" cy="102.33" rx="1.36" ry="1.62" fill="#90d743"/><ellipse cx="116.48" cy="99.65" rx="1.36" ry="1.62" fill="#8ed645"/><ellipse cx="116.48" cy="96.96" rx="1.36" ry="1.62" fill="#8ed645"/><ellipse cx="116.48" cy="94.28" rx="1.36" ry="1.62" fill="#8ed645"/><ellipse cx="116.48" cy="91.59" rx="1.36" ry="1.62" fill="#8bd646"/><ellipse cx="116.48" cy="88.90" rx="1.36" ry="1.62" fill="#8bd646"/><ellipse cx="116.48" cy="86.22" rx="1.36" ry="1.62" fill="#89d548"/><ellipse cx="116.48" cy="83.53" rx="1.36" ry="1.62" fill="#89d548"/><ellipse cx="116.48" cy="80.85" rx="1.36" ry="1.62" fill="#86d549"/><ellipse cx="116.48" cy="78.16" rx="1.36" ry="1.62" fill="#fefefa"/><ellipse cx="116.48" cy="75.47" rx="1.36" ry="1.62" fill="#84d44b"/><ellipse cx="116.48" cy="72.79" rx="1.36" ry="1.62" fill="#fefefa"/><ellipse cx="116.48" cy="70.10" rx="1.36" ry="1.62" fill="#81d34d"/><ellipse cx="116.48" cy="67.42" rx="1.36" ry="1.62" fill="#fefefa"/><ellipse cx="116.48" cy="64.73" rx="1.36" ry="1.62" fill="#fefefa"/><ellipse cx="116.48" cy="62.04" rx="1.36" ry="1.62" fill="#fefefa"/><ellipse cx="116.48" cy="59.36" rx="1.36" ry="1.62" fill="#fefefa"/><ellipse cx="116.48" cy="56.67" rx="1.36" ry="1.62" fill="#fefefa"/><ellipse cx="116.48" cy="53.99" rx="1.36" ry="1.62" fill="#fefefa"/><ellipse cx="116.48" cy="51.30" rx="1.36" ry="1.62" fill="#fefefa"/><ellipse cx="119.79" cy="185.60" rx="1.36" ry="1.62" fill="#440154"/><ellipse cx="119.79" cy="182.91" rx="1.36" ry="1.62" fill="#453781"/><ellipse cx="119.79" cy="180.23" rx="1.36" ry="1.62" fill="#375b8d"/><ellipse cx="119.79" cy="177.54" rx="1.36" ry="1.62" fill="#2b758e"/><ellipse cx="119.79" cy="174.86" rx="1.36" ry="1.62" fill="#238a8d"/><ellipse cx="119.79" cy="172.17" rx="1.36" ry="1.62" fill="#1e9b8a"/><ellipse cx="119.79" cy="169.48" rx="1.36" ry="1.62" fill="#22a884"/><ellipse cx="119.79" cy="166.80" rx="1.36" ry="1.62" fill="#2eb37c"/><ellipse cx="119.79" cy="164.11" rx="1.36" ry="1.62" fill="#3dbc74"/><ellipse cx="119.79" cy="161.43" rx="1.36" ry="1.62" fill="#4cc26c"/><ellipse cx="119.79" cy="158.74" rx="1.36" ry="1.62" fill="#58c765"/><ellipse cx="119.79" cy="156.05" rx="1.36" ry="1.62" fill="#63cb5f"/><ellipse cx="119.79" cy="153.37" rx="1.36" ry="1.62" fill="#6ccd5a"/><ellipse cx="119.79" cy="150.68" rx="1.36" ry="1.62" fill="#75d054"/><ellipse cx="119.79" cy="148.00" rx="1.36" ry="1.62" fill="#7cd250"/><ellipse cx="119.79" cy="145.31" rx="1.36" ry="1.62" fill="#81d34d"/><ellipse cx="119.79" cy="142.62" rx="1.36" ry="1.62" fill="#86d549"/><ellipse cx="119.79" cy="139.94" rx="1.36" ry="1.62" fill="#8bd646"/><ellipse cx="119.79" cy="137.25" rx="1.36" ry="1.62" fill="#8ed645"/><ellipse cx="119.79" cy="134.57" rx="1.36" ry="1.62" fill="#90d743"/><ellipse cx="119.79" cy="131.88" rx="1.36" ry="1.62" fill="#93d741"/><ellipse cx="119.79" cy="129.19" rx="1.36" ry="1.62" fill="#93d741"/><ellipse cx="119.79" cy="126.51" rx="1.36" ry="1.62" fill="#95d840"/><ellipse cx="119.79" cy="123.82" rx="1.36" ry="1.62" fill="#95d840"/><ellipse cx="119.79" cy="121.14" rx="1.36" ry="1.62" fill="#98d83e"/><ellipse cx="119.79" cy="118.45" rx="1.36" ry="1.62" fill="#98d83e"/><ellipse cx="119.79" cy="115.76" rx="1.36" ry="1.62" fill="#98d83e"/><ellipse cx="119.79" cy="113.08" rx="1.36" ry="1.62" fill="#95d840"/><ellipse cx="119.79" cy="110.39" rx="1.36" ry="1.62" fill="#95d840"/><ellipse cx="119.79" cy="107.71" rx="1.36" ry="1.62" fill="#95d840"/><ellipse cx="119.79" cy="105.02" rx="1.36" ry="1.62" fill="#93d741"/><ellipse cx="119.79" cy="102.33" rx="1.36" ry="1.62" fill="#93d741"/><ellipse cx="119.79" cy="99.65" rx="1.36" ry="1.62" fill="#90d743"/><ellipse cx="119.79" cy="96.96" rx="1.36" ry="1.62" fill="#90d743"/><ellipse cx="119.79" cy="94.28" rx="1.36" ry="1.62" fill="#90d743"/><ellipse cx="119.79" cy="91.59" rx="1.36" ry="1.62" fill="#8ed645"/><ellipse cx="119.79" cy="88.90" rx="1.36" ry="1.62" fill="#8ed645"/><ellipse cx="119.79" cy="86.22" rx="1.36" ry="1.62" fill="#fefefa"/><ellipse cx="119.79" cy="83.53" rx="1.36" ry="1.62" fill="#8bd646"/><ellipse cx="119.79" cy="80.85" rx="1.36" ry="1.62" fill="#89d548"/><ellipse cx="119.79" cy="78.16" rx="1.36" ry="1.62" fill="#fefefa"/><ellipse cx="119.79" cy="75.47" rx="1.36" ry="1.62" fill="#fefefa"/><ellipse cx="119.79" cy="72.79" rx="1.36" ry="1.62" fill="#fefefa"/><ellipse cx="119.79" cy="70.10" rx="1.36" ry="1.62" fill="#fefefa"/><ellipse cx="119.79" cy="67.42" rx="1.36" ry="1.62" fill="#fefefa"/><ellipse cx="119.79" cy="64.73" rx="1.36" ry="1.62" fill="#81d34d"/><ellipse cx="119.79" cy="62.04" rx="1.36" ry="1.62" fill="#fefefa"/><ellipse cx="119.79" cy="59.36" rx="1.36" ry="1.62" fill="#fefefa"/><ellipse cx="119.79" cy="56.67" rx="1.36" ry="1.62" fill="#fefefa"/><ellipse cx="119.79" cy="53.99" rx="1.36" ry="1.62" fill="#fefefa"/><ellipse cx="119.79" cy="51.30" rx="1.36" ry="1.62" fill="#fefefa"/><ellipse cx="123.10" cy="185.60" rx="1.36" ry="1.62" fill="#440154"/><ellipse cx="123.10" cy="182.91" rx="1.36" ry="1.62" fill="#453781"/><ellipse cx="123.10" cy="180.23" rx="1.36" ry="1.62" fill="#375b8d"/><ellipse cx="123.10" cy="177.54" rx="1.36" ry="1.62" fill="#2b758e"/><ellipse cx="123.10" cy="174.86" rx="1.36" ry="1.62" fill="#238a8d"/><ellipse cx="123.10" cy="172.17" rx="1.36" ry="1.62" fill="#1e9b8a"/><ellipse cx="123.10" cy="169.48" rx="1.36" ry="1.62" fill="#23a983"/><ellipse cx="123.10" cy="166.80" rx="1.36" ry="1.62" fill="#2eb37c"/><ellipse cx="123.10" cy="164.11" rx="1.36" ry="1.62" fill="#3dbc74"/><ellipse cx="123.10" cy="161.43" rx="1.36" ry="1.62" fill="#4cc26c"/><ellipse cx="123.10" cy="158.74" rx="1.36" ry="1.62" fill="#5ac864"/><ellipse cx="123.10" cy="156.05" rx="1.36" ry="1.62" fill="#65cb5e"/><ellipse cx="123.10" cy="153.37" rx="1.36" ry="1.62" fill="#6ece58"/><ellipse cx="123.10" cy="150.68" rx="1.36" ry="1.62" fill="#77d153"/><ellipse cx="123.10" cy="148.00" rx="1.36" ry="1.62" fill="#7fd34e"/><ellipse cx="123.10" cy="145.31" rx="1.36" ry="1.62" fill="#84d44b"/><ellipse cx="123.10" cy="142.62" rx="1.36" ry="1.62" fill="#89d548"/><ellipse cx="123.10" cy="139.94" rx="1.36" ry="1.62" fill="#8bd646"/><ellipse cx="123.10" cy="137.25" rx="1.36" ry="1.62" fill="#90d743"/><ellipse cx="123.10" cy="134.57" rx="1.36" ry="1.62" fill="#93d741"/><ellipse cx="123.10" cy="131.88" rx="1.36" ry="1.62" fill="#95d840"/><ellipse cx="123.10" cy="129.19" rx="1.36" ry="1.62" fill="#95d840"/><ellipse cx="123.10" cy="126.51" rx="1.36" ry="1.62" fill="#98d83e"/><ellipse cx="123.10" cy="123.82" rx="1.36" ry="1.62" fill="#98d83e"/><ellipse cx="123.10" cy="121.14" rx="1.36" ry="1.62" fill="#9bd93c"/><ellipse cx="123.10" cy="118.45" rx="1.36" ry="1.62" fill="#9bd93c"/><ellipse cx="123.10" cy="115.76" rx="1.36" ry="1.62" fill="#9bd93c"/><ellipse cx="123.10" cy="113.08" rx="1.36" ry="1.62" fill="#98d83e"/><ellipse cx="123.10" cy="110.39" rx="1.36" ry="1.62" fill="#98d83e"/><ellipse cx="123.10" cy="107.71" rx="1.36" ry="1.62" fill="#98d83e"/><ellipse cx="123.10" cy="105.02" rx="1.36" ry="1.62" fill="#95d840"/><ellipse cx="123.10" cy="102.33" rx="1.36" ry="1.62" fill="#95d840"/><ellipse cx="123.10" cy="99.65" rx="1.36" ry="1.62" fill="#93d741"/><ellipse cx="123.10" cy="96.96" rx="1.36" ry="1.62" fill="#fefefa"/><ellipse cx="123.10" cy="94.28" rx="1.36" ry="1.62" fill="#fefefa"/><ellipse cx="123.10" cy="91.59" rx="1.36" ry="1.62" fill="#90d743"/><ellipse cx="123.10" cy="88.90" rx="1.36" ry="1.62" fill="#90d743"/><ellipse cx="123.10" cy="86.22" rx="1.36" ry="1.62" fill="#8ed645"/><ellipse cx="123.10" cy="83.53" rx="1.36" ry="1.62" fill="#8ed645"/><ellipse cx="123.10" cy="80.85" rx="1.36" ry="1.62" fill="#8bd646"/><ellipse cx="123.10" cy="78.16" rx="1.36" ry="1.62" fill="#fefefa"/><ellipse cx="123.10" cy="75.47" rx="1.36" ry="1.62" fill="#89d548"/><ellipse cx="123.10" cy="72.79" rx="1.36" ry="1.62" fill="#fefefa"/><ellipse cx="123.10" cy="70.10" rx="1.36" ry="1.62" fill="#86d549"/><ellipse cx="123.10" cy="67.42" rx="1.36" ry="1.62" fill="#fefefa"/><ellipse cx="123.10" cy="64.73" rx="1.36" ry="1.62" fill="#fefefa"/><ellipse cx="123.10" cy="62.04" rx="1.36" ry="1.62" fill="#84d44b"/><ellipse cx="123.10" cy="59.36" rx="1.36" ry="1.62" fill="#fefefa"/><ellipse cx="123.10" cy="56.67" rx="1.36" ry="1.62" fill="#fefefa"/><ellipse cx="123.10" cy="53.99" rx="1.36" ry="1.62" fill="#fefefa"/><ellipse cx="123.10" cy="51.30" rx="1.36" ry="1.62" fill="#fefefa"/><ellipse cx="126.41" cy="185.60" rx="1.36" ry="1.62" fill="#440154"/><ellipse cx="126.41" cy="182.91" rx="1.36" ry="1.62" fill="#453781"/><ellipse cx="126.41" cy="180.23" rx="1.36" ry="1.62" fill="#375b8d"/><ellipse cx="126.41" cy="177.54" rx="1.36" ry="1.62" fill="#2b758e"/><ellipse cx="126.41" cy="174.86" rx="1.36" ry="1.62" fill="#238a8d"/><ellipse cx="126.41" cy="172.17" rx="1.36" ry="1.62" fill="#1e9b8a"/><ellipse cx="126.41" cy="169.48" rx="1.36" ry="1.62" fill="#23a983"/><ellipse cx="126.41" cy="166.80" rx="1.36" ry="1.62" fill="#2fb47c"/><ellipse cx="126.41" cy="164.11" rx="1.36" ry="1.62" fill="#3fbc73"/><ellipse cx="126.41" cy="161.43" rx="1.36" ry="1.62" fill="#4ec36b"/><ellipse cx="126.41" cy="158.74" rx="1.36" ry="1.62" fill="#5ac864"/><ellipse cx="126.41" cy="156.05" rx="1.36" ry="1.62" fill="#65cb5e"/><ellipse cx="126.41" cy="153.37" rx="1.36" ry="1.62" fill="#70cf57"/><ellipse cx="126.41" cy="150.68" rx="1.36" ry="1.62" fill="#77d153"/><ellipse cx="126.41" cy="148.00" rx="1.36" ry="1.62" fill="#7fd34e"/><ellipse cx="126.41" cy="145.31" rx="1.36" ry="1.62" fill="#86d549"/><ellipse cx="126.41" cy="142.62" rx="1.36" ry="1.62" fill="#8bd646"/><ellipse cx="126.41" cy="139.94" rx="1.36" ry="1.62" fill="#8ed645"/><ellipse cx="126.41" cy="137.25" rx="1.36" ry="1.62" fill="#93d741"/><ellipse cx="126.41" cy="134.57" rx="1.36" ry="1.62" fill="#95d840"/><ellipse cx="126.41" cy="131.88" rx="1.36" ry="1.62" fill="#98d83e"/><ellipse cx="126.41" cy="129.19" rx="1.36" ry="1.62" fill="#98d83e"/><ellipse cx="126.41" cy="126.51" rx="1.36" ry="1.62" fill="#9bd93c"/><ellipse cx="126.41" cy="123.82" rx="1.36" ry="1.62" fill="#9bd93c"/><ellipse cx="126.41" cy="121.14" rx="1.36" ry="1.62" fill="#9dd93b"/><ellipse cx="126.41" cy="118.45" rx="1.36" ry="1.62" fill="#9dd93b"/><ellipse cx="126.41" cy="115.76" rx="1.36" ry="1.62" fill="#9dd93b"/><ellipse cx="126.41" cy="113.08" rx="1.36" ry="1.62" fill="#9bd93c"/><ellipse cx="126.41" cy="110.39" rx="1.36" ry="1.62" fill="#9bd93c"/><ellipse cx="126.41" cy="107.71" rx="1.36" ry="1.62" fill="#9bd93c"/><ellipse cx="126.41" cy="105.02" rx="1.36" ry="1.62" fill="#98d83e"/><ellipse cx="126.41" cy="102.33" rx="1.36" ry="1.62" fill="#98d83e"/><ellipse cx="126.41" cy="99.65" rx="1.36" ry="1.62" fill="#95d840"/><ellipse cx="126.41" cy="96.96" rx="1.36" ry="1.62" fill="#95d840"/><ellipse cx="126.41" cy="94.28" rx="1.36" ry="1.62" fill="#95d840"/><ellipse cx="126.41" cy="91.59" rx="1.36" ry="1.62" fill="#93d741"/><ellipse cx="126.41" cy="88.90" rx="1.36" ry="1.62" fill="#93d741"/><ellipse cx="126.41" cy="86.22" rx="1.36" ry="1.62" fill="#90d743"/><ellipse cx="126.41" cy="83.53" rx="1.36" ry="1.62" fill="#90d743"/><ellipse cx="126.41" cy="80.85" rx="1.36" ry="1.62" fill="#8ed645"/><ellipse cx="126.41" cy="78.16" rx="1.36" ry="1.62" fill="#8ed645"/><ellipse cx="126.41" cy="75.47" rx="1.36" ry="1.62" fill="#8bd646"/><ellipse cx="126.41" cy="72.79" rx="1.36" ry="1.62" fill="#8bd646"/><ellipse cx="126.41" cy="70.10" rx="1.36" ry="1.62" fill="#89d548"/><ellipse cx="126.41" cy="67.42" rx="1.36" ry="1.62" fill="#89d548"/><ellipse cx="126.41" cy="64.73" rx="1.36" ry="1.62" fill="#fefefa"/><ellipse cx="126.41" cy="62.04" rx="1.36" ry="1.62" fill="#fefefa"/><ellipse cx="126.41" cy="59.36" rx="1.36" ry="1.62" fill="#84d44b"/><ellipse cx="126.41" cy="56.67" rx="1.36" ry="1.62" fill="#fefefa"/><ellipse cx="126.41" cy="53.99" rx="1.36" ry="1.62" fill="#fefefa"/><ellipse cx="126.41" cy="51.30" rx="1.36" ry="1.62" fill="#fefefa"/><ellipse cx="129.72" cy="185.60" rx="1.36" ry="1.62" fill="#440154"/><ellipse cx="129.72" cy="182.91" rx="1.36" ry="1.62" fill="#453781"/><ellipse cx="129.72" cy="180.23" rx="1.36" ry="1.62" fill="#375b8d"/><ellipse cx="129.72" cy="177.54" rx="1.36" ry="1.62" fill="#2b758e"/><ellipse cx="129.72" cy="174.86" rx="1.36" ry="1.62" fill="#238a8d"/><ellipse cx="129.72" cy="172.17" rx="1.36" ry="1.62" fill="#1e9b8a"/><ellipse cx="129.72" cy="169.48" rx="1.36" ry="1.62" fill="#23a983"/><ellipse cx="129.72" cy="166.80" rx="1.36" ry="1.62" fill="#2fb47c"/><ellipse cx="129.72" cy="164.11" rx="1.36" ry="1.62" fill="#3fbc73"/><ellipse cx="129.72" cy="161.43" rx="1.36" ry="1.62" fill="#4ec36b"/><ellipse cx="129.72" cy="158.74" rx="1.36" ry="1.62" fill="#5cc863"/><ellipse cx="129.72" cy="156.05" rx="1.36" ry="1.62" fill="#67cc5c"/><ellipse cx="129.72" cy="153.37" rx="1.36" ry="1.62" fill="#73d056"/><ellipse cx="129.72" cy="150.68" rx="1.36" ry="1.62" fill="#7ad151"/><ellipse cx="129.72" cy="148.00" rx="1.36" ry="1.62" fill="#81d34d"/><ellipse cx="129.72" cy="145.31" rx="1.36" ry="1.62" fill="#89d548"/><ellipse cx="129.72" cy="142.62" rx="1.36" ry="1.62" fill="#8bd646"/><ellipse cx="129.72" cy="139.94" rx="1.36" ry="1.62" fill="#90d743"/><ellipse cx="129.72" cy="137.25" rx="1.36" ry="1.62" fill="#93d741"/><ellipse cx="129.72" cy="134.57" rx="1.36" ry="1.62" fill="#98d83e"/><ellipse cx="129.72" cy="131.88" rx="1.36" ry="1.62" fill="#98d83e"/><ellipse cx="129.72" cy="129.19" rx="1.36" ry="1.62" fill="#9bd93c"/><ellipse cx="129.72" cy="126.51" rx="1.36" ry="1.62" fill="#9dd93b"/><ellipse cx="129.72" cy="123.82" rx="1.36" ry="1.62" fill="#9dd93b"/><ellipse cx="129.72" cy="121.14" rx="1.36" ry="1.62" fill="#a0da39"/><ellipse cx="129.72" cy="118.45" rx="1.36" ry="1.62" fill="#a0da39"/><ellipse cx="129.72" cy="115.76" rx="1.36" ry="1.62" fill="#a0da39"/><ellipse cx="129.72" cy="113.08" rx="1.36" ry="1.62" fill="#9dd93b"/><ellipse cx="129.72" cy="110.39" rx="1.36" ry="1.62" fill="#9dd93b"/><ellipse cx="129.72" cy="107.71" rx="1.36" ry="1.62" fill="#9dd93b"/><ellipse cx="129.72" cy="105.02" rx="1.36" ry="1.62" fill="#9bd93c"/><ellipse cx="129.72" cy="102.33" rx="1.36" ry="1.62" fill="#9bd93c"/><ellipse cx="129.72" cy="99.65" rx="1.36" ry="1.62" fill="#98d83e"/><ellipse cx="129.72" cy="96.96" rx="1.36" ry="1.62" fill="#98d83e"/><ellipse cx="129.72" cy="94.28" rx="1.36" ry="1.62" fill="#98d83e"/><ellipse cx="129.72" cy="91.59" rx="1.36" ry="1.62" fill="#95d840"/><ellipse cx="129.72" cy="88.90" rx="1.36" ry="1.62" fill="#95d840"/><ellipse cx="129.72" cy="86.22" rx="1.36" ry="1.62" fill="#93d741"/><ellipse cx="129.72" cy="83.53" rx="1.36" ry="1.62" fill="#93d741"/><ellipse cx="129.72" cy="80.85" rx="1.36" ry="1.62" fill="#90d743"/><ellipse cx="129.72" cy="78.16" rx="1.36" ry="1.62" fill="#90d743"/><ellipse cx="129.72" cy="75.47" rx="1.36" ry="1.62" fill="#8ed645"/><ellipse cx="129.72" cy="72.79" rx="1.36" ry="1.62" fill="#8ed645"/><ellipse cx="129.72" cy="70.10" rx="1.36" ry="1.62" fill="#8bd646"/><ellipse cx="129.72" cy="67.42" rx="1.36" ry="1.62" fill="#fefefa"/><ellipse cx="129.72" cy="64.73" rx="1.36" ry="1.62" fill="#fefefa"/><ellipse cx="129.72" cy="62.04" rx="1.36" ry="1.62" fill="#fefefa"/><ellipse cx="129.72" cy="59.36" rx="1.36" ry="1.62" fill="#fefefa"/><ellipse cx="129.72" cy="56.67" rx="1.36" ry="1.62" fill="#86d549"/><ellipse cx="129.72" cy="53.99" rx="1.36" ry="1.62" fill="#84d44b"/><ellipse cx="129.72" cy="51.30" rx="1.36" ry="1.62" fill="#fefefa"/><ellipse cx="133.02" cy="185.60" rx="1.36" ry="1.62" fill="#440154"/><ellipse cx="133.02" cy="182.91" rx="1.36" ry="1.62" fill="#453781"/><ellipse cx="133.02" cy="180.23" rx="1.36" ry="1.62" fill="#365c8d"/><ellipse cx="133.02" cy="177.54" rx="1.36" ry="1.62" fill="#2b758e"/><ellipse cx="133.02" cy="174.86" rx="1.36" ry="1.62" fill="#228b8d"/><ellipse cx="133.02" cy="172.17" rx="1.36" ry="1.62" fill="#1e9c89"/><ellipse cx="133.02" cy="169.48" rx="1.36" ry="1.62" fill="#23a983"/><ellipse cx="133.02" cy="166.80" rx="1.36" ry="1.62" fill="#31b57b"/><ellipse cx="133.02" cy="164.11" rx="1.36" ry="1.62" fill="#3fbc73"/><ellipse cx="133.02" cy="161.43" rx="1.36" ry="1.62" fill="#50c46a"/><ellipse cx="133.02" cy="158.74" rx="1.36" ry="1.62" fill="#5cc863"/><ellipse cx="133.02" cy="156.05" rx="1.36" ry="1.62" fill="#69cd5b"/><ellipse cx="133.02" cy="153.37" rx="1.36" ry="1.62" fill="#73d056"/><ellipse cx="133.02" cy="150.68" rx="1.36" ry="1.62" fill="#7cd250"/><ellipse cx="133.02" cy="148.00" rx="1.36" ry="1.62" fill="#84d44b"/><ellipse cx="133.02" cy="145.31" rx="1.36" ry="1.62" fill="#89d548"/><ellipse cx="133.02" cy="142.62" rx="1.36" ry="1.62" fill="#8ed645"/><ellipse cx="133.02" cy="139.94" rx="1.36" ry="1.62" fill="#93d741"/><ellipse cx="133.02" cy="137.25" rx="1.36" ry="1.62" fill="#95d840"/><ellipse cx="133.02" cy="134.57" rx="1.36" ry="1.62" fill="#98d83e"/><ellipse cx="133.02" cy="131.88" rx="1.36" ry="1.62" fill="#9bd93c"/><ellipse cx="133.02" cy="129.19" rx="1.36" ry="1.62" fill="#9dd93b"/><ellipse cx="133.02" cy="126.51" rx="1.36" ry="1.62" fill="#a0da39"/><ellipse cx="133.02" cy="123.82" rx="1.36" ry="1.62" fill="#a0da39"/><ellipse cx="133.02" cy="121.14" rx="1.36" ry="1.62" fill="#a2da37"/><ellipse cx="133.02" cy="118.45" rx="1.36" ry="1.62" fill="#a2da37"/><ellipse cx="133.02" cy="115.76" rx="1.36" ry="1.62" fill="#a2da37"/><ellipse cx="133.02" cy="113.08" rx="1.36" ry="1.62" fill="#a0da39"/><ellipse cx="133.02" cy="110.39" rx="1.36" ry="1.62" fill="#a0da39"/><ellipse cx="133.02" cy="107.71" rx="1.36" ry="1.62" fill="#a0da39"/><ellipse cx="133.02" cy="105.02" rx="1.36" ry="1.62" fill="#9dd93b"/><ellipse cx="133.02" cy="102.33" rx="1.36" ry="1.62" fill="#9dd93b"/><ellipse cx="133.02" cy="99.65" rx="1.36" ry="1.62" fill="#9bd93c"/><ellipse cx="133.02" cy="96.96" rx="1.36" ry="1.62" fill="#9bd93c"/><ellipse cx="133.02" cy="94.28" rx="1.36" ry="1.62" fill="#9bd93c"/><ellipse cx="133.02" cy="91.59" rx="1.36" ry="1.62" fill="#98d83e"/><ellipse cx="133.02" cy="88.90" rx="1.36" ry="1.62" fill="#98d83e"/><ellipse cx="133.02" cy="86.22" rx="1.36" ry="1.62" fill="#95d840"/><ellipse cx="133.02" cy="83.53" rx="1.36" ry="1.62" fill="#95d840"/><ellipse cx="133.02" cy="80.85" rx="1.36" ry="1.62" fill="#93d741"/><ellipse cx="133.02" cy="78.16" rx="1.36" ry="1.62" fill="#93d741"/><ellipse cx="133.02" cy="75.47" rx="1.36" ry="1.62" fill="#90d743"/><ellipse cx="133.02" cy="72.79" rx="1.36" ry="1.62" fill="#90d743"/><ellipse cx="133.02" cy="70.10" rx="1.36" ry="1.62" fill="#8ed645"/><ellipse cx="133.02" cy="67.42" rx="1.36" ry="1.62" fill="#8ed645"/><ellipse cx="133.02" cy="64.73" rx="1.36" ry="1.62" fill="#8bd646"/><ellipse cx="133.02" cy="62.04" rx="1.36" ry="1.62" fill="#8bd646"/><ellipse cx="133.02" cy="59.36" rx="1.36" ry="1.62" fill="#89d548"/><ellipse cx="133.02" cy="56.67" rx="1.36" ry="1.62" fill="#89d548"/><ellipse cx="133.02" cy="53.99" rx="1.36" ry="1.62" fill="#86d549"/><ellipse cx="133.02" cy="51.30" rx="1.36" ry="1.62" fill="#fefefa"/><ellipse cx="136.33" cy="185.60" rx="1.36" ry="1.62" fill="#440154"/><ellipse cx="136.33" cy="182.91" rx="1.36" ry="1.62" fill="#453781"/><ellipse cx="136.33" cy="180.23" rx="1.36" ry="1.62" fill="#365c8d"/><ellipse cx="136.33" cy="177.54" rx="1.36" ry="1.62" fill="#2a768e"/><ellipse cx="136.33" cy="174.86" rx="1.36" ry="1.62" fill="#228b8d"/><ellipse cx="136.33" cy="172.17" rx="1.36" ry="1.62" fill="#1e9c89"/><ellipse cx="136.33" cy="169.48" rx="1.36" ry="1.62" fill="#24aa83"/><ellipse cx="136.33" cy="166.80" rx="1.36" ry="1.62" fill="#31b57b"/><ellipse cx="136.33" cy="164.11" rx="1.36" ry="1.62" fill="#40bd72"/><ellipse cx="136.33" cy="161.43" rx="1.36" ry="1.62" fill="#50c46a"/><ellipse cx="136.33" cy="158.74" rx="1.36" ry="1.62" fill="#5ec962"/><ellipse cx="136.33" cy="156.05" rx="1.36" ry="1.62" fill="#69cd5b"/><ellipse cx="136.33" cy="153.37" rx="1.36" ry="1.62" fill="#75d054"/><ellipse cx="136.33" cy="150.68" rx="1.36" ry="1.62" fill="#7fd34e"/><ellipse cx="136.33" cy="148.00" rx="1.36" ry="1.62" fill="#86d549"/><ellipse cx="136.33" cy="145.31" rx="1.36" ry="1.62" fill="#8bd646"/><ellipse cx="136.33" cy="142.62" rx="1.36" ry="1.62" fill="#90d743"/><ellipse cx="136.33" cy="139.94" rx="1.36" ry="1.62" fill="#95d840"/><ellipse cx="136.33" cy="137.25" rx="1.36" ry="1.62" fill="#98d83e"/><ellipse cx="136.33" cy="134.57" rx="1.36" ry="1.62" fill="#9bd93c"/><ellipse cx="136.33" cy="131.88" rx="1.36" ry="1.62" fill="#9dd93b"/><ellipse cx="136.33" cy="129.19" rx="1.36" ry="1.62" fill="#a0da39"/><ellipse cx="136.33" cy="126.51" rx="1.36" ry="1.62" fill="#a2da37"/><ellipse cx="136.33" cy="123.82" rx="1.36" ry="1.62" fill="#a2da37"/><ellipse cx="136.33" cy="121.14" rx="1.36" ry="1.62" fill="#a5db36"/><ellipse cx="136.33" cy="118.45" rx="1.36" ry="1.62" fill="#a5db36"/><ellipse cx="136.33" cy="115.76" rx="1.36" ry="1.62" fill="#a5db36"/><ellipse cx="136.33" cy="113.08" rx="1.36" ry="1.62" fill="#a2da37"/><ellipse cx="136.33" cy="110.39" rx="1.36" ry="1.62" fill="#a2da37"/><ellipse cx="136.33" cy="107.71" rx="1.36" ry="1.62" fill="#a2da37"/><ellipse cx="136.33" cy="105.02" rx="1.36" ry="1.62" fill="#a0da39"/><ellipse cx="136.33" cy="102.33" rx="1.36" ry="1.62" fill="#a0da39"/><ellipse cx="136.33" cy="99.65" rx="1.36" ry="1.62" fill="#a0da39"/><ellipse cx="136.33" cy="96.96" rx="1.36" ry="1.62" fill="#9dd93b"/><ellipse cx="136.33" cy="94.28" rx="1.36" ry="1.62" fill="#9dd93b"/><ellipse cx="136.33" cy="91.59" rx="1.36" ry="1.62" fill="#9bd93c"/><ellipse cx="136.33" cy="88.90" rx="1.36" ry="1.62" fill="#9bd93c"/><ellipse cx="136.33" cy="86.22" rx="1.36" ry="1.62" fill="#98d83e"/><ellipse cx="136.33" cy="83.53" rx="1.36" ry="1.62" fill="#98d83e"/><ellipse cx="136.33" cy="80.85" rx="1.36" ry="1.62" fill="#95d840"/><ellipse cx="136.33" cy="78.16" rx="1.36" ry="1.62" fill="#95d840"/><ellipse cx="136.33" cy="75.47" rx="1.36" ry="1.62" fill="#93d741"/><ellipse cx="136.33" cy="72.79" rx="1.36" ry="1.62" fill="#93d741"/><ellipse cx="136.33" cy="70.10" rx="1.36" ry="1.62" fill="#90d743"/><ellipse cx="136.33" cy="67.42" rx="1.36" ry="1.62" fill="#90d743"/><ellipse cx="136.33" cy="64.73" rx="1.36" ry="1.62" fill="#fefefa"/><ellipse cx="136.33" cy="62.04" rx="1.36" ry="1.62" fill="#fefefa"/><ellipse cx="136.33" cy="59.36" rx="1.36" ry="1.62" fill="#8bd646"/><ellipse cx="136.33" cy="56.67" rx="1.36" ry="1.62" fill="#8bd646"/><ellipse cx="136.33" cy="53.99" rx="1.36" ry="1.62" fill="#fefefa"/><ellipse cx="136.33" cy="51.30" rx="1.36" ry="1.62" fill="#fefefa"/><ellipse cx="139.64" cy="185.60" rx="1.36" ry="1.62" fill="#440154"/><ellipse cx="139.64" cy="182.91" rx="1.36" ry="1.62" fill="#453781"/><ellipse cx="139.64" cy="180.23" rx="1.36" ry="1.62" fill="#365c8d"/><ellipse cx="139.64" cy="177.54" rx="1.36" ry="1.62" fill="#2a768e"/><ellipse cx="139.64" cy="174.86" rx="1.36" ry="1.62" fill="#228b8d"/><ellipse cx="139.64" cy="172.17" rx="1.36" ry="1.62" fill="#1e9c89"/><ellipse cx="139.64" cy="169.48" rx="1.36" ry="1.62" fill="#24aa83"/><ellipse cx="139.64" cy="166.80" rx="1.36" ry="1.62" fill="#31b57b"/><ellipse cx="139.64" cy="164.11" rx="1.36" ry="1.62" fill="#40bd72"/><ellipse cx="139.64" cy="161.43" rx="1.36" ry="1.62" fill="#52c569"/><ellipse cx="139.64" cy="158.74" rx="1.36" ry="1.62" fill="#5ec962"/><ellipse cx="139.64" cy="156.05" rx="1.36" ry="1.62" fill="#6ccd5a"/><ellipse cx="139.64" cy="153.37" rx="1.36" ry="1.62" fill="#77d153"/><ellipse cx="139.64" cy="150.68" rx="1.36" ry="1.62" fill="#7fd34e"/><ellipse cx="139.64" cy="148.00" rx="1.36" ry="1.62" fill="#86d549"/><ellipse cx="139.64" cy="145.31" rx="1.36" ry="1.62" fill="#8ed645"/><ellipse cx="139.64" cy="142.62" rx="1.36" ry="1.62" fill="#93d741"/><ellipse cx="139.64" cy="139.94" rx="1.36" ry="1.62" fill="#98d83e"/><ellipse cx="139.64" cy="137.25" rx="1.36" ry="1.62" fill="#9bd93c"/><ellipse cx="139.64" cy="134.57" rx="1.36" ry="1.62" fill="#9dd93b"/><ellipse cx="139.64" cy="131.88" rx="1.36" ry="1.62" fill="#a0da39"/><ellipse cx="139.64" cy="129.19" rx="1.36" ry="1.62" fill="#a2da37"/><ellipse cx="139.64" cy="126.51" rx="1.36" ry="1.62" fill="#a5db36"/><ellipse cx="139.64" cy="123.82" rx="1.36" ry="1.62" fill="#a5db36"/><ellipse cx="139.64" cy="121.14" rx="1.36" ry="1.62" fill="#a8db34"/><ellipse cx="139.64" cy="118.45" rx="1.36" ry="1.62" fill="#a8db34"/><ellipse cx="139.64" cy="115.76" rx="1.36" ry="1.62" fill="#a8db34"/><ellipse cx="139.64" cy="113.08" rx="1.36" ry="1.62" fill="#a5db36"/><ellipse cx="139.64" cy="110.39" rx="1.36" ry="1.62" fill="#a5db36"/><ellipse cx="139.64" cy="107.71" rx="1.36" ry="1.62" fill="#a5db36"/><ellipse cx="139.64" cy="105.02" rx="1.36" ry="1.62" fill="#a2da37"/><ellipse cx="139.64" cy="102.33" rx="1.36" ry="1.62" fill="#a2da37"/><ellipse cx="139.64" cy="99.65" rx="1.36" ry="1.62" fill="#a2da37"/><ellipse cx="139.64" cy="96.96" rx="1.36" ry="1.62" fill="#a0da39"/><ellipse cx="139.64" cy="94.28" rx="1.36" ry="1.62" fill="#a0da39"/><ellipse cx="139.64" cy="91.59" rx="1.36" ry="1.62" fill="#9dd93b"/><ellipse cx="139.64" cy="88.90" rx="1.36" ry="1.62" fill="#9dd93b"/><ellipse cx="139.64" cy="86.22" rx="1.36" ry="1.62" fill="#9bd93c"/><ellipse cx="139.64" cy="83.53" rx="1.36" ry="1.62" fill="#9bd93c"/><ellipse cx="139.64" cy="80.85" rx="1.36" ry="1.62" fill="#98d83e"/><ellipse cx="139.64" cy="78.16" rx="1.36" ry="1.62" fill="#98d83e"/><ellipse cx="139.64" cy="75.47" rx="1.36" ry="1.62" fill="#95d840"/><ellipse cx="139.64" cy="72.79" rx="1.36" ry="1.62" fill="#95d840"/><ellipse cx="139.64" cy="70.10" rx="1.36" ry="1.62" fill="#93d741"/><ellipse cx="139.64" cy="67.42" rx="1.36" ry="1.62" fill="#93d741"/><ellipse cx="139.64" cy="64.73" rx="1.36" ry="1.62" fill="#90d743"/><ellipse cx="139.64" cy="62.04" rx="1.36" ry="1.62" fill="#90d743"/><ellipse cx="139.64" cy="59.36" rx="1.36" ry="1.62" fill="#8ed645"/><ellipse cx="139.64" cy="56.67" rx="1.36" ry="1.62" fill="#8ed645"/><ellipse cx="139.64" cy="53.99" rx="1.36" ry="1.62" fill="#8bd646"/><ellipse cx="139.64" cy="51.30" rx="1.36" ry="1.62" fill="#fefefa"/><ellipse cx="142.95" cy="185.60" rx="1.36" ry="1.62" fill="#440154"/><ellipse cx="142.95" cy="182.91" rx="1.36" ry="1.62" fill="#453781"/><ellipse cx="142.95" cy="180.23" rx="1.36" ry="1.62" fill="#365c8d"/><ellipse cx="142.95" cy="177.54" rx="1.36" ry="1.62" fill="#2a768e"/><ellipse cx="142.95" cy="174.86" rx="1.36" ry="1.62" fill="#228b8d"/><ellipse cx="142.95" cy="172.17" rx="1.36" ry="1.62" fill="#1e9d89"/><ellipse cx="142.95" cy="169.48" rx="1.36" ry="1.62" fill="#25ab82"/><ellipse cx="142.95" cy="166.80" rx="1.36" ry="1.62" fill="#32b67a"/><ellipse cx="142.95" cy="164.11" rx="1.36" ry="1.62" fill="#42be71"/><ellipse cx="142.95" cy="161.43" rx="1.36" ry="1.62" fill="#54c568"/><ellipse cx="142.95" cy="158.74" rx="1.36" ry="1.62" fill="#60ca60"/><ellipse cx="142.95" cy="156.05" rx="1.36" ry="1.62" fill="#6ece58"/><ellipse cx="142.95" cy="153.37" rx="1.36" ry="1.62" fill="#7ad151"/><ellipse cx="142.95" cy="150.68" rx="1.36" ry="1.62" fill="#81d34d"/><ellipse cx="142.95" cy="148.00" rx="1.36" ry="1.62" fill="#8bd646"/><ellipse cx="142.95" cy="145.31" rx="1.36" ry="1.62" fill="#90d743"/><ellipse cx="142.95" cy="142.62" rx="1.36" ry="1.62" fill="#95d840"/><ellipse cx="142.95" cy="139.94" rx="1.36" ry="1.62" fill="#9bd93c"/><ellipse cx="142.95" cy="137.25" rx="1.36" ry="1.62" fill="#9dd93b"/><ellipse cx="142.95" cy="134.57" rx="1.36" ry="1.62" fill="#a2da37"/><ellipse cx="142.95" cy="131.88" rx="1.36" ry="1.62" fill="#a5db36"/><ellipse cx="142.95" cy="129.19" rx="1.36" ry="1.62" fill="#a5db36"/><ellipse cx="142.95" cy="126.51" rx="1.36" ry="1.62" fill="#a8db34"/><ellipse cx="142.95" cy="123.82" rx="1.36" ry="1.62" fill="#aadc32"/><ellipse cx="142.95" cy="121.14" rx="1.36" ry="1.62" fill="#aadc32"/><ellipse cx="142.95" cy="118.45" rx="1.36" ry="1.62" fill="#aadc32"/><ellipse cx="142.95" cy="115.76" rx="1.36" ry="1.62" fill="#aadc32"/><ellipse cx="142.95" cy="113.08" rx="1.36" ry="1.62" fill="#aadc32"/><ellipse cx="142.95" cy="110.39" rx="1.36" ry="1.62" fill="#aadc32"/><ellipse cx="142.95" cy="107.71" rx="1.36" ry="1.62" fill="#a8db34"/><ellipse cx="142.95" cy="105.02" rx="1.36" ry="1.62" fill="#a8db34"/><ellipse cx="142.95" cy="102.33" rx="1.36" ry="1.62" fill="#a8db34"/><ellipse cx="142.95" cy="99.65" rx="1.36" ry="1.62" fill="#a5db36"/><ellipse cx="142.95" cy="96.96" rx="1.36" ry="1.62" fill="#a5db36"/><ellipse cx="142.95" cy="94.28" rx="1.36" ry="1.62" fill="#a5db36"/><ellipse cx="142.95" cy="91.59" rx="1.36" ry="1.62" fill="#a2da37"/><ellipse cx="142.95" cy="88.90" rx="1.36" ry="1.62" fill="#a2da37"/><ellipse cx="142.95" cy="86.22" rx="1.36" ry="1.62" fill="#a0da39"/><ellipse cx="142.95" cy="83.53" rx="1.36" ry="1.62" fill="#a0da39"/><ellipse cx="142.95" cy="80.85" rx="1.36" ry="1.62" fill="#9dd93b"/><ellipse cx="142.95" cy="78.16" rx="1.36" ry="1.62" fill="#9dd93b"/><ellipse cx="142.95" cy="75.47" rx="1.36" ry="1.62" fill="#9dd93b"/><ellipse cx="142.95" cy="72.79" rx="1.36" ry="1.62" fill="#9bd93c"/><ellipse cx="142.95" cy="70.10" rx="1.36" ry="1.62" fill="#9bd93c"/><ellipse cx="142.95" cy="67.42" rx="1.36" ry="1.62" fill="#98d83e"/><ellipse cx="142.95" cy="64.73" rx="1.36" ry="1.62" fill="#98d83e"/><ellipse cx="142.95" cy="62.04" rx="1.36" ry="1.62" fill="#95d840"/><ellipse cx="142.95" cy="59.36" rx="1.36" ry="1.62" fill="#fefefa"/><ellipse cx="142.95" cy="56.67" rx="1.36" ry="1.62" fill="#93d741"/><ellipse cx="142.95" cy="53.99" rx="1.36" ry="1.62" fill="#93d741"/><ellipse cx="142.95" cy="51.30" rx="1.36" ry="1.62" fill="#fefefa"/><ellipse cx="146.26" cy="185.60" rx="1.36" ry="1.62" fill="#440154"/><ellipse cx="146.26" cy="182.91" rx="1.36" ry="1.62" fill="#453781"/><ellipse cx="146.26" cy="180.23" rx="1.36" ry="1.62" fill="#365c8d"/><ellipse cx="146.26" cy="177.54" rx="1.36" ry="1.62" fill="#2a768e"/><ellipse cx="146.26" cy="174.86" rx="1.36" ry="1.62" fill="#228c8d"/><ellipse cx="146.26" cy="172.17" rx="1.36" ry="1.62" fill="#1e9d89"/><ellipse cx="146.26" cy="169.48" rx="1.36" ry="1.62" fill="#25ab82"/><ellipse cx="146.26" cy="166.80" rx="1.36" ry="1.62" fill="#34b679"/><ellipse cx="146.26" cy="164.11" rx="1.36" ry="1.62" fill="#44bf70"/><ellipse cx="146.26" cy="161.43" rx="1.36" ry="1.62" fill="#54c568"/><ellipse cx="146.26" cy="158.74" rx="1.36" ry="1.62" fill="#63cb5f"/><ellipse cx="146.26" cy="156.05" rx="1.36" ry="1.62" fill="#70cf57"/><ellipse cx="146.26" cy="153.37" rx="1.36" ry="1.62" fill="#7cd250"/><ellipse cx="146.26" cy="150.68" rx="1.36" ry="1.62" fill="#86d549"/><ellipse cx="146.26" cy="148.00" rx="1.36" ry="1.62" fill="#8ed645"/><ellipse cx="146.26" cy="145.31" rx="1.36" ry="1.62" fill="#93d741"/><ellipse cx="146.26" cy="142.62" rx="1.36" ry="1.62" fill="#9bd93c"/><ellipse cx="146.26" cy="139.94" rx="1.36" ry="1.62" fill="#9dd93b"/><ellipse cx="146.26" cy="137.25" rx="1.36" ry="1.62" fill="#a2da37"/><ellipse cx="146.26" cy="134.57" rx="1.36" ry="1.62" fill="#a5db36"/><ellipse cx="146.26" cy="131.88" rx="1.36" ry="1.62" fill="#a8db34"/><ellipse cx="146.26" cy="129.19" rx="1.36" ry="1.62" fill="#aadc32"/><ellipse cx="146.26" cy="126.51" rx="1.36" ry="1.62" fill="#aadc32"/><ellipse cx="146.26" cy="123.82" rx="1.36" ry="1.62" fill="#addc30"/><ellipse cx="146.26" cy="121.14" rx="1.36" ry="1.62" fill="#addc30"/><ellipse cx="146.26" cy="118.45" rx="1.36" ry="1.62" fill="#b0dd2f"/><ellipse cx="146.26" cy="115.76" rx="1.36" ry="1.62" fill="#b0dd2f"/><ellipse cx="146.26" cy="113.08" rx="1.36" ry="1.62" fill="#b0dd2f"/><ellipse cx="146.26" cy="110.39" rx="1.36" ry="1.62" fill="#addc30"/><ellipse cx="146.26" cy="107.71" rx="1.36" ry="1.62" fill="#addc30"/><ellipse cx="146.26" cy="105.02" rx="1.36" ry="1.62" fill="#addc30"/><ellipse cx="146.26" cy="102.33" rx="1.36" ry="1.62" fill="#addc30"/><ellipse cx="146.26" cy="99.65" rx="1.36" ry="1.62" fill="#aadc32"/><ellipse cx="146.26" cy="96.96" rx="1.36" ry="1.62" fill="#aadc32"/><ellipse cx="146.26" cy="94.28" rx="1.36" ry="1.62" fill="#aadc32"/><ellipse cx="146.26" cy="91.59" rx="1.36" ry="1.62" fill="#a8db34"/><ellipse cx="146.26" cy="88.90" rx="1.36" ry="1.62" fill="#a8db34"/><ellipse cx="146.26" cy="86.22" rx="1.36" ry="1.62" fill="#a5db36"/><ellipse cx="146.26" cy="83.53" rx="1.36" ry="1.62" fill="#a5db36"/><ellipse cx="146.26" cy="80.85" rx="1.36" ry="1.62" fill="#a5db36"/><ellipse cx="146.26" cy="78.16" rx="1.36" ry="1.62" fill="#a2da37"/><ellipse cx="146.26" cy="75.47" rx="1.36" ry="1.62" fill="#a2da37"/><ellipse cx="146.26" cy="72.79" rx="1.36" ry="1.62" fill="#a2da37"/><ellipse cx="146.26" cy="70.10" rx="1.36" ry="1.62" fill="#a0da39"/><ellipse cx="146.26" cy="67.42" rx="1.36" ry="1.62" fill="#a0da39"/><ellipse cx="146.26" cy="64.73" rx="1.36" ry="1.62" fill="#9dd93b"/><ellipse cx="146.26" cy="62.04" rx="1.36" ry="1.62" fill="#9dd93b"/><ellipse cx="146.26" cy="59.36" rx="1.36" ry="1.62" fill="#9dd93b"/><ellipse cx="146.26" cy="56.67" rx="1.36" ry="1.62" fill="#9bd93c"/><ellipse cx="146.26" cy="53.99" rx="1.36" ry="1.62" fill="#9bd93c"/><ellipse cx="146.26" cy="51.30" rx="1.36" ry="1.62" fill="#98d83e"/><ellipse cx="149.56" cy="185.60" rx="1.36" ry="1.62" fill="#440154"/><ellipse cx="149.56" cy="182.91" rx="1.36" ry="1.62" fill="#453781"/><ellipse cx="149.56" cy="180.23" rx="1.36" ry="1.62" fill="#365c8d"/><ellipse cx="149.56" cy="177.54" rx="1.36" ry="1.62" fill="#2a768e"/><ellipse cx="149.56" cy="174.86" rx="1.36" ry="1.62" fill="#228c8d"/><ellipse cx="149.56" cy="172.17" rx="1.36" ry="1.62" fill="#1f9e89"/><ellipse cx="149.56" cy="169.48" rx="1.36" ry="1.62" fill="#25ac82"/><ellipse cx="149.56" cy="166.80" rx="1.36" ry="1.62" fill="#34b679"/><ellipse cx="149.56" cy="164.11" rx="1.36" ry="1.62" fill="#46c06f"/><ellipse cx="149.56" cy="161.43" rx="1.36" ry="1.62" fill="#56c667"/><ellipse cx="149.56" cy="158.74" rx="1.36" ry="1.62" fill="#65cb5e"/><ellipse cx="149.56" cy="156.05" rx="1.36" ry="1.62" fill="#73d056"/><ellipse cx="149.56" cy="153.37" rx="1.36" ry="1.62" fill="#7fd34e"/><ellipse cx="149.56" cy="150.68" rx="1.36" ry="1.62" fill="#89d548"/><ellipse cx="149.56" cy="148.00" rx="1.36" ry="1.62" fill="#90d743"/><ellipse cx="149.56" cy="145.31" rx="1.36" ry="1.62" fill="#98d83e"/><ellipse cx="149.56" cy="142.62" rx="1.36" ry="1.62" fill="#9dd93b"/><ellipse cx="149.56" cy="139.94" rx="1.36" ry="1.62" fill="#a2da37"/><ellipse cx="149.56" cy="137.25" rx="1.36" ry="1.62" fill="#a5db36"/><ellipse cx="149.56" cy="134.57" rx="1.36" ry="1.62" fill="#a8db34"/><ellipse cx="149.56" cy="131.88" rx="1.36" ry="1.62" fill="#aadc32"/><ellipse cx="149.56" cy="129.19" rx="1.36" ry="1.62" fill="#addc30"/><ellipse cx="149.56" cy="126.51" rx="1.36" ry="1.62" fill="#b0dd2f"/><ellipse cx="149.56" cy="123.82" rx="1.36" ry="1.62" fill="#b0dd2f"/><ellipse cx="149.56" cy="121.14" rx="1.36" ry="1.62" fill="#b2dd2d"/><ellipse cx="149.56" cy="118.45" rx="1.36" ry="1.62" fill="#b2dd2d"/><ellipse cx="149.56" cy="115.76" rx="1.36" ry="1.62" fill="#b2dd2d"/><ellipse cx="149.56" cy="113.08" rx="1.36" ry="1.62" fill="#b2dd2d"/><ellipse cx="149.56" cy="110.39" rx="1.36" ry="1.62" fill="#b2dd2d"/><ellipse cx="149.56" cy="107.71" rx="1.36" ry="1.62" fill="#b2dd2d"/><ellipse cx="149.56" cy="105.02" rx="1.36" ry="1.62" fill="#b2dd2d"/><ellipse cx="149.56" cy="102.33" rx="1.36" ry="1.62" fill="#b0dd2f"/><ellipse cx="149.56" cy="99.65" rx="1.36" ry="1.62" fill="#b0dd2f"/><ellipse cx="149.56" cy="96.96" rx="1.36" ry="1.62" fill="#b0dd2f"/><ellipse cx="149.56" cy="94.28" rx="1.36" ry="1.62" fill="#b0dd2f"/><ellipse cx="149.56" cy="91.59" rx="1.36" ry="1.62" fill="#addc30"/><ellipse cx="149.56" cy="88.90" rx="1.36" ry="1.62" fill="#addc30"/><ellipse cx="149.56" cy="86.22" rx="1.36" ry="1.62" fill="#addc30"/><ellipse cx="149.56" cy="83.53" rx="1.36" ry="1.62" fill="#aadc32"/><ellipse cx="149.56" cy="80.85" rx="1.36" ry="1.62" fill="#aadc32"/><ellipse cx="149.56" cy="78.16" rx="1.36" ry="1.62" fill="#aadc32"/><ellipse cx="149.56" cy="75.47" rx="1.36" ry="1.62" fill="#a8db34"/><ellipse cx="149.56" cy="72.79" rx="1.36" ry="1.62" fill="#a8db34"/><ellipse cx="149.56" cy="70.10" rx="1.36" ry="1.62" fill="#a8db34"/><ellipse cx="149.56" cy="67.42" rx="1.36" ry="1.62" fill="#a5db36"/><ellipse cx="149.56" cy="64.73" rx="1.36" ry="1.62" fill="#a5db36"/><ellipse cx="149.56" cy="62.04" rx="1.36" ry="1.62" fill="#a5db36"/><ellipse cx="149.56" cy="59.36" rx="1.36" ry="1.62" fill="#a2da37"/><ellipse cx="149.56" cy="56.67" rx="1.36" ry="1.62" fill="#fefefa"/><ellipse cx="149.56" cy="53.99" rx="1.36" ry="1.62" fill="#a0da39"/><ellipse cx="149.56" cy="51.30" rx="1.36" ry="1.62" fill="#a0da39"/><ellipse cx="152.87" cy="185.60" rx="1.36" ry="1.62" fill="#440154"/><ellipse cx="152.87" cy="182.91" rx="1.36" ry="1.62" fill="#453781"/><ellipse cx="152.87" cy="180.23" rx="1.36" ry="1.62" fill="#365c8d"/><ellipse cx="152.87" cy="177.54" rx="1.36" ry="1.62" fill="#2a778e"/><ellipse cx="152.87" cy="174.86" rx="1.36" ry="1.62" fill="#228c8d"/><ellipse cx="152.87" cy="172.17" rx="1.36" ry="1.62" fill="#1f9e89"/><ellipse cx="152.87" cy="169.48" rx="1.36" ry="1.62" fill="#25ac82"/><ellipse cx="152.87" cy="166.80" rx="1.36" ry="1.62" fill="#35b779"/><ellipse cx="152.87" cy="164.11" rx="1.36" ry="1.62" fill="#48c16e"/><ellipse cx="152.87" cy="161.43" rx="1.36" ry="1.62" fill="#58c765"/><ellipse cx="152.87" cy="158.74" rx="1.36" ry="1.62" fill="#67cc5c"/><ellipse cx="152.87" cy="156.05" rx="1.36" ry="1.62" fill="#75d054"/><ellipse cx="152.87" cy="153.37" rx="1.36" ry="1.62" fill="#81d34d"/><ellipse cx="152.87" cy="150.68" rx="1.36" ry="1.62" fill="#8bd646"/><ellipse cx="152.87" cy="148.00" rx="1.36" ry="1.62" fill="#93d741"/><ellipse cx="152.87" cy="145.31" rx="1.36" ry="1.62" fill="#9bd93c"/><ellipse cx="152.87" cy="142.62" rx="1.36" ry="1.62" fill="#a0da39"/><ellipse cx="152.87" cy="139.94" rx="1.36" ry="1.62" fill="#a5db36"/><ellipse cx="152.87" cy="137.25" rx="1.36" ry="1.62" fill="#aadc32"/><ellipse cx="152.87" cy="134.57" rx="1.36" ry="1.62" fill="#addc30"/><ellipse cx="152.87" cy="131.88" rx="1.36" ry="1.62" fill="#b0dd2f"/><ellipse cx="152.87" cy="129.19" rx="1.36" ry="1.62" fill="#b2dd2d"/><ellipse cx="152.87" cy="126.51" rx="1.36" ry="1.62" fill="#b2dd2d"/><ellipse cx="152.87" cy="123.82" rx="1.36" ry="1.62" fill="#b5de2b"/><ellipse cx="152.87" cy="121.14" rx="1.36" ry="1.62" fill="#b5de2b"/><ellipse cx="152.87" cy="118.45" rx="1.36" ry="1.62" fill="#b8de29"/><ellipse cx="152.87" cy="115.76" rx="1.36" ry="1.62" fill="#b8de29"/><ellipse cx="152.87" cy="113.08" rx="1.36" ry="1.62" fill="#b8de29"/><ellipse cx="152.87" cy="110.39" rx="1.36" ry="1.62" fill="#b8de29"/><ellipse cx="152.87" cy="107.71" rx="1.36" ry="1.62" fill="#b8de29"/><ellipse cx="152.87" cy="105.02" rx="1.36" ry="1.62" fill="#b5de2b"/><ellipse cx="152.87" cy="102.33" rx="1.36" ry="1.62" fill="#b5de2b"/><ellipse cx="152.87" cy="99.65" rx="1.36" ry="1.62" fill="#b5de2b"/><ellipse cx="152.87" cy="96.96" rx="1.36" ry="1.62" fill="#b5de2b"/><ellipse cx="152.87" cy="94.28" rx="1.36" ry="1.62" fill="#b5de2b"/><ellipse cx="152.87" cy="91.59" rx="1.36" ry="1.62" fill="#b2dd2d"/><ellipse cx="152.87" cy="88.90" rx="1.36" ry="1.62" fill="#b2dd2d"/><ellipse cx="152.87" cy="86.22" rx="1.36" ry="1.62" fill="#b2dd2d"/><ellipse cx="152.87" cy="83.53" rx="1.36" ry="1.62" fill="#b2dd2d"/><ellipse cx="152.87" cy="80.85" rx="1.36" ry="1.62" fill="#b0dd2f"/><ellipse cx="152.87" cy="78.16" rx="1.36" ry="1.62" fill="#b0dd2f"/><ellipse cx="152.87" cy="75.47" rx="1.36" ry="1.62" fill="#b0dd2f"/><ellipse cx="152.87" cy="72.79" rx="1.36" ry="1.62" fill="#addc30"/><ellipse cx="152.87" cy="70.10" rx="1.36" ry="1.62" fill="#addc30"/><ellipse cx="152.87" cy="67.42" rx="1.36" ry="1.62" fill="#addc30"/><ellipse cx="152.87" cy="64.73" rx="1.36" ry="1.62" fill="#aadc32"/><ellipse cx="152.87" cy="62.04" rx="1.36" ry="1.62" fill="#aadc32"/><ellipse cx="152.87" cy="59.36" rx="1.36" ry="1.62" fill="#aadc32"/><ellipse cx="152.87" cy="56.67" rx="1.36" ry="1.62" fill="#aadc32"/><ellipse cx="152.87" cy="53.99" rx="1.36" ry="1.62" fill="#a8db34"/><ellipse cx="152.87" cy="51.30" rx="1.36" ry="1.62" fill="#a8db34"/><ellipse cx="156.18" cy="185.60" rx="1.36" ry="1.62" fill="#440154"/><ellipse cx="156.18" cy="182.91" rx="1.36" ry="1.62" fill="#453781"/><ellipse cx="156.18" cy="180.23" rx="1.36" ry="1.62" fill="#365c8d"/><ellipse cx="156.18" cy="177.54" rx="1.36" ry="1.62" fill="#2a778e"/><ellipse cx="156.18" cy="174.86" rx="1.36" ry="1.62" fill="#228d8d"/><ellipse cx="156.18" cy="172.17" rx="1.36" ry="1.62" fill="#1f9f88"/><ellipse cx="156.18" cy="169.48" rx="1.36" ry="1.62" fill="#26ad81"/><ellipse cx="156.18" cy="166.80" rx="1.36" ry="1.62" fill="#37b878"/><ellipse cx="156.18" cy="164.11" rx="1.36" ry="1.62" fill="#48c16e"/><ellipse cx="156.18" cy="161.43" rx="1.36" ry="1.62" fill="#5ac864"/><ellipse cx="156.18" cy="158.74" rx="1.36" ry="1.62" fill="#69cd5b"/><ellipse cx="156.18" cy="156.05" rx="1.36" ry="1.62" fill="#77d153"/><ellipse cx="156.18" cy="153.37" rx="1.36" ry="1.62" fill="#84d44b"/><ellipse cx="156.18" cy="150.68" rx="1.36" ry="1.62" fill="#8ed645"/><ellipse cx="156.18" cy="148.00" rx="1.36" ry="1.62" fill="#95d840"/><ellipse cx="156.18" cy="145.31" rx="1.36" ry="1.62" fill="#9dd93b"/><ellipse cx="156.18" cy="142.62" rx="1.36" ry="1.62" fill="#a2da37"/><ellipse cx="156.18" cy="139.94" rx="1.36" ry="1.62" fill="#a8db34"/><ellipse cx="156.18" cy="137.25" rx="1.36" ry="1.62" fill="#addc30"/><ellipse cx="156.18" cy="134.57" rx="1.36" ry="1.62" fill="#b0dd2f"/><ellipse cx="156.18" cy="131.88" rx="1.36" ry="1.62" fill="#b2dd2d"/><ellipse cx="156.18" cy="129.19" rx="1.36" ry="1.62" fill="#b5de2b"/><ellipse cx="156.18" cy="126.51" rx="1.36" ry="1.62" fill="#b8de29"/><ellipse cx="156.18" cy="123.82" rx="1.36" ry="1.62" fill="#b8de29"/><ellipse cx="156.18" cy="121.14" rx="1.36" ry="1.62" fill="#bade28"/><ellipse cx="156.18" cy="118.45" rx="1.36" ry="1.62" fill="#bade28"/><ellipse cx="156.18" cy="115.76" rx="1.36" ry="1.62" fill="#bade28"/><ellipse cx="156.18" cy="113.08" rx="1.36" ry="1.62" fill="#bade28"/><ellipse cx="156.18" cy="110.39" rx="1.36" ry="1.62" fill="#bade28"/><ellipse cx="156.18" cy="107.71" rx="1.36" ry="1.62" fill="#bade28"/><ellipse cx="156.18" cy="105.02" rx="1.36" ry="1.62" fill="#bade28"/><ellipse cx="156.18" cy="102.33" rx="1.36" ry="1.62" fill="#bade28"/><ellipse cx="156.18" cy="99.65" rx="1.36" ry="1.62" fill="#bade28"/><ellipse cx="156.18" cy="96.96" rx="1.36" ry="1.62" fill="#bade28"/><ellipse cx="156.18" cy="94.28" rx="1.36" ry="1.62" fill="#bade28"/><ellipse cx="156.18" cy="91.59" rx="1.36" ry="1.62" fill="#b8de29"/><ellipse cx="156.18" cy="88.90" rx="1.36" ry="1.62" fill="#b8de29"/><ellipse cx="156.18" cy="86.22" rx="1.36" ry="1.62" fill="#b8de29"/><ellipse cx="156.18" cy="83.53" rx="1.36" ry="1.62" fill="#b8de29"/><ellipse cx="156.18" cy="80.85" rx="1.36" ry="1.62" fill="#b5de2b"/><ellipse cx="156.18" cy="78.16" rx="1.36" ry="1.62" fill="#b5de2b"/><ellipse cx="156.18" cy="75.47" rx="1.36" ry="1.62" fill="#b5de2b"/><ellipse cx="156.18" cy="72.79" rx="1.36" ry="1.62" fill="#b5de2b"/><ellipse cx="156.18" cy="70.10" rx="1.36" ry="1.62" fill="#b5de2b"/><ellipse cx="156.18" cy="67.42" rx="1.36" ry="1.62" fill="#b2dd2d"/><ellipse cx="156.18" cy="64.73" rx="1.36" ry="1.62" fill="#b2dd2d"/><ellipse cx="156.18" cy="62.04" rx="1.36" ry="1.62" fill="#b2dd2d"/><ellipse cx="156.18" cy="59.36" rx="1.36" ry="1.62" fill="#b2dd2d"/><ellipse cx="156.18" cy="56.67" rx="1.36" ry="1.62" fill="#b0dd2f"/><ellipse cx="156.18" cy="53.99" rx="1.36" ry="1.62" fill="#b0dd2f"/><ellipse cx="156.18" cy="51.30" rx="1.36" ry="1.62" fill="#b0dd2f"/><ellipse cx="159.49" cy="185.60" rx="1.36" ry="1.62" fill="#440154"/><ellipse cx="159.49" cy="182.91" rx="1.36" ry="1.62" fill="#453781"/><ellipse cx="159.49" cy="180.23" rx="1.36" ry="1.62" fill="#365d8d"/><ellipse cx="159.49" cy="177.54" rx="1.36" ry="1.62" fill="#2a778e"/><ellipse cx="159.49" cy="174.86" rx="1.36" ry="1.62" fill="#228d8d"/><ellipse cx="159.49" cy="172.17" rx="1.36" ry="1.62" fill="#1f9f88"/><ellipse cx="159.49" cy="169.48" rx="1.36" ry="1.62" fill="#27ad81"/><ellipse cx="159.49" cy="166.80" rx="1.36" ry="1.62" fill="#37b878"/><ellipse cx="159.49" cy="164.11" rx="1.36" ry="1.62" fill="#4ac16d"/><ellipse cx="159.49" cy="161.43" rx="1.36" ry="1.62" fill="#5cc863"/><ellipse cx="159.49" cy="158.74" rx="1.36" ry="1.62" fill="#6ccd5a"/><ellipse cx="159.49" cy="156.05" rx="1.36" ry="1.62" fill="#7ad151"/><ellipse cx="159.49" cy="153.37" rx="1.36" ry="1.62" fill="#86d549"/><ellipse cx="159.49" cy="150.68" rx="1.36" ry="1.62" fill="#90d743"/><ellipse cx="159.49" cy="148.00" rx="1.36" ry="1.62" fill="#98d83e"/><ellipse cx="159.49" cy="145.31" rx="1.36" ry="1.62" fill="#a0da39"/><ellipse cx="159.49" cy="142.62" rx="1.36" ry="1.62" fill="#a8db34"/><ellipse cx="159.49" cy="139.94" rx="1.36" ry="1.62" fill="#aadc32"/><ellipse cx="159.49" cy="137.25" rx="1.36" ry="1.62" fill="#b0dd2f"/><ellipse cx="159.49" cy="134.57" rx="1.36" ry="1.62" fill="#b2dd2d"/><ellipse cx="159.49" cy="131.88" rx="1.36" ry="1.62" fill="#b5de2b"/><ellipse cx="159.49" cy="129.19" rx="1.36" ry="1.62" fill="#b8de29"/><ellipse cx="159.49" cy="126.51" rx="1.36" ry="1.62" fill="#bade28"/><ellipse cx="159.49" cy="123.82" rx="1.36" ry="1.62" fill="#bddf26"/><ellipse cx="159.49" cy="121.14" rx="1.36" ry="1.62" fill="#bddf26"/><ellipse cx="159.49" cy="118.45" rx="1.36" ry="1.62" fill="#c0df25"/><ellipse cx="159.49" cy="115.76" rx="1.36" ry="1.62" fill="#c0df25"/><ellipse cx="159.49" cy="113.08" rx="1.36" ry="1.62" fill="#c0df25"/><ellipse cx="159.49" cy="110.39" rx="1.36" ry="1.62" fill="#c0df25"/><ellipse cx="159.49" cy="107.71" rx="1.36" ry="1.62" fill="#c0df25"/><ellipse cx="159.49" cy="105.02" rx="1.36" ry="1.62" fill="#c0df25"/><ellipse cx="159.49" cy="102.33" rx="1.36" ry="1.62" fill="#c0df25"/><ellipse cx="159.49" cy="99.65" rx="1.36" ry="1.62" fill="#c0df25"/><ellipse cx="159.49" cy="96.96" rx="1.36" ry="1.62" fill="#bddf26"/><ellipse cx="159.49" cy="94.28" rx="1.36" ry="1.62" fill="#bddf26"/><ellipse cx="159.49" cy="91.59" rx="1.36" ry="1.62" fill="#bddf26"/><ellipse cx="159.49" cy="88.90" rx="1.36" ry="1.62" fill="#bddf26"/><ellipse cx="159.49" cy="86.22" rx="1.36" ry="1.62" fill="#bddf26"/><ellipse cx="159.49" cy="83.53" rx="1.36" ry="1.62" fill="#bddf26"/><ellipse cx="159.49" cy="80.85" rx="1.36" ry="1.62" fill="#bade28"/><ellipse cx="159.49" cy="78.16" rx="1.36" ry="1.62" fill="#bade28"/><ellipse cx="159.49" cy="75.47" rx="1.36" ry="1.62" fill="#bade28"/><ellipse cx="159.49" cy="72.79" rx="1.36" ry="1.62" fill="#bade28"/><ellipse cx="159.49" cy="70.10" rx="1.36" ry="1.62" fill="#bade28"/><ellipse cx="159.49" cy="67.42" rx="1.36" ry="1.62" fill="#bade28"/><ellipse cx="159.49" cy="64.73" rx="1.36" ry="1.62" fill="#b8de29"/><ellipse cx="159.49" cy="62.04" rx="1.36" ry="1.62" fill="#b8de29"/><ellipse cx="159.49" cy="59.36" rx="1.36" ry="1.62" fill="#b8de29"/><ellipse cx="159.49" cy="56.67" rx="1.36" ry="1.62" fill="#b8de29"/><ellipse cx="159.49" cy="53.99" rx="1.36" ry="1.62" fill="#b8de29"/><ellipse cx="159.49" cy="51.30" rx="1.36" ry="1.62" fill="#b5de2b"/><ellipse cx="162.80" cy="185.60" rx="1.36" ry="1.62" fill="#440154"/><ellipse cx="162.80" cy="182.91" rx="1.36" ry="1.62" fill="#453781"/><ellipse cx="162.80" cy="180.23" rx="1.36" ry="1.62" fill="#365d8d"/><ellipse cx="162.80" cy="177.54" rx="1.36" ry="1.62" fill="#2a778e"/><ellipse cx="162.80" cy="174.86" rx="1.36" ry="1.62" fill="#228d8d"/><ellipse cx="162.80" cy="172.17" rx="1.36" ry="1.62" fill="#1f9f88"/><ellipse cx="162.80" cy="169.48" rx="1.36" ry="1.62" fill="#27ad81"/><ellipse cx="162.80" cy="166.80" rx="1.36" ry="1.62" fill="#38b977"/><ellipse cx="162.80" cy="164.11" rx="1.36" ry="1.62" fill="#4cc26c"/><ellipse cx="162.80" cy="161.43" rx="1.36" ry="1.62" fill="#5ec962"/><ellipse cx="162.80" cy="158.74" rx="1.36" ry="1.62" fill="#6ece58"/><ellipse cx="162.80" cy="156.05" rx="1.36" ry="1.62" fill="#7cd250"/><ellipse cx="162.80" cy="153.37" rx="1.36" ry="1.62" fill="#89d548"/><ellipse cx="162.80" cy="150.68" rx="1.36" ry="1.62" fill="#93d741"/><ellipse cx="162.80" cy="148.00" rx="1.36" ry="1.62" fill="#9bd93c"/><ellipse cx="162.80" cy="145.31" rx="1.36" ry="1.62" fill="#a2da37"/><ellipse cx="162.80" cy="142.62" rx="1.36" ry="1.62" fill="#aadc32"/><ellipse cx="162.80" cy="139.94" rx="1.36" ry="1.62" fill="#b0dd2f"/><ellipse cx="162.80" cy="137.25" rx="1.36" ry="1.62" fill="#b2dd2d"/><ellipse cx="162.80" cy="134.57" rx="1.36" ry="1.62" fill="#b5de2b"/><ellipse cx="162.80" cy="131.88" rx="1.36" ry="1.62" fill="#bade28"/><ellipse cx="162.80" cy="129.19" rx="1.36" ry="1.62" fill="#bade28"/><ellipse cx="162.80" cy="126.51" rx="1.36" ry="1.62" fill="#bddf26"/><ellipse cx="162.80" cy="123.82" rx="1.36" ry="1.62" fill="#c0df25"/><ellipse cx="162.80" cy="121.14" rx="1.36" ry="1.62" fill="#c0df25"/><ellipse cx="162.80" cy="118.45" rx="1.36" ry="1.62" fill="#c2df23"/><ellipse cx="162.80" cy="115.76" rx="1.36" ry="1.62" fill="#c2df23"/><ellipse cx="162.80" cy="113.08" rx="1.36" ry="1.62" fill="#c2df23"/><ellipse cx="162.80" cy="110.39" rx="1.36" ry="1.62" fill="#c2df23"/><ellipse cx="162.80" cy="107.71" rx="1.36" ry="1.62" fill="#c2df23"/><ellipse cx="162.80" cy="105.02" rx="1.36" ry="1.62" fill="#c2df23"/><ellipse cx="162.80" cy="102.33" rx="1.36" ry="1.62" fill="#c2df23"/><ellipse cx="162.80" cy="99.65" rx="1.36" ry="1.62" fill="#c2df23"/><ellipse cx="162.80" cy="96.96" rx="1.36" ry="1.62" fill="#c2df23"/><ellipse cx="162.80" cy="94.28" rx="1.36" ry="1.62" fill="#c2df23"/><ellipse cx="162.80" cy="91.59" rx="1.36" ry="1.62" fill="#c2df23"/><ellipse cx="162.80" cy="88.90" rx="1.36" ry="1.62" fill="#c2df23"/><ellipse cx="162.80" cy="86.22" rx="1.36" ry="1.62" fill="#c2df23"/><ellipse cx="162.80" cy="83.53" rx="1.36" ry="1.62" fill="#c2df23"/><ellipse cx="162.80" cy="80.85" rx="1.36" ry="1.62" fill="#c0df25"/><ellipse cx="162.80" cy="78.16" rx="1.36" ry="1.62" fill="#c0df25"/><ellipse cx="162.80" cy="75.47" rx="1.36" ry="1.62" fill="#c0df25"/><ellipse cx="162.80" cy="72.79" rx="1.36" ry="1.62" fill="#c0df25"/><ellipse cx="162.80" cy="70.10" rx="1.36" ry="1.62" fill="#c0df25"/><ellipse cx="162.80" cy="67.42" rx="1.36" ry="1.62" fill="#c0df25"/><ellipse cx="162.80" cy="64.73" rx="1.36" ry="1.62" fill="#c0df25"/><ellipse cx="162.80" cy="62.04" rx="1.36" ry="1.62" fill="#bddf26"/><ellipse cx="162.80" cy="59.36" rx="1.36" ry="1.62" fill="#bddf26"/><ellipse cx="162.80" cy="56.67" rx="1.36" ry="1.62" fill="#bddf26"/><ellipse cx="162.80" cy="53.99" rx="1.36" ry="1.62" fill="#bddf26"/><ellipse cx="162.80" cy="51.30" rx="1.36" ry="1.62" fill="#bddf26"/><ellipse cx="166.10" cy="185.60" rx="1.36" ry="1.62" fill="#440154"/><ellipse cx="166.10" cy="182.91" rx="1.36" ry="1.62" fill="#453781"/><ellipse cx="166.10" cy="180.23" rx="1.36" ry="1.62" fill="#365d8d"/><ellipse cx="166.10" cy="177.54" rx="1.36" ry="1.62" fill="#2a788e"/><ellipse cx="166.10" cy="174.86" rx="1.36" ry="1.62" fill="#218e8d"/><ellipse cx="166.10" cy="172.17" rx="1.36" ry="1.62" fill="#1fa088"/><ellipse cx="166.10" cy="169.48" rx="1.36" ry="1.62" fill="#27ad81"/><ellipse cx="166.10" cy="166.80" rx="1.36" ry="1.62" fill="#38b977"/><ellipse cx="166.10" cy="164.11" rx="1.36" ry="1.62" fill="#4cc26c"/><ellipse cx="166.10" cy="161.43" rx="1.36" ry="1.62" fill="#5ec962"/><ellipse cx="166.10" cy="158.74" rx="1.36" ry="1.62" fill="#70cf57"/><ellipse cx="166.10" cy="156.05" rx="1.36" ry="1.62" fill="#7fd34e"/><ellipse cx="166.10" cy="153.37" rx="1.36" ry="1.62" fill="#8bd646"/><ellipse cx="166.10" cy="150.68" rx="1.36" ry="1.62" fill="#95d840"/><ellipse cx="166.10" cy="148.00" rx="1.36" ry="1.62" fill="#9dd93b"/><ellipse cx="166.10" cy="145.31" rx="1.36" ry="1.62" fill="#a5db36"/><ellipse cx="166.10" cy="142.62" rx="1.36" ry="1.62" fill="#addc30"/><ellipse cx="166.10" cy="139.94" rx="1.36" ry="1.62" fill="#b2dd2d"/><ellipse cx="166.10" cy="137.25" rx="1.36" ry="1.62" fill="#b5de2b"/><ellipse cx="166.10" cy="134.57" rx="1.36" ry="1.62" fill="#bade28"/><ellipse cx="166.10" cy="131.88" rx="1.36" ry="1.62" fill="#bddf26"/><ellipse cx="166.10" cy="129.19" rx="1.36" ry="1.62" fill="#c0df25"/><ellipse cx="166.10" cy="126.51" rx="1.36" ry="1.62" fill="#c0df25"/><ellipse cx="166.10" cy="123.82" rx="1.36" ry="1.62" fill="#c2df23"/><ellipse cx="166.10" cy="121.14" rx="1.36" ry="1.62" fill="#c5e021"/><ellipse cx="166.10" cy="118.45" rx="1.36" ry="1.62" fill="#c5e021"/><ellipse cx="166.10" cy="115.76" rx="1.36" ry="1.62" fill="#c5e021"/><ellipse cx="166.10" cy="113.08" rx="1.36" ry="1.62" fill="#c5e021"/><ellipse cx="166.10" cy="110.39" rx="1.36" ry="1.62" fill="#c8e020"/><ellipse cx="166.10" cy="107.71" rx="1.36" ry="1.62" fill="#c8e020"/><ellipse cx="166.10" cy="105.02" rx="1.36" ry="1.62" fill="#c8e020"/><ellipse cx="166.10" cy="102.33" rx="1.36" ry="1.62" fill="#c8e020"/><ellipse cx="166.10" cy="99.65" rx="1.36" ry="1.62" fill="#c8e020"/><ellipse cx="166.10" cy="96.96" rx="1.36" ry="1.62" fill="#c8e020"/><ellipse cx="166.10" cy="94.28" rx="1.36" ry="1.62" fill="#c8e020"/><ellipse cx="166.10" cy="91.59" rx="1.36" ry="1.62" fill="#c8e020"/><ellipse cx="166.10" cy="88.90" rx="1.36" ry="1.62" fill="#c8e020"/><ellipse cx="166.10" cy="86.22" rx="1.36" ry="1.62" fill="#c8e020"/><ellipse cx="166.10" cy="83.53" rx="1.36" ry="1.62" fill="#c8e020"/><ellipse cx="166.10" cy="80.85" rx="1.36" ry="1.62" fill="#c5e021"/><ellipse cx="166.10" cy="78.16" rx="1.36" ry="1.62" fill="#c5e021"/><ellipse cx="166.10" cy="75.47" rx="1.36" ry="1.62" fill="#c5e021"/><ellipse cx="166.10" cy="72.79" rx="1.36" ry="1.62" fill="#c5e021"/><ellipse cx="166.10" cy="70.10" rx="1.36" ry="1.62" fill="#c5e021"/><ellipse cx="166.10" cy="67.42" rx="1.36" ry="1.62" fill="#c5e021"/><ellipse cx="166.10" cy="64.73" rx="1.36" ry="1.62" fill="#c5e021"/><ellipse cx="166.10" cy="62.04" rx="1.36" ry="1.62" fill="#c5e021"/><ellipse cx="166.10" cy="59.36" rx="1.36" ry="1.62" fill="#c5e021"/><ellipse cx="166.10" cy="56.67" rx="1.36" ry="1.62" fill="#c5e021"/><ellipse cx="166.10" cy="53.99" rx="1.36" ry="1.62" fill="#c5e021"/><ellipse cx="166.10" cy="51.30" rx="1.36" ry="1.62" fill="#c2df23"/><ellipse cx="169.41" cy="185.60" rx="1.36" ry="1.62" fill="#440154"/><ellipse cx="169.41" cy="182.91" rx="1.36" ry="1.62" fill="#453781"/><ellipse cx="169.41" cy="180.23" rx="1.36" ry="1.62" fill="#365d8d"/><ellipse cx="169.41" cy="177.54" rx="1.36" ry="1.62" fill="#2a788e"/><ellipse cx="169.41" cy="174.86" rx="1.36" ry="1.62" fill="#218e8d"/><ellipse cx="169.41" cy="172.17" rx="1.36" ry="1.62" fill="#1fa088"/><ellipse cx="169.41" cy="169.48" rx="1.36" ry="1.62" fill="#28ae80"/><ellipse cx="169.41" cy="166.80" rx="1.36" ry="1.62" fill="#3aba76"/><ellipse cx="169.41" cy="164.11" rx="1.36" ry="1.62" fill="#4ec36b"/><ellipse cx="169.41" cy="161.43" rx="1.36" ry="1.62" fill="#60ca60"/><ellipse cx="169.41" cy="158.74" rx="1.36" ry="1.62" fill="#70cf57"/><ellipse cx="169.41" cy="156.05" rx="1.36" ry="1.62" fill="#81d34d"/><ellipse cx="169.41" cy="153.37" rx="1.36" ry="1.62" fill="#8ed645"/><ellipse cx="169.41" cy="150.68" rx="1.36" ry="1.62" fill="#98d83e"/><ellipse cx="169.41" cy="148.00" rx="1.36" ry="1.62" fill="#a0da39"/><ellipse cx="169.41" cy="145.31" rx="1.36" ry="1.62" fill="#a8db34"/><ellipse cx="169.41" cy="142.62" rx="1.36" ry="1.62" fill="#b0dd2f"/><ellipse cx="169.41" cy="139.94" rx="1.36" ry="1.62" fill="#b5de2b"/><ellipse cx="169.41" cy="137.25" rx="1.36" ry="1.62" fill="#b8de29"/><ellipse cx="169.41" cy="134.57" rx="1.36" ry="1.62" fill="#bddf26"/><ellipse cx="169.41" cy="131.88" rx="1.36" ry="1.62" fill="#c0df25"/><ellipse cx="169.41" cy="129.19" rx="1.36" ry="1.62" fill="#c2df23"/><ellipse cx="169.41" cy="126.51" rx="1.36" ry="1.62" fill="#c5e021"/><ellipse cx="169.41" cy="123.82" rx="1.36" ry="1.62" fill="#c5e021"/><ellipse cx="169.41" cy="121.14" rx="1.36" ry="1.62" fill="#c8e020"/><ellipse cx="169.41" cy="118.45" rx="1.36" ry="1.62" fill="#c8e020"/><ellipse cx="169.41" cy="115.76" rx="1.36" ry="1.62" fill="#c8e020"/><ellipse cx="169.41" cy="113.08" rx="1.36" ry="1.62" fill="#cae11f"/><ellipse cx="169.41" cy="110.39" rx="1.36" ry="1.62" fill="#cae11f"/><ellipse cx="169.41" cy="107.71" rx="1.36" ry="1.62" fill="#cae11f"/><ellipse cx="169.41" cy="105.02" rx="1.36" ry="1.62" fill="#cae11f"/><ellipse cx="169.41" cy="102.33" rx="1.36" ry="1.62" fill="#cae11f"/><ellipse cx="169.41" cy="99.65" rx="1.36" ry="1.62" fill="#cae11f"/><ellipse cx="169.41" cy="96.96" rx="1.36" ry="1.62" fill="#cae11f"/><ellipse cx="169.41" cy="94.28" rx="1.36" ry="1.62" fill="#cae11f"/><ellipse cx="169.41" cy="91.59" rx="1.36" ry="1.62" fill="#cae11f"/><ellipse cx="169.41" cy="88.90" rx="1.36" ry="1.62" fill="#cae11f"/><ellipse cx="169.41" cy="86.22" rx="1.36" ry="1.62" fill="#cae11f"/><ellipse cx="169.41" cy="83.53" rx="1.36" ry="1.62" fill="#cae11f"/><ellipse cx="169.41" cy="80.85" rx="1.36" ry="1.62" fill="#cae11f"/><ellipse cx="169.41" cy="78.16" rx="1.36" ry="1.62" fill="#cae11f"/><ellipse cx="169.41" cy="75.47" rx="1.36" ry="1.62" fill="#cae11f"/><ellipse cx="169.41" cy="72.79" rx="1.36" ry="1.62" fill="#cae11f"/><ellipse cx="169.41" cy="70.10" rx="1.36" ry="1.62" fill="#cae11f"/><ellipse cx="169.41" cy="67.42" rx="1.36" ry="1.62" fill="#cae11f"/><ellipse cx="169.41" cy="64.73" rx="1.36" ry="1.62" fill="#cae11f"/><ellipse cx="169.41" cy="62.04" rx="1.36" ry="1.62" fill="#cae11f"/><ellipse cx="169.41" cy="59.36" rx="1.36" ry="1.62" fill="#cae11f"/><ellipse cx="169.41" cy="56.67" rx="1.36" ry="1.62" fill="#cae11f"/><ellipse cx="169.41" cy="53.99" rx="1.36" ry="1.62" fill="#cae11f"/><ellipse cx="169.41" cy="51.30" rx="1.36" ry="1.62" fill="#cae11f"/><ellipse cx="172.72" cy="185.60" rx="1.36" ry="1.62" fill="#440154"/><ellipse cx="172.72" cy="182.91" rx="1.36" ry="1.62" fill="#453781"/><ellipse cx="172.72" cy="180.23" rx="1.36" ry="1.62" fill="#365d8d"/><ellipse cx="172.72" cy="177.54" rx="1.36" ry="1.62" fill="#2a788e"/><ellipse cx="172.72" cy="174.86" rx="1.36" ry="1.62" fill="#218e8d"/><ellipse cx="172.72" cy="172.17" rx="1.36" ry="1.62" fill="#1fa088"/><ellipse cx="172.72" cy="169.48" rx="1.36" ry="1.62" fill="#28ae80"/><ellipse cx="172.72" cy="166.80" rx="1.36" ry="1.62" fill="#3bbb75"/><ellipse cx="172.72" cy="164.11" rx="1.36" ry="1.62" fill="#4ec36b"/><ellipse cx="172.72" cy="161.43" rx="1.36" ry="1.62" fill="#63cb5f"/><ellipse cx="172.72" cy="158.74" rx="1.36" ry="1.62" fill="#73d056"/><ellipse cx="172.72" cy="156.05" rx="1.36" ry="1.62" fill="#81d34d"/><ellipse cx="172.72" cy="153.37" rx="1.36" ry="1.62" fill="#8ed645"/><ellipse cx="172.72" cy="150.68" rx="1.36" ry="1.62" fill="#9bd93c"/><ellipse cx="172.72" cy="148.00" rx="1.36" ry="1.62" fill="#a2da37"/><ellipse cx="172.72" cy="145.31" rx="1.36" ry="1.62" fill="#aadc32"/><ellipse cx="172.72" cy="142.62" rx="1.36" ry="1.62" fill="#b2dd2d"/><ellipse cx="172.72" cy="139.94" rx="1.36" ry="1.62" fill="#b8de29"/><ellipse cx="172.72" cy="137.25" rx="1.36" ry="1.62" fill="#bade28"/><ellipse cx="172.72" cy="134.57" rx="1.36" ry="1.62" fill="#c0df25"/><ellipse cx="172.72" cy="131.88" rx="1.36" ry="1.62" fill="#c2df23"/><ellipse cx="172.72" cy="129.19" rx="1.36" ry="1.62" fill="#c5e021"/><ellipse cx="172.72" cy="126.51" rx="1.36" ry="1.62" fill="#c8e020"/><ellipse cx="172.72" cy="123.82" rx="1.36" ry="1.62" fill="#c8e020"/><ellipse cx="172.72" cy="121.14" rx="1.36" ry="1.62" fill="#cae11f"/><ellipse cx="172.72" cy="118.45" rx="1.36" ry="1.62" fill="#cae11f"/><ellipse cx="172.72" cy="115.76" rx="1.36" ry="1.62" fill="#cde11d"/><ellipse cx="172.72" cy="113.08" rx="1.36" ry="1.62" fill="#cde11d"/><ellipse cx="172.72" cy="110.39" rx="1.36" ry="1.62" fill="#cde11d"/><ellipse cx="172.72" cy="107.71" rx="1.36" ry="1.62" fill="#d0e11c"/><ellipse cx="172.72" cy="105.02" rx="1.36" ry="1.62" fill="#d0e11c"/><ellipse cx="172.72" cy="102.33" rx="1.36" ry="1.62" fill="#d0e11c"/><ellipse cx="172.72" cy="99.65" rx="1.36" ry="1.62" fill="#d0e11c"/><ellipse cx="172.72" cy="96.96" rx="1.36" ry="1.62" fill="#d0e11c"/><ellipse cx="172.72" cy="94.28" rx="1.36" ry="1.62" fill="#d0e11c"/><ellipse cx="172.72" cy="91.59" rx="1.36" ry="1.62" fill="#d0e11c"/><ellipse cx="172.72" cy="88.90" rx="1.36" ry="1.62" fill="#d0e11c"/><ellipse cx="172.72" cy="86.22" rx="1.36" ry="1.62" fill="#d0e11c"/><ellipse cx="172.72" cy="83.53" rx="1.36" ry="1.62" fill="#d0e11c"/><ellipse cx="172.72" cy="80.85" rx="1.36" ry="1.62" fill="#d0e11c"/><ellipse cx="172.72" cy="78.16" rx="1.36" ry="1.62" fill="#d0e11c"/><ellipse cx="172.72" cy="75.47" rx="1.36" ry="1.62" fill="#d0e11c"/><ellipse cx="172.72" cy="72.79" rx="1.36" ry="1.62" fill="#d0e11c"/><ellipse cx="172.72" cy="70.10" rx="1.36" ry="1.62" fill="#d2e21b"/><ellipse cx="172.72" cy="67.42" rx="1.36" ry="1.62" fill="#d2e21b"/><ellipse cx="172.72" cy="64.73" rx="1.36" ry="1.62" fill="#d2e21b"/><ellipse cx="172.72" cy="62.04" rx="1.36" ry="1.62" fill="#d2e21b"/><ellipse cx="172.72" cy="59.36" rx="1.36" ry="1.62" fill="#d2e21b"/><ellipse cx="172.72" cy="56.67" rx="1.36" ry="1.62" fill="#d2e21b"/><ellipse cx="172.72" cy="53.99" rx="1.36" ry="1.62" fill="#d2e21b"/><ellipse cx="172.72" cy="51.30" rx="1.36" ry="1.62" fill="#d2e21b"/><ellipse cx="176.03" cy="185.60" rx="1.36" ry="1.62" fill="#440154"/><ellipse cx="176.03" cy="182.91" rx="1.36" ry="1.62" fill="#453781"/><ellipse cx="176.03" cy="180.23" rx="1.36" ry="1.62" fill="#365d8d"/><ellipse cx="176.03" cy="177.54" rx="1.36" ry="1.62" fill="#2a788e"/><ellipse cx="176.03" cy="174.86" rx="1.36" ry="1.62" fill="#218e8d"/><ellipse cx="176.03" cy="172.17" rx="1.36" ry="1.62" fill="#1fa188"/><ellipse cx="176.03" cy="169.48" rx="1.36" ry="1.62" fill="#29af7f"/><ellipse cx="176.03" cy="166.80" rx="1.36" ry="1.62" fill="#3bbb75"/><ellipse cx="176.03" cy="164.11" rx="1.36" ry="1.62" fill="#50c46a"/><ellipse cx="176.03" cy="161.43" rx="1.36" ry="1.62" fill="#63cb5f"/><ellipse cx="176.03" cy="158.74" rx="1.36" ry="1.62" fill="#75d054"/><ellipse cx="176.03" cy="156.05" rx="1.36" ry="1.62" fill="#84d44b"/><ellipse cx="176.03" cy="153.37" rx="1.36" ry="1.62" fill="#90d743"/><ellipse cx="176.03" cy="150.68" rx="1.36" ry="1.62" fill="#9bd93c"/><ellipse cx="176.03" cy="148.00" rx="1.36" ry="1.62" fill="#a5db36"/><ellipse cx="176.03" cy="145.31" rx="1.36" ry="1.62" fill="#addc30"/><ellipse cx="176.03" cy="142.62" rx="1.36" ry="1.62" fill="#b5de2b"/><ellipse cx="176.03" cy="139.94" rx="1.36" ry="1.62" fill="#bade28"/><ellipse cx="176.03" cy="137.25" rx="1.36" ry="1.62" fill="#bddf26"/><ellipse cx="176.03" cy="134.57" rx="1.36" ry="1.62" fill="#c2df23"/><ellipse cx="176.03" cy="131.88" rx="1.36" ry="1.62" fill="#c5e021"/><ellipse cx="176.03" cy="129.19" rx="1.36" ry="1.62" fill="#c8e020"/><ellipse cx="176.03" cy="126.51" rx="1.36" ry="1.62" fill="#cae11f"/><ellipse cx="176.03" cy="123.82" rx="1.36" ry="1.62" fill="#cae11f"/><ellipse cx="176.03" cy="121.14" rx="1.36" ry="1.62" fill="#cde11d"/><ellipse cx="176.03" cy="118.45" rx="1.36" ry="1.62" fill="#cde11d"/><ellipse cx="176.03" cy="115.76" rx="1.36" ry="1.62" fill="#d0e11c"/><ellipse cx="176.03" cy="113.08" rx="1.36" ry="1.62" fill="#d0e11c"/><ellipse cx="176.03" cy="110.39" rx="1.36" ry="1.62" fill="#d0e11c"/><ellipse cx="176.03" cy="107.71" rx="1.36" ry="1.62" fill="#d2e21b"/><ellipse cx="176.03" cy="105.02" rx="1.36" ry="1.62" fill="#d2e21b"/><ellipse cx="176.03" cy="102.33" rx="1.36" ry="1.62" fill="#d2e21b"/><ellipse cx="176.03" cy="99.65" rx="1.36" ry="1.62" fill="#d2e21b"/><ellipse cx="176.03" cy="96.96" rx="1.36" ry="1.62" fill="#d2e21b"/><ellipse cx="176.03" cy="94.28" rx="1.36" ry="1.62" fill="#d2e21b"/><ellipse cx="176.03" cy="91.59" rx="1.36" ry="1.62" fill="#d2e21b"/><ellipse cx="176.03" cy="88.90" rx="1.36" ry="1.62" fill="#d2e21b"/><ellipse cx="176.03" cy="86.22" rx="1.36" ry="1.62" fill="#d2e21b"/><ellipse cx="176.03" cy="83.53" rx="1.36" ry="1.62" fill="#d2e21b"/><ellipse cx="176.03" cy="80.85" rx="1.36" ry="1.62" fill="#d2e21b"/><ellipse cx="176.03" cy="78.16" rx="1.36" ry="1.62" fill="#d2e21b"/><ellipse cx="176.03" cy="75.47" rx="1.36" ry="1.62" fill="#d2e21b"/><ellipse cx="176.03" cy="72.79" rx="1.36" ry="1.62" fill="#d5e21a"/><ellipse cx="176.03" cy="70.10" rx="1.36" ry="1.62" fill="#d5e21a"/><ellipse cx="176.03" cy="67.42" rx="1.36" ry="1.62" fill="#d5e21a"/><ellipse cx="176.03" cy="64.73" rx="1.36" ry="1.62" fill="#d5e21a"/><ellipse cx="176.03" cy="62.04" rx="1.36" ry="1.62" fill="#d5e21a"/><ellipse cx="176.03" cy="59.36" rx="1.36" ry="1.62" fill="#d5e21a"/><ellipse cx="176.03" cy="56.67" rx="1.36" ry="1.62" fill="#d5e21a"/><ellipse cx="176.03" cy="53.99" rx="1.36" ry="1.62" fill="#d5e21a"/><ellipse cx="176.03" cy="51.30" rx="1.36" ry="1.62" fill="#d5e21a"/><ellipse cx="179.34" cy="185.60" rx="1.36" ry="1.62" fill="#440154"/><ellipse cx="179.34" cy="182.91" rx="1.36" ry="1.62" fill="#453781"/><ellipse cx="179.34" cy="180.23" rx="1.36" ry="1.62" fill="#365d8d"/><ellipse cx="179.34" cy="177.54" rx="1.36" ry="1.62" fill="#2a788e"/><ellipse cx="179.34" cy="174.86" rx="1.36" ry="1.62" fill="#218e8d"/><ellipse cx="179.34" cy="172.17" rx="1.36" ry="1.62" fill="#1fa188"/><ellipse cx="179.34" cy="169.48" rx="1.36" ry="1.62" fill="#29af7f"/><ellipse cx="179.34" cy="166.80" rx="1.36" ry="1.62" fill="#3bbb75"/><ellipse cx="179.34" cy="164.11" rx="1.36" ry="1.62" fill="#50c46a"/><ellipse cx="179.34" cy="161.43" rx="1.36" ry="1.62" fill="#63cb5f"/><ellipse cx="179.34" cy="158.74" rx="1.36" ry="1.62" fill="#75d054"/><ellipse cx="179.34" cy="156.05" rx="1.36" ry="1.62" fill="#84d44b"/><ellipse cx="179.34" cy="153.37" rx="1.36" ry="1.62" fill="#93d741"/><ellipse cx="179.34" cy="150.68" rx="1.36" ry="1.62" fill="#9dd93b"/><ellipse cx="179.34" cy="148.00" rx="1.36" ry="1.62" fill="#a8db34"/><ellipse cx="179.34" cy="145.31" rx="1.36" ry="1.62" fill="#b0dd2f"/><ellipse cx="179.34" cy="142.62" rx="1.36" ry="1.62" fill="#b5de2b"/><ellipse cx="179.34" cy="139.94" rx="1.36" ry="1.62" fill="#bade28"/><ellipse cx="179.34" cy="137.25" rx="1.36" ry="1.62" fill="#c0df25"/><ellipse cx="179.34" cy="134.57" rx="1.36" ry="1.62" fill="#c5e021"/><ellipse cx="179.34" cy="131.88" rx="1.36" ry="1.62" fill="#c8e020"/><ellipse cx="179.34" cy="129.19" rx="1.36" ry="1.62" fill="#cae11f"/><ellipse cx="179.34" cy="126.51" rx="1.36" ry="1.62" fill="#cde11d"/><ellipse cx="179.34" cy="123.82" rx="1.36" ry="1.62" fill="#cde11d"/><ellipse cx="179.34" cy="121.14" rx="1.36" ry="1.62" fill="#d0e11c"/><ellipse cx="179.34" cy="118.45" rx="1.36" ry="1.62" fill="#d0e11c"/><ellipse cx="179.34" cy="115.76" rx="1.36" ry="1.62" fill="#d2e21b"/><ellipse cx="179.34" cy="113.08" rx="1.36" ry="1.62" fill="#d2e21b"/><ellipse cx="179.34" cy="110.39" rx="1.36" ry="1.62" fill="#d2e21b"/><ellipse cx="179.34" cy="107.71" rx="1.36" ry="1.62" fill="#d5e21a"/><ellipse cx="179.34" cy="105.02" rx="1.36" ry="1.62" fill="#d5e21a"/><ellipse cx="179.34" cy="102.33" rx="1.36" ry="1.62" fill="#d5e21a"/><ellipse cx="179.34" cy="99.65" rx="1.36" ry="1.62" fill="#d5e21a"/><ellipse cx="179.34" cy="96.96" rx="1.36" ry="1.62" fill="#d5e21a"/><ellipse cx="179.34" cy="94.28" rx="1.36" ry="1.62" fill="#d5e21a"/><ellipse cx="179.34" cy="91.59" rx="1.36" ry="1.62" fill="#d5e21a"/><ellipse cx="179.34" cy="88.90" rx="1.36" ry="1.62" fill="#d5e21a"/><ellipse cx="179.34" cy="86.22" rx="1.36" ry="1.62" fill="#d5e21a"/><ellipse cx="179.34" cy="83.53" rx="1.36" ry="1.62" fill="#d5e21a"/><ellipse cx="179.34" cy="80.85" rx="1.36" ry="1.62" fill="#d5e21a"/><ellipse cx="179.34" cy="78.16" rx="1.36" ry="1.62" fill="#d5e21a"/><ellipse cx="179.34" cy="75.47" rx="1.36" ry="1.62" fill="#d8e219"/><ellipse cx="179.34" cy="72.79" rx="1.36" ry="1.62" fill="#d8e219"/><ellipse cx="179.34" cy="70.10" rx="1.36" ry="1.62" fill="#d8e219"/><ellipse cx="179.34" cy="67.42" rx="1.36" ry="1.62" fill="#d8e219"/><ellipse cx="179.34" cy="64.73" rx="1.36" ry="1.62" fill="#d8e219"/><ellipse cx="179.34" cy="62.04" rx="1.36" ry="1.62" fill="#d8e219"/><ellipse cx="179.34" cy="59.36" rx="1.36" ry="1.62" fill="#d8e219"/><ellipse cx="179.34" cy="56.67" rx="1.36" ry="1.62" fill="#d8e219"/><ellipse cx="179.34" cy="53.99" rx="1.36" ry="1.62" fill="#d8e219"/><ellipse cx="179.34" cy="51.30" rx="1.36" ry="1.62" fill="#d8e219"/><ellipse cx="182.64" cy="185.60" rx="1.36" ry="1.62" fill="#440154"/><ellipse cx="182.64" cy="182.91" rx="1.36" ry="1.62" fill="#453781"/><ellipse cx="182.64" cy="180.23" rx="1.36" ry="1.62" fill="#365d8d"/><ellipse cx="182.64" cy="177.54" rx="1.36" ry="1.62" fill="#2a788e"/><ellipse cx="182.64" cy="174.86" rx="1.36" ry="1.62" fill="#218e8d"/><ellipse cx="182.64" cy="172.17" rx="1.36" ry="1.62" fill="#1fa188"/><ellipse cx="182.64" cy="169.48" rx="1.36" ry="1.62" fill="#29af7f"/><ellipse cx="182.64" cy="166.80" rx="1.36" ry="1.62" fill="#3bbb75"/><ellipse cx="182.64" cy="164.11" rx="1.36" ry="1.62" fill="#52c569"/><ellipse cx="182.64" cy="161.43" rx="1.36" ry="1.62" fill="#65cb5e"/><ellipse cx="182.64" cy="158.74" rx="1.36" ry="1.62" fill="#77d153"/><ellipse cx="182.64" cy="156.05" rx="1.36" ry="1.62" fill="#86d549"/><ellipse cx="182.64" cy="153.37" rx="1.36" ry="1.62" fill="#93d741"/><ellipse cx="182.64" cy="150.68" rx="1.36" ry="1.62" fill="#a0da39"/><ellipse cx="182.64" cy="148.00" rx="1.36" ry="1.62" fill="#a8db34"/><ellipse cx="182.64" cy="145.31" rx="1.36" ry="1.62" fill="#b2dd2d"/><ellipse cx="182.64" cy="142.62" rx="1.36" ry="1.62" fill="#b8de29"/><ellipse cx="182.64" cy="139.94" rx="1.36" ry="1.62" fill="#bddf26"/><ellipse cx="182.64" cy="137.25" rx="1.36" ry="1.62" fill="#c2df23"/><ellipse cx="182.64" cy="134.57" rx="1.36" ry="1.62" fill="#c5e021"/><ellipse cx="182.64" cy="131.88" rx="1.36" ry="1.62" fill="#cae11f"/><ellipse cx="182.64" cy="129.19" rx="1.36" ry="1.62" fill="#cde11d"/><ellipse cx="182.64" cy="126.51" rx="1.36" ry="1.62" fill="#d0e11c"/><ellipse cx="182.64" cy="123.82" rx="1.36" ry="1.62" fill="#d0e11c"/><ellipse cx="182.64" cy="121.14" rx="1.36" ry="1.62" fill="#d2e21b"/><ellipse cx="182.64" cy="118.45" rx="1.36" ry="1.62" fill="#d2e21b"/><ellipse cx="182.64" cy="115.76" rx="1.36" ry="1.62" fill="#d5e21a"/><ellipse cx="182.64" cy="113.08" rx="1.36" ry="1.62" fill="#d5e21a"/><ellipse cx="182.64" cy="110.39" rx="1.36" ry="1.62" fill="#d5e21a"/><ellipse cx="182.64" cy="107.71" rx="1.36" ry="1.62" fill="#d8e219"/><ellipse cx="182.64" cy="105.02" rx="1.36" ry="1.62" fill="#d8e219"/><ellipse cx="182.64" cy="102.33" rx="1.36" ry="1.62" fill="#d8e219"/><ellipse cx="182.64" cy="99.65" rx="1.36" ry="1.62" fill="#d8e219"/><ellipse cx="182.64" cy="96.96" rx="1.36" ry="1.62" fill="#d8e219"/><ellipse cx="182.64" cy="94.28" rx="1.36" ry="1.62" fill="#d8e219"/><ellipse cx="182.64" cy="91.59" rx="1.36" ry="1.62" fill="#d8e219"/><ellipse cx="182.64" cy="88.90" rx="1.36" ry="1.62" fill="#d8e219"/><ellipse cx="182.64" cy="86.22" rx="1.36" ry="1.62" fill="#d8e219"/><ellipse cx="182.64" cy="83.53" rx="1.36" ry="1.62" fill="#d8e219"/><ellipse cx="182.64" cy="80.85" rx="1.36" ry="1.62" fill="#d8e219"/><ellipse cx="182.64" cy="78.16" rx="1.36" ry="1.62" fill="#dae319"/><ellipse cx="182.64" cy="75.47" rx="1.36" ry="1.62" fill="#dae319"/><ellipse cx="182.64" cy="72.79" rx="1.36" ry="1.62" fill="#dae319"/><ellipse cx="182.64" cy="70.10" rx="1.36" ry="1.62" fill="#dae319"/><ellipse cx="182.64" cy="67.42" rx="1.36" ry="1.62" fill="#dae319"/><ellipse cx="182.64" cy="64.73" rx="1.36" ry="1.62" fill="#dae319"/><ellipse cx="182.64" cy="62.04" rx="1.36" ry="1.62" fill="#dae319"/><ellipse cx="182.64" cy="59.36" rx="1.36" ry="1.62" fill="#dae319"/><ellipse cx="182.64" cy="56.67" rx="1.36" ry="1.62" fill="#dae319"/><ellipse cx="182.64" cy="53.99" rx="1.36" ry="1.62" fill="#dae319"/><ellipse cx="182.64" cy="51.30" rx="1.36" ry="1.62" fill="#dae319"/><ellipse cx="185.95" cy="185.60" rx="1.36" ry="1.62" fill="#440154"/><ellipse cx="185.95" cy="182.91" rx="1.36" ry="1.62" fill="#453781"/><ellipse cx="185.95" cy="180.23" rx="1.36" ry="1.62" fill="#365d8d"/><ellipse cx="185.95" cy="177.54" rx="1.36" ry="1.62" fill="#2a788e"/><ellipse cx="185.95" cy="174.86" rx="1.36" ry="1.62" fill="#218f8d"/><ellipse cx="185.95" cy="172.17" rx="1.36" ry="1.62" fill="#1fa188"/><ellipse cx="185.95" cy="169.48" rx="1.36" ry="1.62" fill="#29af7f"/><ellipse cx="185.95" cy="166.80" rx="1.36" ry="1.62" fill="#3dbc74"/><ellipse cx="185.95" cy="164.11" rx="1.36" ry="1.62" fill="#52c569"/><ellipse cx="185.95" cy="161.43" rx="1.36" ry="1.62" fill="#65cb5e"/><ellipse cx="185.95" cy="158.74" rx="1.36" ry="1.62" fill="#77d153"/><ellipse cx="185.95" cy="156.05" rx="1.36" ry="1.62" fill="#89d548"/><ellipse cx="185.95" cy="153.37" rx="1.36" ry="1.62" fill="#95d840"/><ellipse cx="185.95" cy="150.68" rx="1.36" ry="1.62" fill="#a0da39"/><ellipse cx="185.95" cy="148.00" rx="1.36" ry="1.62" fill="#aadc32"/><ellipse cx="185.95" cy="145.31" rx="1.36" ry="1.62" fill="#b2dd2d"/><ellipse cx="185.95" cy="142.62" rx="1.36" ry="1.62" fill="#bade28"/><ellipse cx="185.95" cy="139.94" rx="1.36" ry="1.62" fill="#c0df25"/><ellipse cx="185.95" cy="137.25" rx="1.36" ry="1.62" fill="#c5e021"/><ellipse cx="185.95" cy="134.57" rx="1.36" ry="1.62" fill="#c8e020"/><ellipse cx="185.95" cy="131.88" rx="1.36" ry="1.62" fill="#cde11d"/><ellipse cx="185.95" cy="129.19" rx="1.36" ry="1.62" fill="#d0e11c"/><ellipse cx="185.95" cy="126.51" rx="1.36" ry="1.62" fill="#d0e11c"/><ellipse cx="185.95" cy="123.82" rx="1.36" ry="1.62" fill="#d2e21b"/><ellipse cx="185.95" cy="121.14" rx="1.36" ry="1.62" fill="#d5e21a"/><ellipse cx="185.95" cy="118.45" rx="1.36" ry="1.62" fill="#d5e21a"/><ellipse cx="185.95" cy="115.76" rx="1.36" ry="1.62" fill="#d8e219"/><ellipse cx="185.95" cy="113.08" rx="1.36" ry="1.62" fill="#d8e219"/><ellipse cx="185.95" cy="110.39" rx="1.36" ry="1.62" fill="#d8e219"/><ellipse cx="185.95" cy="107.71" rx="1.36" ry="1.62" fill="#dae319"/><ellipse cx="185.95" cy="105.02" rx="1.36" ry="1.62" fill="#dae319"/><ellipse cx="185.95" cy="102.33" rx="1.36" ry="1.62" fill="#dae319"/><ellipse cx="185.95" cy="99.65" rx="1.36" ry="1.62" fill="#dae319"/><ellipse cx="185.95" cy="96.96" rx="1.36" ry="1.62" fill="#dae319"/><ellipse cx="185.95" cy="94.28" rx="1.36" ry="1.62" fill="#dae319"/><ellipse cx="185.95" cy="91.59" rx="1.36" ry="1.62" fill="#dae319"/><ellipse cx="185.95" cy="88.90" rx="1.36" ry="1.62" fill="#dae319"/><ellipse cx="185.95" cy="86.22" rx="1.36" ry="1.62" fill="#dae319"/><ellipse cx="185.95" cy="83.53" rx="1.36" ry="1.62" fill="#dae319"/><ellipse cx="185.95" cy="80.85" rx="1.36" ry="1.62" fill="#dae319"/><ellipse cx="185.95" cy="78.16" rx="1.36" ry="1.62" fill="#dde318"/><ellipse cx="185.95" cy="75.47" rx="1.36" ry="1.62" fill="#dde318"/><ellipse cx="185.95" cy="72.79" rx="1.36" ry="1.62" fill="#dde318"/><ellipse cx="185.95" cy="70.10" rx="1.36" ry="1.62" fill="#dde318"/><ellipse cx="185.95" cy="67.42" rx="1.36" ry="1.62" fill="#dde318"/><ellipse cx="185.95" cy="64.73" rx="1.36" ry="1.62" fill="#dde318"/><ellipse cx="185.95" cy="62.04" rx="1.36" ry="1.62" fill="#dde318"/><ellipse cx="185.95" cy="59.36" rx="1.36" ry="1.62" fill="#dde318"/><ellipse cx="185.95" cy="56.67" rx="1.36" ry="1.62" fill="#dde318"/><ellipse cx="185.95" cy="53.99" rx="1.36" ry="1.62" fill="#dde318"/><ellipse cx="185.95" cy="51.30" rx="1.36" ry="1.62" fill="#dde318"/><ellipse cx="189.26" cy="185.60" rx="1.36" ry="1.62" fill="#440154"/><ellipse cx="189.26" cy="182.91" rx="1.36" ry="1.62" fill="#453781"/><ellipse cx="189.26" cy="180.23" rx="1.36" ry="1.62" fill="#365d8d"/><ellipse cx="189.26" cy="177.54" rx="1.36" ry="1.62" fill="#2a788e"/><ellipse cx="189.26" cy="174.86" rx="1.36" ry="1.62" fill="#218f8d"/><ellipse cx="189.26" cy="172.17" rx="1.36" ry="1.62" fill="#1fa188"/><ellipse cx="189.26" cy="169.48" rx="1.36" ry="1.62" fill="#2ab07f"/><ellipse cx="189.26" cy="166.80" rx="1.36" ry="1.62" fill="#3dbc74"/><ellipse cx="189.26" cy="164.11" rx="1.36" ry="1.62" fill="#52c569"/><ellipse cx="189.26" cy="161.43" rx="1.36" ry="1.62" fill="#67cc5c"/><ellipse cx="189.26" cy="158.74" rx="1.36" ry="1.62" fill="#7ad151"/><ellipse cx="189.26" cy="156.05" rx="1.36" ry="1.62" fill="#89d548"/><ellipse cx="189.26" cy="153.37" rx="1.36" ry="1.62" fill="#98d83e"/><ellipse cx="189.26" cy="150.68" rx="1.36" ry="1.62" fill="#a2da37"/><ellipse cx="189.26" cy="148.00" rx="1.36" ry="1.62" fill="#addc30"/><ellipse cx="189.26" cy="145.31" rx="1.36" ry="1.62" fill="#b5de2b"/><ellipse cx="189.26" cy="142.62" rx="1.36" ry="1.62" fill="#bddf26"/><ellipse cx="189.26" cy="139.94" rx="1.36" ry="1.62" fill="#c2df23"/><ellipse cx="189.26" cy="137.25" rx="1.36" ry="1.62" fill="#c8e020"/><ellipse cx="189.26" cy="134.57" rx="1.36" ry="1.62" fill="#cae11f"/><ellipse cx="189.26" cy="131.88" rx="1.36" ry="1.62" fill="#cde11d"/><ellipse cx="189.26" cy="129.19" rx="1.36" ry="1.62" fill="#d0e11c"/><ellipse cx="189.26" cy="126.51" rx="1.36" ry="1.62" fill="#d2e21b"/><ellipse cx="189.26" cy="123.82" rx="1.36" ry="1.62" fill="#d5e21a"/><ellipse cx="189.26" cy="121.14" rx="1.36" ry="1.62" fill="#d8e219"/><ellipse cx="189.26" cy="118.45" rx="1.36" ry="1.62" fill="#d8e219"/><ellipse cx="189.26" cy="115.76" rx="1.36" ry="1.62" fill="#dae319"/><ellipse cx="189.26" cy="113.08" rx="1.36" ry="1.62" fill="#dae319"/><ellipse cx="189.26" cy="110.39" rx="1.36" ry="1.62" fill="#dae319"/><ellipse cx="189.26" cy="107.71" rx="1.36" ry="1.62" fill="#dae319"/><ellipse cx="189.26" cy="105.02" rx="1.36" ry="1.62" fill="#dde318"/><ellipse cx="189.26" cy="102.33" rx="1.36" ry="1.62" fill="#dde318"/><ellipse cx="189.26" cy="99.65" rx="1.36" ry="1.62" fill="#dde318"/><ellipse cx="189.26" cy="96.96" rx="1.36" ry="1.62" fill="#dde318"/><ellipse cx="189.26" cy="94.28" rx="1.36" ry="1.62" fill="#dde318"/><ellipse cx="189.26" cy="91.59" rx="1.36" ry="1.62" fill="#dde318"/><ellipse cx="189.26" cy="88.90" rx="1.36" ry="1.62" fill="#dde318"/><ellipse cx="189.26" cy="86.22" rx="1.36" ry="1.62" fill="#dde318"/><ellipse cx="189.26" cy="83.53" rx="1.36" ry="1.62" fill="#dde318"/><ellipse cx="189.26" cy="80.85" rx="1.36" ry="1.62" fill="#dfe318"/><ellipse cx="189.26" cy="78.16" rx="1.36" ry="1.62" fill="#dfe318"/><ellipse cx="189.26" cy="75.47" rx="1.36" ry="1.62" fill="#dfe318"/><ellipse cx="189.26" cy="72.79" rx="1.36" ry="1.62" fill="#dfe318"/><ellipse cx="189.26" cy="70.10" rx="1.36" ry="1.62" fill="#dfe318"/><ellipse cx="189.26" cy="67.42" rx="1.36" ry="1.62" fill="#dfe318"/><ellipse cx="189.26" cy="64.73" rx="1.36" ry="1.62" fill="#dfe318"/><ellipse cx="189.26" cy="62.04" rx="1.36" ry="1.62" fill="#dfe318"/><ellipse cx="189.26" cy="59.36" rx="1.36" ry="1.62" fill="#dfe318"/><ellipse cx="189.26" cy="56.67" rx="1.36" ry="1.62" fill="#dfe318"/><ellipse cx="189.26" cy="53.99" rx="1.36" ry="1.62" fill="#dfe318"/><ellipse cx="189.26" cy="51.30" rx="1.36" ry="1.62" fill="#dfe318"/><ellipse cx="192.57" cy="185.60" rx="1.36" ry="1.62" fill="#440154"/><ellipse cx="192.57" cy="182.91" rx="1.36" ry="1.62" fill="#453781"/><ellipse cx="192.57" cy="180.23" rx="1.36" ry="1.62" fill="#365d8d"/><ellipse cx="192.57" cy="177.54" rx="1.36" ry="1.62" fill="#2a788e"/><ellipse cx="192.57" cy="174.86" rx="1.36" ry="1.62" fill="#218f8d"/><ellipse cx="192.57" cy="172.17" rx="1.36" ry="1.62" fill="#1fa188"/><ellipse cx="192.57" cy="169.48" rx="1.36" ry="1.62" fill="#2ab07f"/><ellipse cx="192.57" cy="166.80" rx="1.36" ry="1.62" fill="#3dbc74"/><ellipse cx="192.57" cy="164.11" rx="1.36" ry="1.62" fill="#54c568"/><ellipse cx="192.57" cy="161.43" rx="1.36" ry="1.62" fill="#67cc5c"/><ellipse cx="192.57" cy="158.74" rx="1.36" ry="1.62" fill="#7ad151"/><ellipse cx="192.57" cy="156.05" rx="1.36" ry="1.62" fill="#8bd646"/><ellipse cx="192.57" cy="153.37" rx="1.36" ry="1.62" fill="#98d83e"/><ellipse cx="192.57" cy="150.68" rx="1.36" ry="1.62" fill="#a5db36"/><ellipse cx="192.57" cy="148.00" rx="1.36" ry="1.62" fill="#b0dd2f"/><ellipse cx="192.57" cy="145.31" rx="1.36" ry="1.62" fill="#b8de29"/><ellipse cx="192.57" cy="142.62" rx="1.36" ry="1.62" fill="#bddf26"/><ellipse cx="192.57" cy="139.94" rx="1.36" ry="1.62" fill="#c5e021"/><ellipse cx="192.57" cy="137.25" rx="1.36" ry="1.62" fill="#cae11f"/><ellipse cx="192.57" cy="134.57" rx="1.36" ry="1.62" fill="#cde11d"/><ellipse cx="192.57" cy="131.88" rx="1.36" ry="1.62" fill="#d0e11c"/><ellipse cx="192.57" cy="129.19" rx="1.36" ry="1.62" fill="#d2e21b"/><ellipse cx="192.57" cy="126.51" rx="1.36" ry="1.62" fill="#d5e21a"/><ellipse cx="192.57" cy="123.82" rx="1.36" ry="1.62" fill="#d8e219"/><ellipse cx="192.57" cy="121.14" rx="1.36" ry="1.62" fill="#dae319"/><ellipse cx="192.57" cy="118.45" rx="1.36" ry="1.62" fill="#dae319"/><ellipse cx="192.57" cy="115.76" rx="1.36" ry="1.62" fill="#dde318"/><ellipse cx="192.57" cy="113.08" rx="1.36" ry="1.62" fill="#dde318"/><ellipse cx="192.57" cy="110.39" rx="1.36" ry="1.62" fill="#dde318"/><ellipse cx="192.57" cy="107.71" rx="1.36" ry="1.62" fill="#dde318"/><ellipse cx="192.57" cy="105.02" rx="1.36" ry="1.62" fill="#dfe318"/><ellipse cx="192.57" cy="102.33" rx="1.36" ry="1.62" fill="#dfe318"/><ellipse cx="192.57" cy="99.65" rx="1.36" ry="1.62" fill="#dfe318"/><ellipse cx="192.57" cy="96.96" rx="1.36" ry="1.62" fill="#dfe318"/><ellipse cx="192.57" cy="94.28" rx="1.36" ry="1.62" fill="#dfe318"/><ellipse cx="192.57" cy="91.59" rx="1.36" ry="1.62" fill="#dfe318"/><ellipse cx="192.57" cy="88.90" rx="1.36" ry="1.62" fill="#dfe318"/><ellipse cx="192.57" cy="86.22" rx="1.36" ry="1.62" fill="#dfe318"/><ellipse cx="192.57" cy="83.53" rx="1.36" ry="1.62" fill="#dfe318"/><ellipse cx="192.57" cy="80.85" rx="1.36" ry="1.62" fill="#e2e418"/><ellipse cx="192.57" cy="78.16" rx="1.36" ry="1.62" fill="#e2e418"/><ellipse cx="192.57" cy="75.47" rx="1.36" ry="1.62" fill="#e2e418"/><ellipse cx="192.57" cy="72.79" rx="1.36" ry="1.62" fill="#e2e418"/><ellipse cx="192.57" cy="70.10" rx="1.36" ry="1.62" fill="#e2e418"/><ellipse cx="192.57" cy="67.42" rx="1.36" ry="1.62" fill="#e2e418"/><ellipse cx="192.57" cy="64.73" rx="1.36" ry="1.62" fill="#e2e418"/><ellipse cx="192.57" cy="62.04" rx="1.36" ry="1.62" fill="#e2e418"/><ellipse cx="192.57" cy="59.36" rx="1.36" ry="1.62" fill="#e2e418"/><ellipse cx="192.57" cy="56.67" rx="1.36" ry="1.62" fill="#e2e418"/><ellipse cx="192.57" cy="53.99" rx="1.36" ry="1.62" fill="#e2e418"/><ellipse cx="192.57" cy="51.30" rx="1.36" ry="1.62" fill="#e2e418"/><ellipse cx="195.88" cy="185.60" rx="1.36" ry="1.62" fill="#440154"/><ellipse cx="195.88" cy="182.91" rx="1.36" ry="1.62" fill="#453781"/><ellipse cx="195.88" cy="180.23" rx="1.36" ry="1.62" fill="#365d8d"/><ellipse cx="195.88" cy="177.54" rx="1.36" ry="1.62" fill="#2a788e"/><ellipse cx="195.88" cy="174.86" rx="1.36" ry="1.62" fill="#218f8d"/><ellipse cx="195.88" cy="172.17" rx="1.36" ry="1.62" fill="#1fa187"/><ellipse cx="195.88" cy="169.48" rx="1.36" ry="1.62" fill="#2ab07f"/><ellipse cx="195.88" cy="166.80" rx="1.36" ry="1.62" fill="#3fbc73"/><ellipse cx="195.88" cy="164.11" rx="1.36" ry="1.62" fill="#54c568"/><ellipse cx="195.88" cy="161.43" rx="1.36" ry="1.62" fill="#69cd5b"/><ellipse cx="195.88" cy="158.74" rx="1.36" ry="1.62" fill="#7cd250"/><ellipse cx="195.88" cy="156.05" rx="1.36" ry="1.62" fill="#8bd646"/><ellipse cx="195.88" cy="153.37" rx="1.36" ry="1.62" fill="#9bd93c"/><ellipse cx="195.88" cy="150.68" rx="1.36" ry="1.62" fill="#a5db36"/><ellipse cx="195.88" cy="148.00" rx="1.36" ry="1.62" fill="#b0dd2f"/><ellipse cx="195.88" cy="145.31" rx="1.36" ry="1.62" fill="#bade28"/><ellipse cx="195.88" cy="142.62" rx="1.36" ry="1.62" fill="#c0df25"/><ellipse cx="195.88" cy="139.94" rx="1.36" ry="1.62" fill="#c5e021"/><ellipse cx="195.88" cy="137.25" rx="1.36" ry="1.62" fill="#cae11f"/><ellipse cx="195.88" cy="134.57" rx="1.36" ry="1.62" fill="#d0e11c"/><ellipse cx="195.88" cy="131.88" rx="1.36" ry="1.62" fill="#d2e21b"/><ellipse cx="195.88" cy="129.19" rx="1.36" ry="1.62" fill="#d5e21a"/><ellipse cx="195.88" cy="126.51" rx="1.36" ry="1.62" fill="#d8e219"/><ellipse cx="195.88" cy="123.82" rx="1.36" ry="1.62" fill="#dae319"/><ellipse cx="195.88" cy="121.14" rx="1.36" ry="1.62" fill="#dde318"/><ellipse cx="195.88" cy="118.45" rx="1.36" ry="1.62" fill="#dde318"/><ellipse cx="195.88" cy="115.76" rx="1.36" ry="1.62" fill="#dfe318"/><ellipse cx="195.88" cy="113.08" rx="1.36" ry="1.62" fill="#dfe318"/><ellipse cx="195.88" cy="110.39" rx="1.36" ry="1.62" fill="#dfe318"/><ellipse cx="195.88" cy="107.71" rx="1.36" ry="1.62" fill="#dfe318"/><ellipse cx="195.88" cy="105.02" rx="1.36" ry="1.62" fill="#e2e418"/><ellipse cx="195.88" cy="102.33" rx="1.36" ry="1.62" fill="#e2e418"/><ellipse cx="195.88" cy="99.65" rx="1.36" ry="1.62" fill="#e2e418"/><ellipse cx="195.88" cy="96.96" rx="1.36" ry="1.62" fill="#e2e418"/><ellipse cx="195.88" cy="94.28" rx="1.36" ry="1.62" fill="#e2e418"/><ellipse cx="195.88" cy="91.59" rx="1.36" ry="1.62" fill="#e2e418"/><ellipse cx="195.88" cy="88.90" rx="1.36" ry="1.62" fill="#e2e418"/><ellipse cx="195.88" cy="86.22" rx="1.36" ry="1.62" fill="#e2e418"/><ellipse cx="195.88" cy="83.53" rx="1.36" ry="1.62" fill="#e2e418"/><ellipse cx="195.88" cy="80.85" rx="1.36" ry="1.62" fill="#e5e419"/><ellipse cx="195.88" cy="78.16" rx="1.36" ry="1.62" fill="#e5e419"/><ellipse cx="195.88" cy="75.47" rx="1.36" ry="1.62" fill="#e5e419"/><ellipse cx="195.88" cy="72.79" rx="1.36" ry="1.62" fill="#e5e419"/><ellipse cx="195.88" cy="70.10" rx="1.36" ry="1.62" fill="#e5e419"/><ellipse cx="195.88" cy="67.42" rx="1.36" ry="1.62" fill="#e5e419"/><ellipse cx="195.88" cy="64.73" rx="1.36" ry="1.62" fill="#e5e419"/><ellipse cx="195.88" cy="62.04" rx="1.36" ry="1.62" fill="#e5e419"/><ellipse cx="195.88" cy="59.36" rx="1.36" ry="1.62" fill="#e5e419"/><ellipse cx="195.88" cy="56.67" rx="1.36" ry="1.62" fill="#e5e419"/><ellipse cx="195.88" cy="53.99" rx="1.36" ry="1.62" fill="#e5e419"/><ellipse cx="195.88" cy="51.30" rx="1.36" ry="1.62" fill="#e5e419"/><ellipse cx="199.18" cy="185.60" rx="1.36" ry="1.62" fill="#440154"/><ellipse cx="199.18" cy="182.91" rx="1.36" ry="1.62" fill="#453781"/><ellipse cx="199.18" cy="180.23" rx="1.36" ry="1.62" fill="#365d8d"/><ellipse cx="199.18" cy="177.54" rx="1.36" ry="1.62" fill="#2a788e"/><ellipse cx="199.18" cy="174.86" rx="1.36" ry="1.62" fill="#218f8d"/><ellipse cx="199.18" cy="172.17" rx="1.36" ry="1.62" fill="#1fa187"/><ellipse cx="199.18" cy="169.48" rx="1.36" ry="1.62" fill="#2ab07f"/><ellipse cx="199.18" cy="166.80" rx="1.36" ry="1.62" fill="#3fbc73"/><ellipse cx="199.18" cy="164.11" rx="1.36" ry="1.62" fill="#56c667"/><ellipse cx="199.18" cy="161.43" rx="1.36" ry="1.62" fill="#69cd5b"/><ellipse cx="199.18" cy="158.74" rx="1.36" ry="1.62" fill="#7cd250"/><ellipse cx="199.18" cy="156.05" rx="1.36" ry="1.62" fill="#8ed645"/><ellipse cx="199.18" cy="153.37" rx="1.36" ry="1.62" fill="#9bd93c"/><ellipse cx="199.18" cy="150.68" rx="1.36" ry="1.62" fill="#a8db34"/><ellipse cx="199.18" cy="148.00" rx="1.36" ry="1.62" fill="#b2dd2d"/><ellipse cx="199.18" cy="145.31" rx="1.36" ry="1.62" fill="#bade28"/><ellipse cx="199.18" cy="142.62" rx="1.36" ry="1.62" fill="#c2df23"/><ellipse cx="199.18" cy="139.94" rx="1.36" ry="1.62" fill="#c8e020"/><ellipse cx="199.18" cy="137.25" rx="1.36" ry="1.62" fill="#cde11d"/><ellipse cx="199.18" cy="134.57" rx="1.36" ry="1.62" fill="#d2e21b"/><ellipse cx="199.18" cy="131.88" rx="1.36" ry="1.62" fill="#d5e21a"/><ellipse cx="199.18" cy="129.19" rx="1.36" ry="1.62" fill="#d8e219"/><ellipse cx="199.18" cy="126.51" rx="1.36" ry="1.62" fill="#dae319"/><ellipse cx="199.18" cy="123.82" rx="1.36" ry="1.62" fill="#dde318"/><ellipse cx="199.18" cy="121.14" rx="1.36" ry="1.62" fill="#dfe318"/><ellipse cx="199.18" cy="118.45" rx="1.36" ry="1.62" fill="#dfe318"/><ellipse cx="199.18" cy="115.76" rx="1.36" ry="1.62" fill="#e2e418"/><ellipse cx="199.18" cy="113.08" rx="1.36" ry="1.62" fill="#e2e418"/><ellipse cx="199.18" cy="110.39" rx="1.36" ry="1.62" fill="#e2e418"/><ellipse cx="199.18" cy="107.71" rx="1.36" ry="1.62" fill="#e2e418"/><ellipse cx="199.18" cy="105.02" rx="1.36" ry="1.62" fill="#e5e419"/><ellipse cx="199.18" cy="102.33" rx="1.36" ry="1.62" fill="#e5e419"/><ellipse cx="199.18" cy="99.65" rx="1.36" ry="1.62" fill="#e5e419"/><ellipse cx="199.18" cy="96.96" rx="1.36" ry="1.62" fill="#e5e419"/><ellipse cx="199.18" cy="94.28" rx="1.36" ry="1.62" fill="#e5e419"/><ellipse cx="199.18" cy="91.59" rx="1.36" ry="1.62" fill="#e5e419"/><ellipse cx="199.18" cy="88.90" rx="1.36" ry="1.62" fill="#e5e419"/><ellipse cx="199.18" cy="86.22" rx="1.36" ry="1.62" fill="#e5e419"/><ellipse cx="199.18" cy="83.53" rx="1.36" ry="1.62" fill="#e7e419"/><ellipse cx="199.18" cy="80.85" rx="1.36" ry="1.62" fill="#e7e419"/><ellipse cx="199.18" cy="78.16" rx="1.36" ry="1.62" fill="#e7e419"/><ellipse cx="199.18" cy="75.47" rx="1.36" ry="1.62" fill="#e7e419"/><ellipse cx="199.18" cy="72.79" rx="1.36" ry="1.62" fill="#e7e419"/><ellipse cx="199.18" cy="70.10" rx="1.36" ry="1.62" fill="#e7e419"/><ellipse cx="199.18" cy="67.42" rx="1.36" ry="1.62" fill="#e7e419"/><ellipse cx="199.18" cy="64.73" rx="1.36" ry="1.62" fill="#e7e419"/><ellipse cx="199.18" cy="62.04" rx="1.36" ry="1.62" fill="#e7e419"/><ellipse cx="199.18" cy="59.36" rx="1.36" ry="1.62" fill="#e7e419"/><ellipse cx="199.18" cy="56.67" rx="1.36" ry="1.62" fill="#e7e419"/><ellipse cx="199.18" cy="53.99" rx="1.36" ry="1.62" fill="#e7e419"/><ellipse cx="199.18" cy="51.30" rx="1.36" ry="1.62" fill="#e7e419"/><ellipse cx="202.49" cy="185.60" rx="1.36" ry="1.62" fill="#440154"/><ellipse cx="202.49" cy="182.91" rx="1.36" ry="1.62" fill="#453781"/><ellipse cx="202.49" cy="180.23" rx="1.36" ry="1.62" fill="#365d8d"/><ellipse cx="202.49" cy="177.54" rx="1.36" ry="1.62" fill="#2a788e"/><ellipse cx="202.49" cy="174.86" rx="1.36" ry="1.62" fill="#218f8d"/><ellipse cx="202.49" cy="172.17" rx="1.36" ry="1.62" fill="#1fa187"/><ellipse cx="202.49" cy="169.48" rx="1.36" ry="1.62" fill="#2cb17e"/><ellipse cx="202.49" cy="166.80" rx="1.36" ry="1.62" fill="#3fbc73"/><ellipse cx="202.49" cy="164.11" rx="1.36" ry="1.62" fill="#56c667"/><ellipse cx="202.49" cy="161.43" rx="1.36" ry="1.62" fill="#6ccd5a"/><ellipse cx="202.49" cy="158.74" rx="1.36" ry="1.62" fill="#7fd34e"/><ellipse cx="202.49" cy="156.05" rx="1.36" ry="1.62" fill="#8ed645"/><ellipse cx="202.49" cy="153.37" rx="1.36" ry="1.62" fill="#9dd93b"/><ellipse cx="202.49" cy="150.68" rx="1.36" ry="1.62" fill="#aadc32"/><ellipse cx="202.49" cy="148.00" rx="1.36" ry="1.62" fill="#b5de2b"/><ellipse cx="202.49" cy="145.31" rx="1.36" ry="1.62" fill="#bddf26"/><ellipse cx="202.49" cy="142.62" rx="1.36" ry="1.62" fill="#c5e021"/><ellipse cx="202.49" cy="139.94" rx="1.36" ry="1.62" fill="#cae11f"/><ellipse cx="202.49" cy="137.25" rx="1.36" ry="1.62" fill="#d0e11c"/><ellipse cx="202.49" cy="134.57" rx="1.36" ry="1.62" fill="#d5e21a"/><ellipse cx="202.49" cy="131.88" rx="1.36" ry="1.62" fill="#d8e219"/><ellipse cx="202.49" cy="129.19" rx="1.36" ry="1.62" fill="#dae319"/><ellipse cx="202.49" cy="126.51" rx="1.36" ry="1.62" fill="#dde318"/><ellipse cx="202.49" cy="123.82" rx="1.36" ry="1.62" fill="#dfe318"/><ellipse cx="202.49" cy="121.14" rx="1.36" ry="1.62" fill="#dfe318"/><ellipse cx="202.49" cy="118.45" rx="1.36" ry="1.62" fill="#e2e418"/><ellipse cx="202.49" cy="115.76" rx="1.36" ry="1.62" fill="#e2e418"/><ellipse cx="202.49" cy="113.08" rx="1.36" ry="1.62" fill="#e5e419"/><ellipse cx="202.49" cy="110.39" rx="1.36" ry="1.62" fill="#e5e419"/><ellipse cx="202.49" cy="107.71" rx="1.36" ry="1.62" fill="#e5e419"/><ellipse cx="202.49" cy="105.02" rx="1.36" ry="1.62" fill="#e7e419"/><ellipse cx="202.49" cy="102.33" rx="1.36" ry="1.62" fill="#e7e419"/><ellipse cx="202.49" cy="99.65" rx="1.36" ry="1.62" fill="#e7e419"/><ellipse cx="202.49" cy="96.96" rx="1.36" ry="1.62" fill="#e7e419"/><ellipse cx="202.49" cy="94.28" rx="1.36" ry="1.62" fill="#e7e419"/><ellipse cx="202.49" cy="91.59" rx="1.36" ry="1.62" fill="#e7e419"/><ellipse cx="202.49" cy="88.90" rx="1.36" ry="1.62" fill="#e7e419"/><ellipse cx="202.49" cy="86.22" rx="1.36" ry="1.62" fill="#e7e419"/><ellipse cx="202.49" cy="83.53" rx="1.36" ry="1.62" fill="#eae51a"/><ellipse cx="202.49" cy="80.85" rx="1.36" ry="1.62" fill="#eae51a"/><ellipse cx="202.49" cy="78.16" rx="1.36" ry="1.62" fill="#eae51a"/><ellipse cx="202.49" cy="75.47" rx="1.36" ry="1.62" fill="#eae51a"/><ellipse cx="202.49" cy="72.79" rx="1.36" ry="1.62" fill="#eae51a"/><ellipse cx="202.49" cy="70.10" rx="1.36" ry="1.62" fill="#eae51a"/><ellipse cx="202.49" cy="67.42" rx="1.36" ry="1.62" fill="#eae51a"/><ellipse cx="202.49" cy="64.73" rx="1.36" ry="1.62" fill="#eae51a"/><ellipse cx="202.49" cy="62.04" rx="1.36" ry="1.62" fill="#eae51a"/><ellipse cx="202.49" cy="59.36" rx="1.36" ry="1.62" fill="#eae51a"/><ellipse cx="202.49" cy="56.67" rx="1.36" ry="1.62" fill="#eae51a"/><ellipse cx="202.49" cy="53.99" rx="1.36" ry="1.62" fill="#eae51a"/><ellipse cx="202.49" cy="51.30" rx="1.36" ry="1.62" fill="#eae51a"/><ellipse cx="205.80" cy="185.60" rx="1.36" ry="1.62" fill="#440154"/><ellipse cx="205.80" cy="182.91" rx="1.36" ry="1.62" fill="#453781"/><ellipse cx="205.80" cy="180.23" rx="1.36" ry="1.62" fill="#365d8d"/><ellipse cx="205.80" cy="177.54" rx="1.36" ry="1.62" fill="#2a788e"/><ellipse cx="205.80" cy="174.86" rx="1.36" ry="1.62" fill="#218f8d"/><ellipse cx="205.80" cy="172.17" rx="1.36" ry="1.62" fill="#1fa187"/><ellipse cx="205.80" cy="169.48" rx="1.36" ry="1.62" fill="#2cb17e"/><ellipse cx="205.80" cy="166.80" rx="1.36" ry="1.62" fill="#40bd72"/><ellipse cx="205.80" cy="164.11" rx="1.36" ry="1.62" fill="#56c667"/><ellipse cx="205.80" cy="161.43" rx="1.36" ry="1.62" fill="#6ccd5a"/><ellipse cx="205.80" cy="158.74" rx="1.36" ry="1.62" fill="#7fd34e"/><ellipse cx="205.80" cy="156.05" rx="1.36" ry="1.62" fill="#90d743"/><ellipse cx="205.80" cy="153.37" rx="1.36" ry="1.62" fill="#a0da39"/><ellipse cx="205.80" cy="150.68" rx="1.36" ry="1.62" fill="#aadc32"/><ellipse cx="205.80" cy="148.00" rx="1.36" ry="1.62" fill="#b5de2b"/><ellipse cx="205.80" cy="145.31" rx="1.36" ry="1.62" fill="#c0df25"/><ellipse cx="205.80" cy="142.62" rx="1.36" ry="1.62" fill="#c8e020"/><ellipse cx="205.80" cy="139.94" rx="1.36" ry="1.62" fill="#cde11d"/><ellipse cx="205.80" cy="137.25" rx="1.36" ry="1.62" fill="#d2e21b"/><ellipse cx="205.80" cy="134.57" rx="1.36" ry="1.62" fill="#d5e21a"/><ellipse cx="205.80" cy="131.88" rx="1.36" ry="1.62" fill="#dae319"/><ellipse cx="205.80" cy="129.19" rx="1.36" ry="1.62" fill="#dde318"/><ellipse cx="205.80" cy="126.51" rx="1.36" ry="1.62" fill="#dfe318"/><ellipse cx="205.80" cy="123.82" rx="1.36" ry="1.62" fill="#e2e418"/><ellipse cx="205.80" cy="121.14" rx="1.36" ry="1.62" fill="#e2e418"/><ellipse cx="205.80" cy="118.45" rx="1.36" ry="1.62" fill="#e5e419"/><ellipse cx="205.80" cy="115.76" rx="1.36" ry="1.62" fill="#e5e419"/><ellipse cx="205.80" cy="113.08" rx="1.36" ry="1.62" fill="#e7e419"/><ellipse cx="205.80" cy="110.39" rx="1.36" ry="1.62" fill="#e7e419"/><ellipse cx="205.80" cy="107.71" rx="1.36" ry="1.62" fill="#e7e419"/><ellipse cx="205.80" cy="105.02" rx="1.36" ry="1.62" fill="#eae51a"/><ellipse cx="205.80" cy="102.33" rx="1.36" ry="1.62" fill="#eae51a"/><ellipse cx="205.80" cy="99.65" rx="1.36" ry="1.62" fill="#eae51a"/><ellipse cx="205.80" cy="96.96" rx="1.36" ry="1.62" fill="#eae51a"/><ellipse cx="205.80" cy="94.28" rx="1.36" ry="1.62" fill="#eae51a"/><ellipse cx="205.80" cy="91.59" rx="1.36" ry="1.62" fill="#eae51a"/><ellipse cx="205.80" cy="88.90" rx="1.36" ry="1.62" fill="#eae51a"/><ellipse cx="205.80" cy="86.22" rx="1.36" ry="1.62" fill="#eae51a"/><ellipse cx="205.80" cy="83.53" rx="1.36" ry="1.62" fill="#ece51b"/><ellipse cx="205.80" cy="80.85" rx="1.36" ry="1.62" fill="#ece51b"/><ellipse cx="205.80" cy="78.16" rx="1.36" ry="1.62" fill="#ece51b"/><ellipse cx="205.80" cy="75.47" rx="1.36" ry="1.62" fill="#ece51b"/><ellipse cx="205.80" cy="72.79" rx="1.36" ry="1.62" fill="#ece51b"/><ellipse cx="205.80" cy="70.10" rx="1.36" ry="1.62" fill="#ece51b"/><ellipse cx="205.80" cy="67.42" rx="1.36" ry="1.62" fill="#ece51b"/><ellipse cx="205.80" cy="64.73" rx="1.36" ry="1.62" fill="#ece51b"/><ellipse cx="205.80" cy="62.04" rx="1.36" ry="1.62" fill="#ece51b"/><ellipse cx="205.80" cy="59.36" rx="1.36" ry="1.62" fill="#ece51b"/><ellipse cx="205.80" cy="56.67" rx="1.36" ry="1.62" fill="#ece51b"/><ellipse cx="205.80" cy="53.99" rx="1.36" ry="1.62" fill="#ece51b"/><ellipse cx="205.80" cy="51.30" rx="1.36" ry="1.62" fill="#ece51b"/></g>
<path d="M71.38,70.70L75.58,74.90M71.38,74.90L75.58,70.70" stroke="#008000" stroke-width="1.3" fill="none"/>
<path d="M170.62,70.70L174.82,74.90M170.62,74.90L174.82,70.70" stroke="#ff0000" stroke-width="1.3" fill="none"/>
<path d="M71.38,168.60L75.58,172.80M71.38,172.80L75.58,168.60" stroke="#000000" stroke-width="1.3" fill="none"/>
<path d="M170.62,168.60L174.82,172.80M170.62,172.80L174.82,168.60" stroke="#0000ff" stroke-width="1.3" fill="none"/>
<rect x="32.6" y="44.5" width="181.60" height="147.90" fill="none" stroke="#5a5a5a" stroke-width="1"/>
<line x1="30.200000000000003" y1="146.40" x2="32.6" y2="146.40" stroke="#5a5a5a" stroke-width="0.9"/>
<text x="28.00" y="149.60" font-size="9.46" text-anchor="end" stroke="#333" stroke-width="0.05" fill="#333" textLength="5.66" lengthAdjust="spacingAndGlyphs">1</text>
<line x1="30.200000000000003" y1="97.80" x2="32.6" y2="97.80" stroke="#5a5a5a" stroke-width="0.9"/>
<text x="28.00" y="101.00" font-size="9.46" text-anchor="end" stroke="#333" stroke-width="0.05" fill="#333" textLength="5.66" lengthAdjust="spacingAndGlyphs">2</text>
<line x1="30.200000000000003" y1="49.20" x2="32.6" y2="49.20" stroke="#5a5a5a" stroke-width="0.9"/>
<text x="28.00" y="52.40" font-size="9.46" text-anchor="end" stroke="#333" stroke-width="0.05" fill="#333" textLength="5.66" lengthAdjust="spacingAndGlyphs">3</text>
<line x1="40.40" y1="192.4" x2="40.40" y2="194.8" stroke="#5a5a5a" stroke-width="0.9"/>
<text x="40.40" y="205.20" font-size="9.46" text-anchor="middle" stroke="#333" stroke-width="0.05" fill="#333" textLength="5.66" lengthAdjust="spacingAndGlyphs">1</text>
<line x1="73.48" y1="192.4" x2="73.48" y2="194.8" stroke="#5a5a5a" stroke-width="0.9"/>
<text x="73.48" y="205.20" font-size="9.46" text-anchor="middle" stroke="#333" stroke-width="0.05" fill="#333" textLength="5.66" lengthAdjust="spacingAndGlyphs">2</text>
<line x1="106.56" y1="192.4" x2="106.56" y2="194.8" stroke="#5a5a5a" stroke-width="0.9"/>
<text x="106.56" y="205.20" font-size="9.46" text-anchor="middle" stroke="#333" stroke-width="0.05" fill="#333" textLength="5.66" lengthAdjust="spacingAndGlyphs">3</text>
<line x1="139.64" y1="192.4" x2="139.64" y2="194.8" stroke="#5a5a5a" stroke-width="0.9"/>
<text x="139.64" y="205.20" font-size="9.46" text-anchor="middle" stroke="#333" stroke-width="0.05" fill="#333" textLength="5.66" lengthAdjust="spacingAndGlyphs">4</text>
<line x1="172.72" y1="192.4" x2="172.72" y2="194.8" stroke="#5a5a5a" stroke-width="0.9"/>
<text x="172.72" y="205.20" font-size="9.46" text-anchor="middle" stroke="#333" stroke-width="0.05" fill="#333" textLength="5.66" lengthAdjust="spacingAndGlyphs">5</text>
<line x1="205.80" y1="192.4" x2="205.80" y2="194.8" stroke="#5a5a5a" stroke-width="0.9"/>
<text x="205.80" y="205.20" font-size="9.46" text-anchor="middle" stroke="#333" stroke-width="0.05" fill="#333" textLength="5.66" lengthAdjust="spacingAndGlyphs">6</text>
<text x="125.10" y="216.50" font-size="9.94" text-anchor="middle" stroke="#000" stroke-width="0.16" fill="#000" textLength="58.25" lengthAdjust="spacingAndGlyphs">Mean length</text>
<text x="0" y="0" font-size="10.56" text-anchor="middle" stroke="#000" stroke-width="0.16" fill="#000" textLength="53.24" lengthAdjust="spacingAndGlyphs" transform="translate(16.70,115.90) rotate(-90)">S.D. length</text>
<text x="4.40" y="12.00" font-size="16.32" font-weight="bold" stroke="#000" stroke-width="0.8" fill="#000" textLength="12.10" lengthAdjust="spacingAndGlyphs">A</text>
<rect x="225.4" y="44.0" width="7.50" height="148.0" fill="url(#vg)" stroke="#3a3a3a" stroke-width="0.8"/>
<line x1="232.9" y1="172.50" x2="235.1" y2="172.50" stroke="#3a3a3a" stroke-width="0.8"/>
<text x="236.90" y="175.35" font-size="7.49" stroke="#4a4a4a" stroke-width="0.16" fill="#4a4a4a" textLength="15.59" lengthAdjust="spacingAndGlyphs">0.70</text>
<line x1="232.9" y1="148.38" x2="235.1" y2="148.38" stroke="#3a3a3a" stroke-width="0.8"/>
<text x="236.90" y="151.23" font-size="7.49" stroke="#4a4a4a" stroke-width="0.16" fill="#4a4a4a" textLength="15.59" lengthAdjust="spacingAndGlyphs">0.75</text>
<line x1="232.9" y1="124.26" x2="235.1" y2="124.26" stroke="#3a3a3a" stroke-width="0.8"/>
<text x="236.90" y="127.11" font-size="7.49" stroke="#4a4a4a" stroke-width="0.16" fill="#4a4a4a" textLength="15.59" lengthAdjust="spacingAndGlyphs">0.80</text>
<line x1="232.9" y1="100.14" x2="235.1" y2="100.14" stroke="#3a3a3a" stroke-width="0.8"/>
<text x="236.90" y="102.99" font-size="7.49" stroke="#4a4a4a" stroke-width="0.16" fill="#4a4a4a" textLength="15.59" lengthAdjust="spacingAndGlyphs">0.85</text>
<line x1="232.9" y1="76.02" x2="235.1" y2="76.02" stroke="#3a3a3a" stroke-width="0.8"/>
<text x="236.90" y="78.87" font-size="7.49" stroke="#4a4a4a" stroke-width="0.16" fill="#4a4a4a" textLength="15.59" lengthAdjust="spacingAndGlyphs">0.90</text>
<line x1="232.9" y1="51.90" x2="235.1" y2="51.90" stroke="#3a3a3a" stroke-width="0.8"/>
<text x="236.90" y="54.75" font-size="7.49" stroke="#4a4a4a" stroke-width="0.16" fill="#4a4a4a" textLength="15.59" lengthAdjust="spacingAndGlyphs">0.95</text>
<text x="0" y="0" font-size="7.44" text-anchor="middle" stroke="#333" stroke-width="0.16" fill="#333" textLength="4.14" lengthAdjust="spacingAndGlyphs" transform="translate(261.00,118.80) rotate(-90)">y</text>
<text x="273.40" y="11.40" font-size="16.32" font-weight="bold" stroke="#000" stroke-width="0.8" fill="#000" textLength="11.50" lengthAdjust="spacingAndGlyphs">B</text>
<rect x="307.5" y="13.3" width="150.30" height="97.20" fill="none" stroke="#aaa" stroke-width="1"/>
<clipPath id="cb"><rect x="307.5" y="13.3" width="150.30" height="98.70"/></clipPath><g clip-path="url(#cb)">
<path d="M307.60,110.40 L309.00,109.60 L311.30,107.00 L313.20,104.00 L314.50,100.00 L315.70,95.00 L316.80,88.00 L317.50,85.00 L318.40,80.00 L319.40,75.00 L320.30,70.00 L321.40,65.00 L322.90,62.30 L324.40,64.50 L326.40,70.00 L328.40,75.00 L329.50,80.00 L331.40,85.00 L333.20,89.00 L336.90,95.00 L342.00,100.00 L346.60,104.00 L350.00,105.60 L356.00,107.20 L362.00,108.10 L370.00,108.60 L380.00,109.20 L396.00,109.90 L410.00,110.40 L420.00,110.60 L420.00,110.5 L307.60,110.5 Z" fill="#008000" fill-opacity="0.25" stroke="none"/>
<path d="M307.60,110.40 L309.00,109.60 L311.30,107.00 L313.20,104.00 L314.50,100.00 L315.70,95.00 L316.80,88.00 L317.50,85.00 L318.40,80.00 L319.40,75.00 L320.30,70.00 L321.40,65.00 L322.90,62.30 L324.40,64.50 L326.40,70.00 L328.40,75.00 L329.50,80.00 L331.40,85.00 L333.20,89.00 L336.90,95.00 L342.00,100.00 L346.60,104.00 L350.00,105.60 L356.00,107.20 L362.00,108.10 L370.00,108.60 L380.00,109.20 L396.00,109.90 L410.00,110.40 L420.00,110.60" fill="none" stroke="#008000" stroke-width="1.3" stroke-dasharray="3.3,1.7"/>
<path d="M322.00,110.50 L323.80,110.30 L324.80,108.00 L325.80,100.00 L326.60,88.00 L327.10,75.00 L327.90,60.00 L328.70,48.00 L329.60,38.00 L330.10,30.00 L330.80,24.00 L331.40,20.50 L331.90,18.30 L332.50,20.50 L333.20,24.00 L334.20,30.00 L335.10,38.00 L336.10,48.00 L337.20,60.00 L338.50,75.00 L340.60,88.00 L342.20,100.00 L344.00,103.50 L347.00,108.00 L350.20,109.80 L353.00,110.40 L357.00,110.50 L357.00,110.5 L322.00,110.5 Z" fill="#000000" fill-opacity="0.25" stroke="none"/>
<path d="M322.00,110.50 L323.80,110.30 L324.80,108.00 L325.80,100.00 L326.60,88.00 L327.10,75.00 L327.90,60.00 L328.70,48.00 L329.60,38.00 L330.10,30.00 L330.80,24.00 L331.40,20.50 L331.90,18.30 L332.50,20.50 L333.20,24.00 L334.20,30.00 L335.10,38.00 L336.10,48.00 L337.20,60.00 L338.50,75.00 L340.60,88.00 L342.20,100.00 L344.00,103.50 L347.00,108.00 L350.20,109.80 L353.00,110.40 L357.00,110.50" fill="none" stroke="#000000" stroke-width="1.0"/>
<path d="M354.00,110.50 L357.50,110.20 L360.40,108.00 L362.50,104.00 L364.30,96.00 L365.30,90.00 L367.00,80.00 L368.20,76.00 L369.90,66.00 L371.10,60.00 L372.50,56.50 L374.10,55.50 L375.70,56.50 L377.10,60.00 L378.90,66.00 L379.10,70.00 L381.90,80.00 L384.40,90.00 L385.90,96.00 L388.70,104.00 L392.60,108.00 L395.00,110.00 L398.00,110.50 L398.00,110.5 L354.00,110.5 Z" fill="#0000ff" fill-opacity="0.25" stroke="none"/>
<path d="M354.00,110.50 L357.50,110.20 L360.40,108.00 L362.50,104.00 L364.30,96.00 L365.30,90.00 L367.00,80.00 L368.20,76.00 L369.90,66.00 L371.10,60.00 L372.50,56.50 L374.10,55.50 L375.70,56.50 L377.10,60.00 L378.90,66.00 L379.10,70.00 L381.90,80.00 L384.40,90.00 L385.90,96.00 L388.70,104.00 L392.60,108.00 L395.00,110.00 L398.00,110.50" fill="none" stroke="#0000ff" stroke-width="1.05"/>
<path d="M307.60,110.50 L318.00,110.50 L324.00,110.00 L330.00,106.30 L334.00,103.30 L338.30,100.40 L342.40,97.60 L347.50,95.30 L352.00,94.40 L356.00,94.40 L360.00,95.20 L365.00,96.40 L370.00,97.80 L376.00,99.10 L386.00,101.60 L396.00,104.10 L406.00,105.90 L416.00,107.40 L426.00,108.60 L436.00,109.50 L445.00,110.10 L457.50,110.40 L457.50,110.5 L307.60,110.5 Z" fill="#ff0000" fill-opacity="0.25" stroke="none"/>
<path d="M307.60,110.50 L318.00,110.50 L324.00,110.00 L330.00,106.30 L334.00,103.30 L338.30,100.40 L342.40,97.60 L347.50,95.30 L352.00,94.40 L356.00,94.40 L360.00,95.20 L365.00,96.40 L370.00,97.80 L376.00,99.10 L386.00,101.60 L396.00,104.10 L406.00,105.90 L416.00,107.40 L426.00,108.60 L436.00,109.50 L445.00,110.10 L457.50,110.40" fill="none" stroke="#ff0000" stroke-width="1.3" stroke-dasharray="3.3,1.7"/>
</g>
<line x1="305.1" y1="110.50" x2="307.5" y2="110.50" stroke="#aaa" stroke-width="0.9"/>
<text x="304.20" y="113.45" font-size="9.57" text-anchor="end" stroke="#000" stroke-width="0.16" fill="#000" textLength="14.31" lengthAdjust="spacingAndGlyphs">0.0</text>
<line x1="305.1" y1="76.00" x2="307.5" y2="76.00" stroke="#aaa" stroke-width="0.9"/>
<text x="304.20" y="79.60" font-size="9.57" text-anchor="end" stroke="#000" stroke-width="0.16" fill="#000" textLength="14.31" lengthAdjust="spacingAndGlyphs">0.2</text>
<line x1="305.1" y1="41.50" x2="307.5" y2="41.50" stroke="#aaa" stroke-width="0.9"/>
<text x="304.20" y="46.00" font-size="9.57" text-anchor="end" stroke="#000" stroke-width="0.16" fill="#000" textLength="14.31" lengthAdjust="spacingAndGlyphs">0.4</text>
<line x1="317.70" y1="110.5" x2="317.70" y2="112.9" stroke="#aaa" stroke-width="0.9"/>
<text x="318.00" y="121.30" font-size="9.57" text-anchor="middle" stroke="#000" stroke-width="0.16" fill="#000" textLength="5.73" lengthAdjust="spacingAndGlyphs">0</text>
<line x1="373.40" y1="110.5" x2="373.40" y2="112.9" stroke="#aaa" stroke-width="0.9"/>
<text x="372.60" y="121.30" font-size="9.57" text-anchor="middle" stroke="#000" stroke-width="0.16" fill="#000" textLength="11.45" lengthAdjust="spacingAndGlyphs">10</text>
<line x1="429.10" y1="110.5" x2="429.10" y2="112.9" stroke="#aaa" stroke-width="0.9"/>
<text x="429.10" y="121.30" font-size="9.57" text-anchor="middle" stroke="#000" stroke-width="0.16" fill="#000" textLength="11.45" lengthAdjust="spacingAndGlyphs">20</text>
<text x="376.60" y="131.10" font-size="9.35" text-anchor="middle" stroke="#000" stroke-width="0.16" fill="#000" textLength="54.19" lengthAdjust="spacingAndGlyphs">Length (µm)</text>
<text x="0" y="0" font-size="10.70" text-anchor="middle" stroke="#000" stroke-width="0.16" fill="#000" textLength="36.31" lengthAdjust="spacingAndGlyphs" transform="translate(283.50,62.90) rotate(-90)">Density</text>
<text x="455.60" y="21.90" font-size="8.61" text-anchor="end" font-weight="bold" stroke="#808080" stroke-width="0.16" fill="#808080" textLength="49.74" lengthAdjust="spacingAndGlyphs">[Mean, S.D]</text>
<text x="416.00" y="30.90" font-size="8.50" font-weight="bold" stroke="#008000" stroke-width="0.16" fill="#008000" textLength="32.88" lengthAdjust="spacingAndGlyphs">[2, 2.5]</text>
<text x="416.00" y="40.35" font-size="8.50" font-weight="bold" stroke="#000000" stroke-width="0.16" fill="#000000" textLength="32.88" lengthAdjust="spacingAndGlyphs">[2, 0.5]</text>
<text x="416.00" y="49.80" font-size="8.50" font-weight="bold" stroke="#0000ff" stroke-width="0.16" fill="#0000ff" textLength="32.88" lengthAdjust="spacingAndGlyphs">[5, 0.5]</text>
<text x="416.00" y="59.25" font-size="8.50" font-weight="bold" stroke="#ff0000" stroke-width="0.16" fill="#ff0000" textLength="32.88" lengthAdjust="spacingAndGlyphs">[5, 2.5]</text>
<text x="273.40" y="138.40" font-size="16.32" font-weight="bold" stroke="#000" stroke-width="0.8" fill="#000" textLength="11.10" lengthAdjust="spacingAndGlyphs">C</text>
<rect x="307.5" y="140.3" width="150.80" height="97.90" fill="none" stroke="#aaa" stroke-width="1"/>
<path d="M337.90,237.84 L338.28,237.77 L338.66,237.68 L339.05,237.58 L339.43,237.46 L339.81,237.33 L340.19,237.18 L340.57,237.00 L340.96,236.80 L341.34,236.57 L341.72,236.31 L342.10,236.02 L342.48,235.69 L342.87,235.31 L343.25,234.89 L343.63,234.41 L344.01,233.88 L344.39,233.27 L344.78,232.57 L345.16,231.78 L345.54,230.86 L345.92,229.81 L346.30,228.59 L346.69,227.18 L347.07,225.53 L347.45,223.61 L347.83,221.39 L348.21,218.83 L348.60,215.89 L348.98,212.54 L349.36,208.79 L349.74,204.61 L350.12,200.04 L350.51,195.10 L350.89,189.87 L351.27,184.43 L351.65,178.90 L352.03,173.41 L352.42,168.11 L352.80,163.17 L353.18,158.73 L353.56,154.97 L353.94,152.01 L354.33,149.97 L354.71,148.93 L355.09,148.93 L355.47,149.97 L355.86,152.01 L356.24,154.97 L356.62,158.73 L357.00,163.17 L357.38,168.11 L357.77,173.41 L358.15,178.90 L358.53,184.43 L358.91,189.87 L359.29,195.10 L359.68,200.04 L360.06,204.61 L360.44,208.79 L360.82,212.54 L361.20,215.89 L361.59,218.83 L361.97,221.39 L362.35,223.61 L362.73,225.53 L363.11,227.18 L363.50,228.59 L363.88,229.81 L364.26,230.86 L364.64,231.78 L365.02,232.57 L365.41,233.27 L365.79,233.88 L366.17,234.41 L366.55,234.89 L366.93,235.31 L367.32,235.69 L367.70,236.02 L368.08,236.31 L368.46,236.57 L368.84,236.80 L369.23,237.00 L369.61,237.18 L369.99,237.33 L370.37,237.46 L370.75,237.58 L371.14,237.68 L371.52,237.77 L371.90,237.84 L371.90,238.2 L337.90,238.2 Z" fill="#000" fill-opacity="0.25"/>
<path d="M337.90,237.78 L338.28,237.70 L338.66,237.60 L339.05,237.49 L339.43,237.36 L339.81,237.21 L340.19,237.05 L340.57,236.85 L340.96,236.63 L341.34,236.39 L341.72,236.10 L342.10,235.79 L342.48,235.43 L342.87,235.03 L343.25,234.58 L343.63,234.07 L344.01,233.49 L344.39,232.84 L344.78,232.10 L345.16,231.25 L345.54,230.28 L345.92,229.16 L346.30,227.86 L346.69,226.35 L347.07,224.60 L347.45,222.57 L347.83,220.23 L348.21,217.53 L348.60,214.46 L348.98,210.97 L349.36,207.08 L349.74,202.77 L350.12,198.06 L350.51,193.01 L350.89,187.68 L351.27,182.16 L351.65,176.57 L352.03,171.03 L352.42,165.71 L352.80,160.74 L353.18,156.31 L353.56,152.55 L353.94,149.60 L354.33,147.57 L354.71,146.53 L355.09,146.53 L355.47,147.57 L355.86,149.60 L356.24,152.55 L356.62,156.31 L357.00,160.74 L357.38,165.71 L357.77,171.03 L358.15,176.57 L358.53,182.16 L358.91,187.68 L359.29,193.01 L359.68,198.06 L360.06,202.77 L360.44,207.08 L360.82,210.97 L361.20,214.46 L361.59,217.53 L361.97,220.23 L362.35,222.57 L362.73,224.60 L363.11,226.35 L363.50,227.86 L363.88,229.16 L364.26,230.28 L364.64,231.25 L365.02,232.10 L365.41,232.84 L365.79,233.49 L366.17,234.07 L366.55,234.58 L366.93,235.03 L367.32,235.43 L367.70,235.79 L368.08,236.10 L368.46,236.39 L368.84,236.63 L369.23,236.85 L369.61,237.05 L369.99,237.21 L370.37,237.36 L370.75,237.49 L371.14,237.60 L371.52,237.70 L371.90,237.78 L371.90,238.2 L337.90,238.2 Z" fill="#008000" fill-opacity="0.25"/>
<path d="M409.80,237.66 L410.18,237.56 L410.56,237.44 L410.95,237.31 L411.33,237.16 L411.71,236.99 L412.09,236.80 L412.47,236.58 L412.86,236.33 L413.24,236.05 L413.62,235.73 L414.00,235.38 L414.38,234.98 L414.77,234.54 L415.15,234.04 L415.53,233.48 L415.91,232.85 L416.29,232.13 L416.68,231.31 L417.06,230.38 L417.44,229.31 L417.82,228.08 L418.20,226.66 L418.59,225.02 L418.97,223.12 L419.35,220.93 L419.73,218.42 L420.11,215.56 L420.50,212.32 L420.88,208.69 L421.26,204.65 L421.64,200.23 L422.02,195.44 L422.41,190.34 L422.79,185.00 L423.17,179.51 L423.55,173.99 L423.93,168.55 L424.32,163.35 L424.70,158.53 L425.08,154.23 L425.46,150.61 L425.84,147.77 L426.23,145.82 L426.61,144.82 L426.99,144.82 L427.37,145.82 L427.76,147.77 L428.14,150.61 L428.52,154.23 L428.90,158.53 L429.28,163.35 L429.67,168.55 L430.05,173.99 L430.43,179.51 L430.81,185.00 L431.19,190.34 L431.58,195.44 L431.96,200.23 L432.34,204.65 L432.72,208.69 L433.10,212.32 L433.49,215.56 L433.87,218.42 L434.25,220.93 L434.63,223.12 L435.01,225.02 L435.40,226.66 L435.78,228.08 L436.16,229.31 L436.54,230.38 L436.92,231.31 L437.31,232.13 L437.69,232.85 L438.07,233.48 L438.45,234.04 L438.83,234.54 L439.22,234.98 L439.60,235.38 L439.98,235.73 L440.36,236.05 L440.74,236.33 L441.13,236.58 L441.51,236.80 L441.89,236.99 L442.27,237.16 L442.65,237.31 L443.04,237.44 L443.42,237.56 L443.80,237.66 L443.80,238.2 L409.80,238.2 Z" fill="#0000ff" fill-opacity="0.25"/>
<path d="M409.80,237.66 L410.18,237.56 L410.56,237.44 L410.95,237.31 L411.33,237.16 L411.71,236.99 L412.09,236.80 L412.47,236.58 L412.86,236.33 L413.24,236.05 L413.62,235.73 L414.00,235.38 L414.38,234.98 L414.77,234.54 L415.15,234.04 L415.53,233.48 L415.91,232.85 L416.29,232.13 L416.68,231.31 L417.06,230.38 L417.44,229.31 L417.82,228.08 L418.20,226.66 L418.59,225.02 L418.97,223.12 L419.35,220.93 L419.73,218.42 L420.11,215.56 L420.50,212.32 L420.88,208.69 L421.26,204.65 L421.64,200.23 L422.02,195.44 L422.41,190.34 L422.79,185.00 L423.17,179.51 L423.55,173.99 L423.93,168.55 L424.32,163.35 L424.70,158.53 L425.08,154.23 L425.46,150.61 L425.84,147.77 L426.23,145.82 L426.61,144.82 L426.99,144.82 L427.37,145.82 L427.76,147.77 L428.14,150.61 L428.52,154.23 L428.90,158.53 L429.28,163.35 L429.67,168.55 L430.05,173.99 L430.43,179.51 L430.81,185.00 L431.19,190.34 L431.58,195.44 L431.96,200.23 L432.34,204.65 L432.72,208.69 L433.10,212.32 L433.49,215.56 L433.87,218.42 L434.25,220.93 L434.63,223.12 L435.01,225.02 L435.40,226.66 L435.78,228.08 L436.16,229.31 L436.54,230.38 L436.92,231.31 L437.31,232.13 L437.69,232.85 L438.07,233.48 L438.45,234.04 L438.83,234.54 L439.22,234.98 L439.60,235.38 L439.98,235.73 L440.36,236.05 L440.74,236.33 L441.13,236.58 L441.51,236.80 L441.89,236.99 L442.27,237.16 L442.65,237.31 L443.04,237.44 L443.42,237.56 L443.80,237.66 L443.80,238.2 L409.80,238.2 Z" fill="#ff0000" fill-opacity="0.25"/>
<path d="M337.90,237.84 L338.28,237.77 L338.66,237.68 L339.05,237.58 L339.43,237.46 L339.81,237.33 L340.19,237.18 L340.57,237.00 L340.96,236.80 L341.34,236.57 L341.72,236.31 L342.10,236.02 L342.48,235.69 L342.87,235.31 L343.25,234.89 L343.63,234.41 L344.01,233.88 L344.39,233.27 L344.78,232.57 L345.16,231.78 L345.54,230.86 L345.92,229.81 L346.30,228.59 L346.69,227.18 L347.07,225.53 L347.45,223.61 L347.83,221.39 L348.21,218.83 L348.60,215.89 L348.98,212.54 L349.36,208.79 L349.74,204.61 L350.12,200.04 L350.51,195.10 L350.89,189.87 L351.27,184.43 L351.65,178.90 L352.03,173.41 L352.42,168.11 L352.80,163.17 L353.18,158.73 L353.56,154.97 L353.94,152.01 L354.33,149.97 L354.71,148.93 L355.09,148.93 L355.47,149.97 L355.86,152.01 L356.24,154.97 L356.62,158.73 L357.00,163.17 L357.38,168.11 L357.77,173.41 L358.15,178.90 L358.53,184.43 L358.91,189.87 L359.29,195.10 L359.68,200.04 L360.06,204.61 L360.44,208.79 L360.82,212.54 L361.20,215.89 L361.59,218.83 L361.97,221.39 L362.35,223.61 L362.73,225.53 L363.11,227.18 L363.50,228.59 L363.88,229.81 L364.26,230.86 L364.64,231.78 L365.02,232.57 L365.41,233.27 L365.79,233.88 L366.17,234.41 L366.55,234.89 L366.93,235.31 L367.32,235.69 L367.70,236.02 L368.08,236.31 L368.46,236.57 L368.84,236.80 L369.23,237.00 L369.61,237.18 L369.99,237.33 L370.37,237.46 L370.75,237.58 L371.14,237.68 L371.52,237.77 L371.90,237.84" fill="none" stroke="#000" stroke-width="1.1"/>
<path d="M337.90,237.78 L338.28,237.70 L338.66,237.60 L339.05,237.49 L339.43,237.36 L339.81,237.21 L340.19,237.05 L340.57,236.85 L340.96,236.63 L341.34,236.39 L341.72,236.10 L342.10,235.79 L342.48,235.43 L342.87,235.03 L343.25,234.58 L343.63,234.07 L344.01,233.49 L344.39,232.84 L344.78,232.10 L345.16,231.25 L345.54,230.28 L345.92,229.16 L346.30,227.86 L346.69,226.35 L347.07,224.60 L347.45,222.57 L347.83,220.23 L348.21,217.53 L348.60,214.46 L348.98,210.97 L349.36,207.08 L349.74,202.77 L350.12,198.06 L350.51,193.01 L350.89,187.68 L351.27,182.16 L351.65,176.57 L352.03,171.03 L352.42,165.71 L352.80,160.74 L353.18,156.31 L353.56,152.55 L353.94,149.60 L354.33,147.57 L354.71,146.53 L355.09,146.53 L355.47,147.57 L355.86,149.60 L356.24,152.55 L356.62,156.31 L357.00,160.74 L357.38,165.71 L357.77,171.03 L358.15,176.57 L358.53,182.16 L358.91,187.68 L359.29,193.01 L359.68,198.06 L360.06,202.77 L360.44,207.08 L360.82,210.97 L361.20,214.46 L361.59,217.53 L361.97,220.23 L362.35,222.57 L362.73,224.60 L363.11,226.35 L363.50,227.86 L363.88,229.16 L364.26,230.28 L364.64,231.25 L365.02,232.10 L365.41,232.84 L365.79,233.49 L366.17,234.07 L366.55,234.58 L366.93,235.03 L367.32,235.43 L367.70,235.79 L368.08,236.10 L368.46,236.39 L368.84,236.63 L369.23,236.85 L369.61,237.05 L369.99,237.21 L370.37,237.36 L370.75,237.49 L371.14,237.60 L371.52,237.70 L371.90,237.78" fill="none" stroke="#00a000" stroke-width="1.3" stroke-dasharray="2.5,1.6"/>
<path d="M409.80,237.66 L410.18,237.56 L410.56,237.44 L410.95,237.31 L411.33,237.16 L411.71,236.99 L412.09,236.80 L412.47,236.58 L412.86,236.33 L413.24,236.05 L413.62,235.73 L414.00,235.38 L414.38,234.98 L414.77,234.54 L415.15,234.04 L415.53,233.48 L415.91,232.85 L416.29,232.13 L416.68,231.31 L417.06,230.38 L417.44,229.31 L417.82,228.08 L418.20,226.66 L418.59,225.02 L418.97,223.12 L419.35,220.93 L419.73,218.42 L420.11,215.56 L420.50,212.32 L420.88,208.69 L421.26,204.65 L421.64,200.23 L422.02,195.44 L422.41,190.34 L422.79,185.00 L423.17,179.51 L423.55,173.99 L423.93,168.55 L424.32,163.35 L424.70,158.53 L425.08,154.23 L425.46,150.61 L425.84,147.77 L426.23,145.82 L426.61,144.82 L426.99,144.82 L427.37,145.82 L427.76,147.77 L428.14,150.61 L428.52,154.23 L428.90,158.53 L429.28,163.35 L429.67,168.55 L430.05,173.99 L430.43,179.51 L430.81,185.00 L431.19,190.34 L431.58,195.44 L431.96,200.23 L432.34,204.65 L432.72,208.69 L433.10,212.32 L433.49,215.56 L433.87,218.42 L434.25,220.93 L434.63,223.12 L435.01,225.02 L435.40,226.66 L435.78,228.08 L436.16,229.31 L436.54,230.38 L436.92,231.31 L437.31,232.13 L437.69,232.85 L438.07,233.48 L438.45,234.04 L438.83,234.54 L439.22,234.98 L439.60,235.38 L439.98,235.73 L440.36,236.05 L440.74,236.33 L441.13,236.58 L441.51,236.80 L441.89,236.99 L442.27,237.16 L442.65,237.31 L443.04,237.44 L443.42,237.56 L443.80,237.66" fill="none" stroke="#0000ff" stroke-width="1.1"/>
<path d="M409.80,237.66 L410.18,237.56 L410.56,237.44 L410.95,237.31 L411.33,237.16 L411.71,236.99 L412.09,236.80 L412.47,236.58 L412.86,236.33 L413.24,236.05 L413.62,235.73 L414.00,235.38 L414.38,234.98 L414.77,234.54 L415.15,234.04 L415.53,233.48 L415.91,232.85 L416.29,232.13 L416.68,231.31 L417.06,230.38 L417.44,229.31 L417.82,228.08 L418.20,226.66 L418.59,225.02 L418.97,223.12 L419.35,220.93 L419.73,218.42 L420.11,215.56 L420.50,212.32 L420.88,208.69 L421.26,204.65 L421.64,200.23 L422.02,195.44 L422.41,190.34 L422.79,185.00 L423.17,179.51 L423.55,173.99 L423.93,168.55 L424.32,163.35 L424.70,158.53 L425.08,154.23 L425.46,150.61 L425.84,147.77 L426.23,145.82 L426.61,144.82 L426.99,144.82 L427.37,145.82 L427.76,147.77 L428.14,150.61 L428.52,154.23 L428.90,158.53 L429.28,163.35 L429.67,168.55 L430.05,173.99 L430.43,179.51 L430.81,185.00 L431.19,190.34 L431.58,195.44 L431.96,200.23 L432.34,204.65 L432.72,208.69 L433.10,212.32 L433.49,215.56 L433.87,218.42 L434.25,220.93 L434.63,223.12 L435.01,225.02 L435.40,226.66 L435.78,228.08 L436.16,229.31 L436.54,230.38 L436.92,231.31 L437.31,232.13 L437.69,232.85 L438.07,233.48 L438.45,234.04 L438.83,234.54 L439.22,234.98 L439.60,235.38 L439.98,235.73 L440.36,236.05 L440.74,236.33 L441.13,236.58 L441.51,236.80 L441.89,236.99 L442.27,237.16 L442.65,237.31 L443.04,237.44 L443.42,237.56 L443.80,237.66" fill="none" stroke="#ff0000" stroke-width="1.3" stroke-dasharray="2.5,1.6"/>
<line x1="305.1" y1="238.20" x2="307.5" y2="238.20" stroke="#aaa" stroke-width="0.9"/>
<text x="303.30" y="246.70" font-size="9.89" text-anchor="end" stroke="#000" stroke-width="0.16" fill="#000" textLength="5.92" lengthAdjust="spacingAndGlyphs">0</text>
<line x1="305.1" y1="198.20" x2="307.5" y2="198.20" stroke="#aaa" stroke-width="0.9"/>
<text x="303.30" y="199.70" font-size="9.89" text-anchor="end" stroke="#000" stroke-width="0.16" fill="#000" textLength="5.92" lengthAdjust="spacingAndGlyphs">5</text>
<line x1="305.1" y1="158.20" x2="307.5" y2="158.20" stroke="#aaa" stroke-width="0.9"/>
<text x="303.30" y="164.30" font-size="9.89" text-anchor="end" stroke="#000" stroke-width="0.16" fill="#000" textLength="11.83" lengthAdjust="spacingAndGlyphs">10</text>
<line x1="350.29" y1="238.2" x2="350.29" y2="240.6" stroke="#aaa" stroke-width="0.9"/>
<text x="348.90" y="248.30" font-size="9.57" text-anchor="middle" stroke="#000" stroke-width="0.16" fill="#000" textLength="14.31" lengthAdjust="spacingAndGlyphs">0.4</text>
<line x1="393.73" y1="238.2" x2="393.73" y2="240.6" stroke="#aaa" stroke-width="0.9"/>
<text x="391.80" y="248.30" font-size="9.57" text-anchor="middle" stroke="#000" stroke-width="0.16" fill="#000" textLength="14.31" lengthAdjust="spacingAndGlyphs">0.8</text>
<line x1="437.17" y1="238.2" x2="437.17" y2="240.6" stroke="#aaa" stroke-width="0.9"/>
<text x="437.10" y="248.30" font-size="9.57" text-anchor="middle" stroke="#000" stroke-width="0.16" fill="#000" textLength="14.31" lengthAdjust="spacingAndGlyphs">1.2</text>
<text x="379.00" y="259.90" font-size="9.25" text-anchor="middle" stroke="#000" stroke-width="0.16" fill="#000" textLength="48.84" lengthAdjust="spacingAndGlyphs">Width (µm)</text>
<text x="0" y="0" font-size="10.47" text-anchor="middle" stroke="#000" stroke-width="0.16" fill="#000" textLength="35.55" lengthAdjust="spacingAndGlyphs" transform="translate(282.90,190.00) rotate(-90)">Density</text>
</svg></body></html>
